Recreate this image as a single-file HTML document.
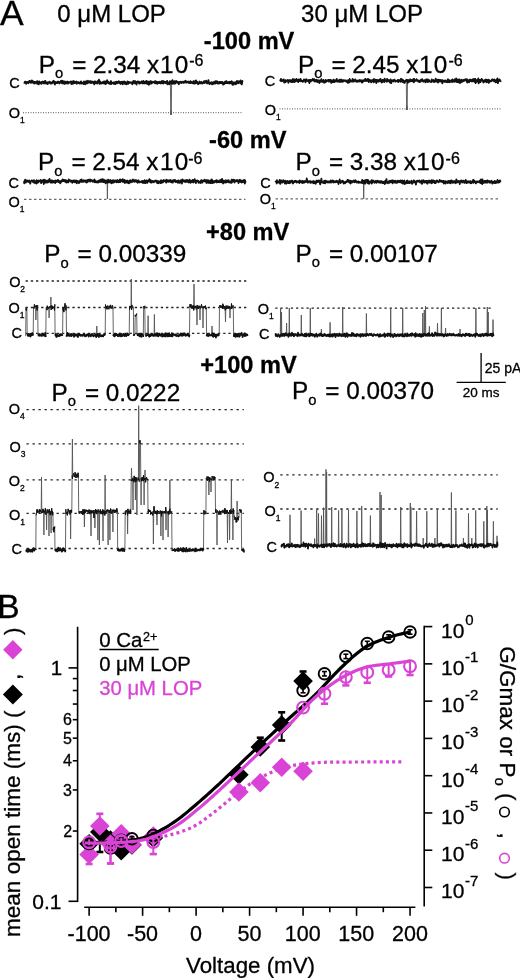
<!DOCTYPE html>
<html><head><meta charset="utf-8"><style>
html,body{margin:0;padding:0;background:#fff;}
svg{display:block;will-change:transform;}
text{font-family:"Liberation Sans",sans-serif;stroke-width:0.3px;}
</style></head><body>
<svg width="520" height="978" viewBox="0 0 520 978">
<rect width="520" height="978" fill="#fff"/>
<text x="0.00" y="24.80" font-size="35.5" fill="#000" stroke="#000">A</text>
<text x="57.29" y="22.00" font-size="24" fill="#000" stroke="#000">0 μM LOP</text>
<text x="301.04" y="22.00" font-size="24" fill="#000" stroke="#000">30 μM LOP</text>
<text x="203.86" y="48.60" font-size="23.6" font-weight="bold" fill="#000" stroke="#000">-100 mV</text>
<text x="38.81" y="72.60" font-size="24.3" fill="#000" stroke="#000">P</text>
<text x="55.11" y="78.00" font-size="14.8" stroke="#000">o</text>
<text x="72.15" y="72.60" font-size="24.3" stroke="#000">= 2.34 x</text>
<text x="174.66" y="72.60" font-size="24.3" fill="#000" stroke="#000">0</text>
<text x="159.91" y="72.60" font-size="24.3" fill="#000" stroke="#000">1</text>
<text x="189.18" y="65.90" font-size="16" fill="#000" stroke="#000">-6</text>
<text x="298.06" y="72.60" font-size="24.3" fill="#000" stroke="#000">P</text>
<text x="314.36" y="78.00" font-size="14.8" stroke="#000">o</text>
<text x="331.40" y="72.60" font-size="24.3" stroke="#000">= 2.45 x</text>
<text x="433.86" y="72.60" font-size="24.3" fill="#000" stroke="#000">0</text>
<text x="419.11" y="72.60" font-size="24.3" fill="#000" stroke="#000">1</text>
<text x="448.48" y="65.90" font-size="16" fill="#000" stroke="#000">-6</text>
<text x="9.28" y="88.00" font-size="14.5" fill="#000" stroke="#000">C</text>
<text x="8.85" y="118.00" font-size="14.5" fill="#000" stroke="#000">O</text>
<text x="20.03" y="123.20" font-size="8.5" stroke="#000">1</text>
<text x="264.77" y="86.00" font-size="14.5" fill="#000" stroke="#000">C</text>
<text x="264.85" y="115.00" font-size="14.5" fill="#000" stroke="#000">O</text>
<text x="276.03" y="120.20" font-size="8.5" stroke="#000">1</text>
<line x1="23.00" y1="112.70" x2="243.00" y2="112.70" stroke="#555" stroke-width="1" stroke-dasharray="1 1.5"/>
<line x1="279.50" y1="108.90" x2="501.00" y2="108.90" stroke="#555" stroke-width="1" stroke-dasharray="1 1.5"/>
<polyline points="24.00,82.6 24.30,82.9 24.60,82.4 24.90,81.8 25.20,82.2 25.50,81.7 25.80,82.7 26.10,83.8 26.40,82.2 26.70,82.0 27.00,83.0 27.30,82.9 27.60,82.7 27.90,81.8 28.20,82.6 28.50,83.2 28.80,81.4 29.10,82.2 29.40,80.9 29.70,81.4 30.00,80.9 30.30,82.4 30.60,81.5 30.90,82.8 31.20,82.7 31.50,82.4 31.80,80.3 32.10,82.1 32.40,82.6 32.70,82.7 33.00,81.2 33.30,82.2 33.60,81.7 33.90,81.9 34.20,83.6 34.50,81.9 34.80,82.6 35.10,83.4 35.40,82.1 35.70,82.5 36.00,82.7 36.30,82.7 36.60,81.5 36.90,82.7 37.20,83.8 37.50,81.2 37.80,83.4 38.10,82.7 38.40,82.0 38.70,84.4 39.00,83.3 39.30,81.5 39.60,82.7 39.90,83.1 40.20,82.4 40.50,83.2 40.80,82.5 41.10,83.2 41.40,83.9 41.70,82.0 42.00,82.8 42.30,82.2 42.60,82.7 42.90,81.5 43.20,82.1 43.50,82.4 43.80,83.4 44.10,83.6 44.40,81.4 44.70,81.9 45.00,83.2 45.30,80.8 45.60,82.2 45.90,82.5 46.20,83.7 46.50,83.2 46.80,82.3 47.10,82.3 47.40,82.4 47.70,84.0 48.00,82.2 48.30,82.3 48.60,82.9 48.90,82.5 49.20,82.4 49.50,81.6 49.80,82.6 50.10,82.2 50.40,83.6 50.70,83.2 51.00,82.6 51.30,83.2 51.60,82.3 51.90,83.5 52.20,82.6 52.50,83.1 52.80,81.4 53.10,82.9 53.40,81.1 53.70,80.8 54.00,82.3 54.30,81.8 54.60,82.7 54.90,84.6 55.20,81.9 55.50,82.0 55.80,82.8 56.10,83.0 56.40,82.4 56.70,82.4 57.00,83.2 57.30,83.1 57.60,81.7 57.90,82.5 58.20,82.6 58.50,81.7 58.80,82.8 59.10,81.8 59.40,83.5 59.70,82.8 60.00,82.7 60.30,82.1 60.60,82.5 60.90,80.8 61.20,81.6 61.50,82.9 61.80,80.7 62.10,83.4 62.40,81.0 62.70,83.3 63.00,81.8 63.30,83.3 63.60,82.7 63.90,81.2 64.20,83.7 64.50,83.9 64.80,82.5 65.10,82.4 65.40,82.5 65.70,81.7 66.00,83.6 66.30,82.1 66.60,82.6 66.90,81.9 67.20,82.0 67.50,81.5 67.80,83.7 68.10,82.5 68.40,83.5 68.70,82.6 69.00,82.0 69.30,82.3 69.60,82.1 69.90,82.6 70.20,82.3 70.50,82.3 70.80,81.4 71.10,81.9 71.40,84.1 71.70,82.0 72.00,81.7 72.30,82.9 72.60,83.9 72.90,81.3 73.20,82.4 73.50,82.0 73.80,81.0 74.10,83.3 74.40,82.6 74.70,82.7 75.00,81.9 75.30,83.0 75.60,82.1 75.90,82.5 76.20,81.6 76.50,81.5 76.80,83.8 77.10,82.1 77.40,82.9 77.70,82.6 78.00,82.2 78.30,82.1 78.60,83.2 78.90,82.3 79.20,82.5 79.50,82.6 79.80,83.7 80.10,83.2 80.40,82.9 80.70,82.1 81.00,81.4 81.30,83.5 81.60,83.5 81.90,82.5 82.20,83.1 82.50,83.3 82.80,83.3 83.10,83.4 83.40,82.2 83.70,84.0 84.00,81.5 84.30,83.4 84.60,83.0 84.90,83.4 85.20,84.3 85.50,83.9 85.80,81.6 86.10,81.1 86.40,83.3 86.70,81.7 87.00,82.6 87.30,83.4 87.60,81.1 87.90,80.7 88.20,82.8 88.50,82.6 88.80,82.4 89.10,82.6 89.40,81.8 89.70,81.2 90.00,82.5 90.30,81.7 90.60,81.1 90.90,83.1 91.20,82.5 91.50,83.0 91.80,81.7 92.10,82.0 92.40,81.7 92.70,81.8 93.00,82.8 93.30,81.9 93.60,82.9 93.90,82.9 94.20,84.4 94.50,81.3 94.80,83.4 95.10,82.5 95.40,82.6 95.70,81.3 96.00,82.2 96.30,83.3 96.60,82.5 96.90,82.7 97.20,82.3 97.50,83.6 97.80,82.6 98.10,80.6 98.40,82.0 98.70,80.8 99.00,79.7 99.30,82.1 99.60,83.8 99.90,82.6 100.20,81.5 100.50,81.8 100.80,83.6 101.10,82.7 101.40,82.6 101.70,82.6 102.00,82.6 102.30,83.3 102.60,83.1 102.90,82.8 103.20,81.7 103.50,83.1 103.80,82.0 104.10,83.6 104.40,81.5 104.70,82.5 105.00,82.6 105.30,81.4 105.60,84.1 105.90,83.9 106.20,82.2 106.50,83.3 106.80,82.9 107.10,80.2 107.40,82.8 107.70,82.5 108.00,82.7 108.30,81.6 108.60,82.4 108.90,82.4 109.20,83.7 109.50,82.9 109.80,82.6 110.10,84.0 110.40,82.1 110.70,82.2 111.00,81.0 111.30,84.0 111.60,83.5 111.90,83.4 112.20,83.2 112.50,82.7 112.80,82.8 113.10,82.4 113.40,82.4 113.70,82.6 114.00,84.0 114.30,83.1 114.60,82.5 114.90,82.1 115.20,82.0 115.50,84.0 115.80,83.1 116.10,82.7 116.40,82.3 116.70,81.6 117.00,82.5 117.30,83.4 117.60,82.2 117.90,82.4 118.20,82.4 118.50,82.7 118.80,81.2 119.10,82.4 119.40,81.8 119.70,83.4 120.00,81.9 120.30,83.1 120.60,84.0 120.90,82.3 121.20,82.1 121.50,82.8 121.80,82.6 122.10,81.7 122.40,83.0 122.70,84.4 123.00,82.4 123.30,82.4 123.60,81.7 123.90,82.9 124.20,81.5 124.50,81.6 124.80,83.8 125.10,81.8 125.40,83.6 125.70,84.0 126.00,82.8 126.30,83.1 126.60,84.4 126.90,82.4 127.20,82.1 127.50,81.4 127.80,82.6 128.10,83.9 128.40,83.5 128.70,81.8 129.00,81.8 129.30,82.1 129.60,82.9 129.90,82.4 130.20,82.8 130.50,82.9 130.80,82.3 131.10,82.6 131.40,82.8 131.70,82.5 132.00,83.1 132.30,84.3 132.60,83.1 132.90,82.7 133.20,81.1 133.50,82.9 133.80,80.8 134.10,81.3 134.40,83.4 134.70,83.2 135.00,82.5 135.30,81.1 135.60,82.3 135.90,82.0 136.20,83.2 136.50,84.6 136.80,82.8 137.10,81.9 137.40,81.5 137.70,82.5 138.00,82.4 138.30,81.6 138.60,82.7 138.90,81.6 139.20,83.6 139.50,83.6 139.80,83.6 140.10,82.2 140.40,83.1 140.70,82.5 141.00,82.3 141.30,82.3 141.60,81.4 141.90,81.3 142.20,83.3 142.50,82.4 142.80,82.8 143.10,83.5 143.40,81.0 143.70,81.9 144.00,82.8 144.30,83.0 144.60,82.3 144.90,83.5 145.20,82.8 145.50,81.5 145.80,81.8 146.10,83.3 146.40,83.0 146.70,80.9 147.00,83.8 147.30,83.1 147.60,83.8 147.90,82.3 148.20,82.3 148.50,81.6 148.80,84.9 149.10,82.4 149.40,84.0 149.70,82.0 150.00,82.7 150.30,81.1 150.60,82.3 150.90,83.5 151.20,81.5 151.50,83.6 151.80,82.9 152.10,81.7 152.40,82.1 152.70,82.2 153.00,82.6 153.30,82.1 153.60,81.9 153.90,82.3 154.20,81.7 154.50,81.4 154.80,82.6 155.10,83.4 155.40,81.2 155.70,82.6 156.00,82.0 156.30,81.7 156.60,83.4 156.90,82.1 157.20,83.9 157.50,81.9 157.80,82.9 158.10,82.4 158.40,81.9 158.70,83.1 159.00,82.5 159.30,83.1 159.60,82.6 159.90,81.6 160.20,82.5 160.50,82.6 160.80,83.5 161.10,81.8 161.40,82.6 161.70,81.1 162.00,83.2 162.30,81.6 162.60,81.0 162.90,82.5 163.20,83.6 163.50,81.2 163.80,81.6 164.10,81.9 164.40,81.6 164.70,82.9 165.00,81.9 165.30,82.0 165.60,83.1 165.90,81.9 166.20,83.0 166.50,81.7 166.80,81.5 167.10,80.9 167.40,84.3 167.70,82.3 168.00,82.8 168.30,82.6 168.60,82.7 168.90,82.6 169.20,84.3 169.50,81.7 169.80,81.2 170.10,81.7 170.40,81.4 170.70,115.0 171.00,110.3 171.30,115.0 171.60,81.3 171.90,82.3 172.20,83.9 172.50,80.1 172.80,83.1 173.10,81.6 173.40,83.5 173.70,81.6 174.00,82.3 174.30,81.2 174.60,81.7 174.90,83.8 175.20,83.3 175.50,82.2 175.80,81.8 176.10,80.9 176.40,82.2 176.70,82.6 177.00,82.5 177.30,82.5 177.60,81.6 177.90,82.5 178.20,82.6 178.50,83.8 178.80,84.3 179.10,82.5 179.40,81.9 179.70,82.5 180.00,82.1 180.30,81.9 180.60,82.5 180.90,81.7 181.20,83.1 181.50,82.5 181.80,82.8 182.10,82.4 182.40,81.9 182.70,81.7 183.00,82.4 183.30,82.1 183.60,82.8 183.90,82.6 184.20,81.4 184.50,82.7 184.80,81.4 185.10,82.0 185.40,82.3 185.70,80.7 186.00,82.7 186.30,82.7 186.60,82.5 186.90,82.2 187.20,82.3 187.50,81.7 187.80,82.4 188.10,82.1 188.40,82.7 188.70,81.5 189.00,82.8 189.30,82.7 189.60,82.5 189.90,82.2 190.20,83.1 190.50,81.1 190.80,83.0 191.10,82.8 191.40,82.9 191.70,82.9 192.00,82.0 192.30,82.4 192.60,83.2 192.90,83.0 193.20,82.8 193.50,81.2 193.80,83.1 194.10,83.7 194.40,83.5 194.70,82.8 195.00,81.2 195.30,83.4 195.60,82.5 195.90,80.3 196.20,82.9 196.50,81.3 196.80,81.4 197.10,82.0 197.40,83.7 197.70,82.3 198.00,82.8 198.30,84.2 198.60,84.0 198.90,82.5 199.20,82.4 199.50,81.5 199.80,82.0 200.10,83.0 200.40,83.0 200.70,82.7 201.00,83.5 201.30,81.9 201.60,82.5 201.90,83.3 202.20,83.1 202.50,83.6 202.80,83.0 203.10,82.3 203.40,82.9 203.70,81.7 204.00,81.1 204.30,83.1 204.60,82.6 204.90,82.9 205.20,81.1 205.50,82.3 205.80,82.1 206.10,81.8 206.40,80.6 206.70,82.3 207.00,83.4 207.30,82.9 207.60,82.1 207.90,82.6 208.20,83.3 208.50,80.1 208.80,82.5 209.10,83.1 209.40,83.2 209.70,84.1 210.00,83.6 210.30,82.9 210.60,82.9 210.90,83.3 211.20,82.1 211.50,82.6 211.80,83.4 212.10,84.4 212.40,82.5 212.70,82.6 213.00,82.8 213.30,83.8 213.60,82.6 213.90,83.9 214.20,81.7 214.50,82.4 214.80,82.4 215.10,83.3 215.40,83.5 215.70,81.2 216.00,81.8 216.30,82.9 216.60,82.0 216.90,81.2 217.20,83.5 217.50,83.0 217.80,83.0 218.10,82.2 218.40,83.5 218.70,82.4 219.00,83.6 219.30,81.8 219.60,81.8 219.90,82.8 220.20,82.0 220.50,83.2 220.80,82.8 221.10,81.8 221.40,82.7 221.70,82.3 222.00,83.4 222.30,82.0 222.60,82.2 222.90,83.7 223.20,84.6 223.50,84.4 223.80,82.7 224.10,82.8 224.40,84.0 224.70,82.5 225.00,81.7 225.30,82.7 225.60,83.0 225.90,81.9 226.20,81.1 226.50,81.3 226.80,83.2 227.10,81.9 227.40,82.5 227.70,82.8 228.00,83.2 228.30,82.3 228.60,83.0 228.90,81.8 229.20,82.3 229.50,81.7 229.80,83.6 230.10,82.6 230.40,81.9 230.70,82.3 231.00,82.4 231.30,83.2 231.60,81.2 231.90,81.7 232.20,82.3 232.50,84.9 232.80,83.5 233.10,82.5 233.40,83.2 233.70,84.5 234.00,82.4 234.30,82.3 234.60,83.7 234.90,83.0 235.20,83.2 235.50,82.1 235.80,84.3 236.10,84.1 236.40,83.1 236.70,83.2 237.00,80.8 237.30,83.2 237.60,82.4 237.90,83.0 238.20,83.2 238.50,82.3 238.80,81.1 239.10,82.9 239.40,81.9 239.70,82.3 240.00,82.1 240.30,82.3 240.60,80.5 240.90,83.7 241.20,82.8 241.50,83.6 241.80,84.4 242.10,82.6 242.40,81.0 242.70,81.8" fill="none" stroke="#555" stroke-width="0.9" stroke-linejoin="round"/>
<polyline points="24.00,82.6 24.30,82.9 24.60,82.4 24.90,81.8 25.20,82.2 25.50,81.7 25.80,82.7 26.10,83.8 26.40,82.2 26.70,82.0 27.00,83.0 27.30,82.9 27.60,82.7 27.90,81.8 28.20,82.6 28.50,83.2 28.80,81.4 29.10,82.2 29.40,80.9 29.70,81.4 30.00,80.9 30.30,82.4 30.60,81.5 30.90,82.8 31.20,82.7 31.50,82.4 31.80,80.3 32.10,82.1 32.40,82.6 32.70,82.7 33.00,81.2 33.30,82.2 33.60,81.7 33.90,81.9 34.20,83.6 34.50,81.9 34.80,82.6 35.10,83.4 35.40,82.1 35.70,82.5 36.00,82.7 36.30,82.7 36.60,81.5 36.90,82.7 37.20,83.8 37.50,81.2 37.80,83.4 38.10,82.7 38.40,82.0 38.70,84.4 39.00,83.3 39.30,81.5 39.60,82.7 39.90,83.1 40.20,82.4 40.50,83.2 40.80,82.5 41.10,83.2 41.40,83.9 41.70,82.0 42.00,82.8 42.30,82.2 42.60,82.7 42.90,81.5 43.20,82.1 43.50,82.4 43.80,83.4 44.10,83.6 44.40,81.4 44.70,81.9 45.00,83.2 45.30,80.8 45.60,82.2 45.90,82.5 46.20,83.7 46.50,83.2 46.80,82.3 47.10,82.3 47.40,82.4 47.70,84.0 48.00,82.2 48.30,82.3 48.60,82.9 48.90,82.5 49.20,82.4 49.50,81.6 49.80,82.6 50.10,82.2 50.40,83.6 50.70,83.2 51.00,82.6 51.30,83.2 51.60,82.3 51.90,83.5 52.20,82.6 52.50,83.1 52.80,81.4 53.10,82.9 53.40,81.1 53.70,80.8 54.00,82.3 54.30,81.8 54.60,82.7 54.90,84.6 55.20,81.9 55.50,82.0 55.80,82.8 56.10,83.0 56.40,82.4 56.70,82.4 57.00,83.2 57.30,83.1 57.60,81.7 57.90,82.5 58.20,82.6 58.50,81.7 58.80,82.8 59.10,81.8 59.40,83.5 59.70,82.8 60.00,82.7 60.30,82.1 60.60,82.5 60.90,80.8 61.20,81.6 61.50,82.9 61.80,80.7 62.10,83.4 62.40,81.0 62.70,83.3 63.00,81.8 63.30,83.3 63.60,82.7 63.90,81.2 64.20,83.7 64.50,83.9 64.80,82.5 65.10,82.4 65.40,82.5 65.70,81.7 66.00,83.6 66.30,82.1 66.60,82.6 66.90,81.9 67.20,82.0 67.50,81.5 67.80,83.7 68.10,82.5 68.40,83.5 68.70,82.6 69.00,82.0 69.30,82.3 69.60,82.1 69.90,82.6 70.20,82.3 70.50,82.3 70.80,81.4 71.10,81.9 71.40,84.1 71.70,82.0 72.00,81.7 72.30,82.9 72.60,83.9 72.90,81.3 73.20,82.4 73.50,82.0 73.80,81.0 74.10,83.3 74.40,82.6 74.70,82.7 75.00,81.9 75.30,83.0 75.60,82.1 75.90,82.5 76.20,81.6 76.50,81.5 76.80,83.8 77.10,82.1 77.40,82.9 77.70,82.6 78.00,82.2 78.30,82.1 78.60,83.2 78.90,82.3 79.20,82.5 79.50,82.6 79.80,83.7 80.10,83.2 80.40,82.9 80.70,82.1 81.00,81.4 81.30,83.5 81.60,83.5 81.90,82.5 82.20,83.1 82.50,83.3 82.80,83.3 83.10,83.4 83.40,82.2 83.70,84.0 84.00,81.5 84.30,83.4 84.60,83.0 84.90,83.4 85.20,84.3 85.50,83.9 85.80,81.6 86.10,81.1 86.40,83.3 86.70,81.7 87.00,82.6 87.30,83.4 87.60,81.1 87.90,80.7 88.20,82.8 88.50,82.6 88.80,82.4 89.10,82.6 89.40,81.8 89.70,81.2 90.00,82.5 90.30,81.7 90.60,81.1 90.90,83.1 91.20,82.5 91.50,83.0 91.80,81.7 92.10,82.0 92.40,81.7 92.70,81.8 93.00,82.8 93.30,81.9 93.60,82.9 93.90,82.9 94.20,84.4 94.50,81.3 94.80,83.4 95.10,82.5 95.40,82.6 95.70,81.3 96.00,82.2 96.30,83.3 96.60,82.5 96.90,82.7 97.20,82.3 97.50,83.6 97.80,82.6 98.10,80.6 98.40,82.0 98.70,80.8 99.00,79.7 99.30,82.1 99.60,83.8 99.90,82.6 100.20,81.5 100.50,81.8 100.80,83.6 101.10,82.7 101.40,82.6 101.70,82.6 102.00,82.6 102.30,83.3 102.60,83.1 102.90,82.8 103.20,81.7 103.50,83.1 103.80,82.0 104.10,83.6 104.40,81.5 104.70,82.5 105.00,82.6 105.30,81.4 105.60,84.1 105.90,83.9 106.20,82.2 106.50,83.3 106.80,82.9 107.10,80.2 107.40,82.8 107.70,82.5 108.00,82.7 108.30,81.6 108.60,82.4 108.90,82.4 109.20,83.7 109.50,82.9 109.80,82.6 110.10,84.0 110.40,82.1 110.70,82.2 111.00,81.0 111.30,84.0 111.60,83.5 111.90,83.4 112.20,83.2 112.50,82.7 112.80,82.8 113.10,82.4 113.40,82.4 113.70,82.6 114.00,84.0 114.30,83.1 114.60,82.5 114.90,82.1 115.20,82.0 115.50,84.0 115.80,83.1 116.10,82.7 116.40,82.3 116.70,81.6 117.00,82.5 117.30,83.4 117.60,82.2 117.90,82.4 118.20,82.4 118.50,82.7 118.80,81.2 119.10,82.4 119.40,81.8 119.70,83.4 120.00,81.9 120.30,83.1 120.60,84.0 120.90,82.3 121.20,82.1 121.50,82.8 121.80,82.6 122.10,81.7 122.40,83.0 122.70,84.4 123.00,82.4 123.30,82.4 123.60,81.7 123.90,82.9 124.20,81.5 124.50,81.6 124.80,83.8 125.10,81.8 125.40,83.6 125.70,84.0 126.00,82.8 126.30,83.1 126.60,84.4 126.90,82.4 127.20,82.1 127.50,81.4 127.80,82.6 128.10,83.9 128.40,83.5 128.70,81.8 129.00,81.8 129.30,82.1 129.60,82.9 129.90,82.4 130.20,82.8 130.50,82.9 130.80,82.3 131.10,82.6 131.40,82.8 131.70,82.5 132.00,83.1 132.30,84.3 132.60,83.1 132.90,82.7 133.20,81.1 133.50,82.9 133.80,80.8 134.10,81.3 134.40,83.4 134.70,83.2 135.00,82.5 135.30,81.1 135.60,82.3 135.90,82.0 136.20,83.2 136.50,84.6 136.80,82.8 137.10,81.9 137.40,81.5 137.70,82.5 138.00,82.4 138.30,81.6 138.60,82.7 138.90,81.6 139.20,83.6 139.50,83.6 139.80,83.6 140.10,82.2 140.40,83.1 140.70,82.5 141.00,82.3 141.30,82.3 141.60,81.4 141.90,81.3 142.20,83.3 142.50,82.4 142.80,82.8 143.10,83.5 143.40,81.0 143.70,81.9 144.00,82.8 144.30,83.0 144.60,82.3 144.90,83.5 145.20,82.8 145.50,81.5 145.80,81.8 146.10,83.3 146.40,83.0 146.70,80.9 147.00,83.8 147.30,83.1 147.60,83.8 147.90,82.3 148.20,82.3 148.50,81.6 148.80,84.9 149.10,82.4 149.40,84.0 149.70,82.0 150.00,82.7 150.30,81.1 150.60,82.3 150.90,83.5 151.20,81.5 151.50,83.6 151.80,82.9 152.10,81.7 152.40,82.1 152.70,82.2 153.00,82.6 153.30,82.1 153.60,81.9 153.90,82.3 154.20,81.7 154.50,81.4 154.80,82.6 155.10,83.4 155.40,81.2 155.70,82.6 156.00,82.0 156.30,81.7 156.60,83.4 156.90,82.1 157.20,83.9 157.50,81.9 157.80,82.9 158.10,82.4 158.40,81.9 158.70,83.1 159.00,82.5 159.30,83.1 159.60,82.6 159.90,81.6 160.20,82.5 160.50,82.6 160.80,83.5 161.10,81.8 161.40,82.6 161.70,81.1 162.00,83.2 162.30,81.6 162.60,81.0 162.90,82.5 163.20,83.6 163.50,81.2 163.80,81.6 164.10,81.9 164.40,81.6 164.70,82.9 165.00,81.9 165.30,82.0 165.60,83.1 165.90,81.9 166.20,83.0 166.50,81.7 166.80,81.5 167.10,80.9 167.40,84.3 167.70,82.3 168.00,82.8 168.30,82.6 168.60,82.7 168.90,82.6 169.20,84.3 169.50,81.7 169.80,81.2 170.10,81.7 170.40,81.4 170.70,83.3 171.00,83.3 171.30,81.7 171.60,81.3 171.90,82.3 172.20,83.9 172.50,80.1 172.80,83.1 173.10,81.6 173.40,83.5 173.70,81.6 174.00,82.3 174.30,81.2 174.60,81.7 174.90,83.8 175.20,83.3 175.50,82.2 175.80,81.8 176.10,80.9 176.40,82.2 176.70,82.6 177.00,82.5 177.30,82.5 177.60,81.6 177.90,82.5 178.20,82.6 178.50,83.8 178.80,84.3 179.10,82.5 179.40,81.9 179.70,82.5 180.00,82.1 180.30,81.9 180.60,82.5 180.90,81.7 181.20,83.1 181.50,82.5 181.80,82.8 182.10,82.4 182.40,81.9 182.70,81.7 183.00,82.4 183.30,82.1 183.60,82.8 183.90,82.6 184.20,81.4 184.50,82.7 184.80,81.4 185.10,82.0 185.40,82.3 185.70,80.7 186.00,82.7 186.30,82.7 186.60,82.5 186.90,82.2 187.20,82.3 187.50,81.7 187.80,82.4 188.10,82.1 188.40,82.7 188.70,81.5 189.00,82.8 189.30,82.7 189.60,82.5 189.90,82.2 190.20,83.1 190.50,81.1 190.80,83.0 191.10,82.8 191.40,82.9 191.70,82.9 192.00,82.0 192.30,82.4 192.60,83.2 192.90,83.0 193.20,82.8 193.50,81.2 193.80,83.1 194.10,83.7 194.40,83.5 194.70,82.8 195.00,81.2 195.30,83.4 195.60,82.5 195.90,80.3 196.20,82.9 196.50,81.3 196.80,81.4 197.10,82.0 197.40,83.7 197.70,82.3 198.00,82.8 198.30,84.2 198.60,84.0 198.90,82.5 199.20,82.4 199.50,81.5 199.80,82.0 200.10,83.0 200.40,83.0 200.70,82.7 201.00,83.5 201.30,81.9 201.60,82.5 201.90,83.3 202.20,83.1 202.50,83.6 202.80,83.0 203.10,82.3 203.40,82.9 203.70,81.7 204.00,81.1 204.30,83.1 204.60,82.6 204.90,82.9 205.20,81.1 205.50,82.3 205.80,82.1 206.10,81.8 206.40,80.6 206.70,82.3 207.00,83.4 207.30,82.9 207.60,82.1 207.90,82.6 208.20,83.3 208.50,80.1 208.80,82.5 209.10,83.1 209.40,83.2 209.70,84.1 210.00,83.6 210.30,82.9 210.60,82.9 210.90,83.3 211.20,82.1 211.50,82.6 211.80,83.4 212.10,84.4 212.40,82.5 212.70,82.6 213.00,82.8 213.30,83.8 213.60,82.6 213.90,83.9 214.20,81.7 214.50,82.4 214.80,82.4 215.10,83.3 215.40,83.5 215.70,81.2 216.00,81.8 216.30,82.9 216.60,82.0 216.90,81.2 217.20,83.5 217.50,83.0 217.80,83.0 218.10,82.2 218.40,83.5 218.70,82.4 219.00,83.6 219.30,81.8 219.60,81.8 219.90,82.8 220.20,82.0 220.50,83.2 220.80,82.8 221.10,81.8 221.40,82.7 221.70,82.3 222.00,83.4 222.30,82.0 222.60,82.2 222.90,83.7 223.20,84.6 223.50,84.4 223.80,82.7 224.10,82.8 224.40,84.0 224.70,82.5 225.00,81.7 225.30,82.7 225.60,83.0 225.90,81.9 226.20,81.1 226.50,81.3 226.80,83.2 227.10,81.9 227.40,82.5 227.70,82.8 228.00,83.2 228.30,82.3 228.60,83.0 228.90,81.8 229.20,82.3 229.50,81.7 229.80,83.6 230.10,82.6 230.40,81.9 230.70,82.3 231.00,82.4 231.30,83.2 231.60,81.2 231.90,81.7 232.20,82.3 232.50,84.9 232.80,83.5 233.10,82.5 233.40,83.2 233.70,84.5 234.00,82.4 234.30,82.3 234.60,83.7 234.90,83.0 235.20,83.2 235.50,82.1 235.80,84.3 236.10,84.1 236.40,83.1 236.70,83.2 237.00,80.8 237.30,83.2 237.60,82.4 237.90,83.0 238.20,83.2 238.50,82.3 238.80,81.1 239.10,82.9 239.40,81.9 239.70,82.3 240.00,82.1 240.30,82.3 240.60,80.5 240.90,83.7 241.20,82.8 241.50,83.6 241.80,84.4 242.10,82.6 242.40,81.0 242.70,81.8" fill="none" stroke="#111" stroke-width="1.8" stroke-linejoin="round"/>
<polyline points="280.00,79.7 280.30,80.3 280.60,80.9 280.90,79.0 281.20,81.1 281.50,79.4 281.80,81.1 282.10,80.7 282.40,80.5 282.70,80.7 283.00,80.3 283.30,80.2 283.60,79.3 283.90,80.8 284.20,82.5 284.50,82.6 284.80,82.0 285.10,81.4 285.40,80.2 285.70,82.1 286.00,80.7 286.30,80.7 286.60,80.5 286.90,80.9 287.20,80.4 287.50,80.7 287.80,79.8 288.10,80.5 288.40,82.9 288.70,80.7 289.00,80.6 289.30,81.3 289.60,81.4 289.90,79.8 290.20,80.6 290.50,81.6 290.80,81.0 291.10,80.9 291.40,82.2 291.70,80.2 292.00,80.9 292.30,80.3 292.60,82.1 292.90,79.0 293.20,80.2 293.50,80.3 293.80,81.4 294.10,81.3 294.40,82.1 294.70,79.4 295.00,81.5 295.30,80.5 295.60,80.2 295.90,81.3 296.20,80.0 296.50,78.9 296.80,80.5 297.10,79.5 297.40,80.2 297.70,81.1 298.00,81.1 298.30,82.2 298.60,80.6 298.90,79.4 299.20,80.1 299.50,80.0 299.80,79.7 300.10,81.2 300.40,80.2 300.70,79.0 301.00,81.4 301.30,80.7 301.60,81.1 301.90,80.9 302.20,81.4 302.50,80.8 302.80,81.9 303.10,81.2 303.40,81.2 303.70,81.2 304.00,79.5 304.30,80.7 304.60,80.6 304.90,81.0 305.20,79.6 305.50,82.3 305.80,80.9 306.10,79.7 306.40,79.3 306.70,80.5 307.00,80.7 307.30,80.2 307.60,80.9 307.90,80.2 308.20,81.3 308.50,80.1 308.80,80.8 309.10,81.7 309.40,83.1 309.70,79.9 310.00,80.4 310.30,80.0 310.60,81.5 310.90,79.8 311.20,80.4 311.50,80.8 311.80,79.9 312.10,79.9 312.40,80.4 312.70,78.9 313.00,79.5 313.30,80.4 313.60,80.9 313.90,80.6 314.20,79.2 314.50,80.4 314.80,81.5 315.10,81.3 315.40,80.7 315.70,80.0 316.00,81.4 316.30,80.3 316.60,79.7 316.90,80.1 317.20,82.1 317.50,81.0 317.80,81.8 318.10,80.4 318.40,81.6 318.70,80.3 319.00,80.7 319.30,83.0 319.60,81.5 319.90,80.3 320.20,80.7 320.50,81.1 320.80,81.9 321.10,80.4 321.40,79.2 321.70,80.5 322.00,80.8 322.30,80.9 322.60,82.0 322.90,81.1 323.20,81.5 323.50,79.8 323.80,81.6 324.10,82.7 324.40,81.5 324.70,81.0 325.00,80.9 325.30,82.4 325.60,80.0 325.90,80.7 326.20,81.2 326.50,81.5 326.80,80.4 327.10,81.1 327.40,80.5 327.70,80.9 328.00,80.7 328.30,79.8 328.60,80.8 328.90,81.6 329.20,79.9 329.50,80.6 329.80,81.4 330.10,79.8 330.40,81.0 330.70,79.8 331.00,81.8 331.30,82.9 331.60,82.6 331.90,80.6 332.20,81.5 332.50,80.9 332.80,80.9 333.10,82.2 333.40,79.6 333.70,81.7 334.00,80.8 334.30,82.1 334.60,81.0 334.90,80.2 335.20,81.0 335.50,81.5 335.80,80.8 336.10,81.2 336.40,80.3 336.70,78.9 337.00,81.6 337.30,81.4 337.60,80.9 337.90,80.9 338.20,81.7 338.50,80.4 338.80,80.2 339.10,80.6 339.40,81.9 339.70,79.6 340.00,81.9 340.30,80.2 340.60,79.8 340.90,81.9 341.20,80.7 341.50,79.6 341.80,80.5 342.10,81.6 342.40,81.9 342.70,80.4 343.00,81.2 343.30,81.4 343.60,80.2 343.90,81.1 344.20,80.8 344.50,80.3 344.80,80.4 345.10,80.9 345.40,80.8 345.70,80.3 346.00,80.4 346.30,81.8 346.60,81.0 346.90,81.6 347.20,81.9 347.50,81.3 347.80,82.8 348.10,80.1 348.40,81.5 348.70,80.5 349.00,82.5 349.30,82.3 349.60,79.0 349.90,79.9 350.20,81.4 350.50,81.5 350.80,81.5 351.10,80.7 351.40,81.2 351.70,81.4 352.00,80.7 352.30,81.7 352.60,78.8 352.90,81.4 353.20,79.9 353.50,81.7 353.80,80.6 354.10,80.0 354.40,81.1 354.70,80.0 355.00,80.0 355.30,79.4 355.60,80.8 355.90,81.2 356.20,81.7 356.50,80.7 356.80,81.7 357.10,80.8 357.40,80.7 357.70,81.3 358.00,81.8 358.30,80.5 358.60,80.6 358.90,80.7 359.20,80.9 359.50,80.0 359.80,81.7 360.10,80.4 360.40,81.2 360.70,80.1 361.00,81.1 361.30,81.2 361.60,80.4 361.90,82.6 362.20,81.1 362.50,82.4 362.80,81.7 363.10,80.2 363.40,80.5 363.70,81.2 364.00,80.9 364.30,80.8 364.60,80.5 364.90,79.2 365.20,80.6 365.50,78.8 365.80,81.1 366.10,80.1 366.40,80.2 366.70,80.6 367.00,81.0 367.30,79.5 367.60,79.2 367.90,79.8 368.20,79.0 368.50,79.9 368.80,82.2 369.10,79.8 369.40,81.4 369.70,79.6 370.00,81.1 370.30,80.5 370.60,80.7 370.90,81.3 371.20,82.4 371.50,81.0 371.80,80.9 372.10,79.9 372.40,81.3 372.70,80.6 373.00,81.5 373.30,80.8 373.60,82.4 373.90,79.0 374.20,80.5 374.50,81.6 374.80,80.5 375.10,80.1 375.40,80.6 375.70,79.6 376.00,80.9 376.30,83.0 376.60,81.8 376.90,79.8 377.20,80.0 377.50,80.4 377.80,81.7 378.10,80.1 378.40,80.2 378.70,81.6 379.00,81.6 379.30,80.5 379.60,79.8 379.90,79.4 380.20,80.2 380.50,78.8 380.80,81.5 381.10,80.2 381.40,81.2 381.70,82.5 382.00,81.9 382.30,79.8 382.60,81.6 382.90,81.8 383.20,80.1 383.50,79.9 383.80,80.7 384.10,79.4 384.40,82.1 384.70,78.6 385.00,79.8 385.30,80.6 385.60,80.6 385.90,80.9 386.20,81.0 386.50,80.6 386.80,81.8 387.10,78.9 387.40,80.8 387.70,80.2 388.00,80.9 388.30,81.0 388.60,80.0 388.90,80.2 389.20,81.5 389.50,81.1 389.80,80.2 390.10,82.6 390.40,82.9 390.70,79.5 391.00,81.1 391.30,83.1 391.60,81.5 391.90,81.0 392.20,80.6 392.50,80.3 392.80,80.6 393.10,80.3 393.40,81.5 393.70,80.4 394.00,80.4 394.30,79.7 394.60,80.8 394.90,80.0 395.20,80.6 395.50,81.7 395.80,81.1 396.10,81.3 396.40,81.1 396.70,80.9 397.00,80.7 397.30,80.5 397.60,81.5 397.90,79.8 398.20,82.0 398.50,80.8 398.80,80.1 399.10,80.4 399.40,80.2 399.70,80.9 400.00,80.2 400.30,81.8 400.60,80.1 400.90,78.8 401.20,80.1 401.50,79.0 401.80,80.8 402.10,81.8 402.40,81.4 402.70,79.6 403.00,80.1 403.30,82.4 403.60,81.1 403.90,80.8 404.20,81.8 404.50,83.0 404.80,82.0 405.10,80.9 405.40,81.1 405.70,81.4 406.00,80.2 406.30,79.8 406.60,110.0 406.90,105.5 407.20,110.0 407.50,80.9 407.80,82.9 408.10,80.0 408.40,80.7 408.70,80.7 409.00,81.2 409.30,81.7 409.60,80.4 409.90,80.1 410.20,79.3 410.50,80.0 410.80,81.3 411.10,80.8 411.40,79.9 411.70,80.5 412.00,80.8 412.30,81.3 412.60,80.3 412.90,80.6 413.20,79.2 413.50,79.8 413.80,82.3 414.10,78.8 414.40,80.5 414.70,81.0 415.00,80.5 415.30,80.1 415.60,80.7 415.90,80.8 416.20,80.7 416.50,79.1 416.80,80.7 417.10,80.0 417.40,80.3 417.70,81.0 418.00,81.4 418.30,81.6 418.60,80.4 418.90,81.6 419.20,81.9 419.50,81.8 419.80,82.1 420.10,80.7 420.40,80.6 420.70,81.5 421.00,79.6 421.30,81.0 421.60,80.3 421.90,80.5 422.20,79.2 422.50,80.0 422.80,80.8 423.10,81.6 423.40,81.7 423.70,80.7 424.00,80.6 424.30,80.1 424.60,81.2 424.90,80.6 425.20,81.3 425.50,82.4 425.80,80.8 426.10,79.5 426.40,80.0 426.70,79.5 427.00,79.7 427.30,82.0 427.60,81.0 427.90,79.4 428.20,81.4 428.50,81.9 428.80,80.5 429.10,80.2 429.40,80.5 429.70,81.1 430.00,81.4 430.30,81.9 430.60,81.9 430.90,81.9 431.20,82.0 431.50,81.4 431.80,79.4 432.10,80.7 432.40,81.1 432.70,80.5 433.00,81.6 433.30,80.5 433.60,80.0 433.90,82.1 434.20,81.4 434.50,81.0 434.80,81.6 435.10,81.8 435.40,81.1 435.70,78.6 436.00,80.2 436.30,80.4 436.60,79.9 436.90,81.0 437.20,81.9 437.50,80.4 437.80,79.8 438.10,82.6 438.40,80.4 438.70,79.7 439.00,81.0 439.30,81.2 439.60,80.2 439.90,81.5 440.20,80.4 440.50,80.0 440.80,81.0 441.10,81.5 441.40,80.2 441.70,81.1 442.00,80.7 442.30,83.3 442.60,80.2 442.90,82.0 443.20,80.8 443.50,80.7 443.80,81.4 444.10,81.6 444.40,81.9 444.70,81.1 445.00,80.3 445.30,80.3 445.60,81.3 445.90,81.3 446.20,82.1 446.50,81.2 446.80,81.8 447.10,82.2 447.40,80.9 447.70,79.5 448.00,79.7 448.30,79.5 448.60,82.2 448.90,80.0 449.20,81.9 449.50,81.3 449.80,82.3 450.10,81.7 450.40,80.7 450.70,80.6 451.00,80.9 451.30,81.0 451.60,80.3 451.90,80.8 452.20,82.2 452.50,79.3 452.80,81.0 453.10,80.0 453.40,81.0 453.70,81.6 454.00,80.7 454.30,81.5 454.60,79.4 454.90,81.8 455.20,80.3 455.50,81.4 455.80,81.0 456.10,78.5 456.40,80.1 456.70,81.0 457.00,82.2 457.30,81.1 457.60,81.0 457.90,79.5 458.20,82.1 458.50,82.4 458.80,80.8 459.10,80.6 459.40,79.3 459.70,81.6 460.00,83.2 460.30,81.4 460.60,81.9 460.90,81.3 461.20,79.9 461.50,82.0 461.80,79.7 462.10,80.6 462.40,81.1 462.70,81.6 463.00,81.2 463.30,81.1 463.60,80.1 463.90,79.6 464.20,80.9 464.50,80.2 464.80,79.6 465.10,79.7 465.40,80.4 465.70,79.1 466.00,79.6 466.30,79.3 466.60,81.0 466.90,81.2 467.20,82.6 467.50,79.5 467.80,80.2 468.10,81.6 468.40,80.6 468.70,80.5 469.00,82.3 469.30,80.5 469.60,79.8 469.90,79.6 470.20,81.1 470.50,81.1 470.80,79.6 471.10,79.9 471.40,81.3 471.70,81.3 472.00,80.2 472.30,81.4 472.60,81.3 472.90,79.2 473.20,80.5 473.50,81.2 473.80,80.3 474.10,78.9 474.40,80.5 474.70,81.5 475.00,82.2 475.30,78.8 475.60,83.2 475.90,79.8 476.20,81.7 476.50,81.9 476.80,81.7 477.10,80.9 477.40,79.8 477.70,81.4 478.00,80.2 478.30,78.5 478.60,83.3 478.90,81.4 479.20,82.4 479.50,80.0 479.80,82.1 480.10,82.2 480.40,82.2 480.70,80.8 481.00,79.7 481.30,80.6 481.60,78.8 481.90,79.3 482.20,80.9 482.50,79.9 482.80,80.7 483.10,80.7 483.40,82.5 483.70,82.0 484.00,80.8 484.30,81.9 484.60,80.1 484.90,80.5 485.20,81.6 485.50,79.7 485.80,80.5 486.10,79.6 486.40,80.9 486.70,82.3 487.00,80.1 487.30,81.0 487.60,80.0 487.90,79.8 488.20,79.7 488.50,82.1 488.80,82.9 489.10,81.2 489.40,80.2 489.70,81.4 490.00,80.5 490.30,81.5 490.60,81.1 490.90,81.1 491.20,81.3 491.50,80.3 491.80,80.4 492.10,79.3 492.40,80.4 492.70,79.5 493.00,80.7 493.30,79.9 493.60,80.9 493.90,81.2 494.20,79.5 494.50,80.1 494.80,80.0 495.10,81.5 495.40,82.3 495.70,81.6 496.00,80.5 496.30,82.1 496.60,79.4 496.90,82.1 497.20,80.2 497.50,78.3 497.80,83.2 498.10,82.2 498.40,79.9 498.70,81.0 499.00,80.6 499.30,80.9 499.60,79.5 499.90,80.2 500.20,81.2 500.50,81.0 500.80,81.9" fill="none" stroke="#555" stroke-width="0.9" stroke-linejoin="round"/>
<polyline points="280.00,79.7 280.30,80.3 280.60,80.9 280.90,79.0 281.20,81.1 281.50,79.4 281.80,81.1 282.10,80.7 282.40,80.5 282.70,80.7 283.00,80.3 283.30,80.2 283.60,79.3 283.90,80.8 284.20,82.5 284.50,82.6 284.80,82.0 285.10,81.4 285.40,80.2 285.70,82.1 286.00,80.7 286.30,80.7 286.60,80.5 286.90,80.9 287.20,80.4 287.50,80.7 287.80,79.8 288.10,80.5 288.40,82.9 288.70,80.7 289.00,80.6 289.30,81.3 289.60,81.4 289.90,79.8 290.20,80.6 290.50,81.6 290.80,81.0 291.10,80.9 291.40,82.2 291.70,80.2 292.00,80.9 292.30,80.3 292.60,82.1 292.90,79.0 293.20,80.2 293.50,80.3 293.80,81.4 294.10,81.3 294.40,82.1 294.70,79.4 295.00,81.5 295.30,80.5 295.60,80.2 295.90,81.3 296.20,80.0 296.50,78.9 296.80,80.5 297.10,79.5 297.40,80.2 297.70,81.1 298.00,81.1 298.30,82.2 298.60,80.6 298.90,79.4 299.20,80.1 299.50,80.0 299.80,79.7 300.10,81.2 300.40,80.2 300.70,79.0 301.00,81.4 301.30,80.7 301.60,81.1 301.90,80.9 302.20,81.4 302.50,80.8 302.80,81.9 303.10,81.2 303.40,81.2 303.70,81.2 304.00,79.5 304.30,80.7 304.60,80.6 304.90,81.0 305.20,79.6 305.50,82.3 305.80,80.9 306.10,79.7 306.40,79.3 306.70,80.5 307.00,80.7 307.30,80.2 307.60,80.9 307.90,80.2 308.20,81.3 308.50,80.1 308.80,80.8 309.10,81.7 309.40,83.1 309.70,79.9 310.00,80.4 310.30,80.0 310.60,81.5 310.90,79.8 311.20,80.4 311.50,80.8 311.80,79.9 312.10,79.9 312.40,80.4 312.70,78.9 313.00,79.5 313.30,80.4 313.60,80.9 313.90,80.6 314.20,79.2 314.50,80.4 314.80,81.5 315.10,81.3 315.40,80.7 315.70,80.0 316.00,81.4 316.30,80.3 316.60,79.7 316.90,80.1 317.20,82.1 317.50,81.0 317.80,81.8 318.10,80.4 318.40,81.6 318.70,80.3 319.00,80.7 319.30,83.0 319.60,81.5 319.90,80.3 320.20,80.7 320.50,81.1 320.80,81.9 321.10,80.4 321.40,79.2 321.70,80.5 322.00,80.8 322.30,80.9 322.60,82.0 322.90,81.1 323.20,81.5 323.50,79.8 323.80,81.6 324.10,82.7 324.40,81.5 324.70,81.0 325.00,80.9 325.30,82.4 325.60,80.0 325.90,80.7 326.20,81.2 326.50,81.5 326.80,80.4 327.10,81.1 327.40,80.5 327.70,80.9 328.00,80.7 328.30,79.8 328.60,80.8 328.90,81.6 329.20,79.9 329.50,80.6 329.80,81.4 330.10,79.8 330.40,81.0 330.70,79.8 331.00,81.8 331.30,82.9 331.60,82.6 331.90,80.6 332.20,81.5 332.50,80.9 332.80,80.9 333.10,82.2 333.40,79.6 333.70,81.7 334.00,80.8 334.30,82.1 334.60,81.0 334.90,80.2 335.20,81.0 335.50,81.5 335.80,80.8 336.10,81.2 336.40,80.3 336.70,78.9 337.00,81.6 337.30,81.4 337.60,80.9 337.90,80.9 338.20,81.7 338.50,80.4 338.80,80.2 339.10,80.6 339.40,81.9 339.70,79.6 340.00,81.9 340.30,80.2 340.60,79.8 340.90,81.9 341.20,80.7 341.50,79.6 341.80,80.5 342.10,81.6 342.40,81.9 342.70,80.4 343.00,81.2 343.30,81.4 343.60,80.2 343.90,81.1 344.20,80.8 344.50,80.3 344.80,80.4 345.10,80.9 345.40,80.8 345.70,80.3 346.00,80.4 346.30,81.8 346.60,81.0 346.90,81.6 347.20,81.9 347.50,81.3 347.80,82.8 348.10,80.1 348.40,81.5 348.70,80.5 349.00,82.5 349.30,82.3 349.60,79.0 349.90,79.9 350.20,81.4 350.50,81.5 350.80,81.5 351.10,80.7 351.40,81.2 351.70,81.4 352.00,80.7 352.30,81.7 352.60,78.8 352.90,81.4 353.20,79.9 353.50,81.7 353.80,80.6 354.10,80.0 354.40,81.1 354.70,80.0 355.00,80.0 355.30,79.4 355.60,80.8 355.90,81.2 356.20,81.7 356.50,80.7 356.80,81.7 357.10,80.8 357.40,80.7 357.70,81.3 358.00,81.8 358.30,80.5 358.60,80.6 358.90,80.7 359.20,80.9 359.50,80.0 359.80,81.7 360.10,80.4 360.40,81.2 360.70,80.1 361.00,81.1 361.30,81.2 361.60,80.4 361.90,82.6 362.20,81.1 362.50,82.4 362.80,81.7 363.10,80.2 363.40,80.5 363.70,81.2 364.00,80.9 364.30,80.8 364.60,80.5 364.90,79.2 365.20,80.6 365.50,78.8 365.80,81.1 366.10,80.1 366.40,80.2 366.70,80.6 367.00,81.0 367.30,79.5 367.60,79.2 367.90,79.8 368.20,79.0 368.50,79.9 368.80,82.2 369.10,79.8 369.40,81.4 369.70,79.6 370.00,81.1 370.30,80.5 370.60,80.7 370.90,81.3 371.20,82.4 371.50,81.0 371.80,80.9 372.10,79.9 372.40,81.3 372.70,80.6 373.00,81.5 373.30,80.8 373.60,82.4 373.90,79.0 374.20,80.5 374.50,81.6 374.80,80.5 375.10,80.1 375.40,80.6 375.70,79.6 376.00,80.9 376.30,83.0 376.60,81.8 376.90,79.8 377.20,80.0 377.50,80.4 377.80,81.7 378.10,80.1 378.40,80.2 378.70,81.6 379.00,81.6 379.30,80.5 379.60,79.8 379.90,79.4 380.20,80.2 380.50,78.8 380.80,81.5 381.10,80.2 381.40,81.2 381.70,82.5 382.00,81.9 382.30,79.8 382.60,81.6 382.90,81.8 383.20,80.1 383.50,79.9 383.80,80.7 384.10,79.4 384.40,82.1 384.70,78.6 385.00,79.8 385.30,80.6 385.60,80.6 385.90,80.9 386.20,81.0 386.50,80.6 386.80,81.8 387.10,78.9 387.40,80.8 387.70,80.2 388.00,80.9 388.30,81.0 388.60,80.0 388.90,80.2 389.20,81.5 389.50,81.1 389.80,80.2 390.10,82.6 390.40,82.9 390.70,79.5 391.00,81.1 391.30,83.1 391.60,81.5 391.90,81.0 392.20,80.6 392.50,80.3 392.80,80.6 393.10,80.3 393.40,81.5 393.70,80.4 394.00,80.4 394.30,79.7 394.60,80.8 394.90,80.0 395.20,80.6 395.50,81.7 395.80,81.1 396.10,81.3 396.40,81.1 396.70,80.9 397.00,80.7 397.30,80.5 397.60,81.5 397.90,79.8 398.20,82.0 398.50,80.8 398.80,80.1 399.10,80.4 399.40,80.2 399.70,80.9 400.00,80.2 400.30,81.8 400.60,80.1 400.90,78.8 401.20,80.1 401.50,79.0 401.80,80.8 402.10,81.8 402.40,81.4 402.70,79.6 403.00,80.1 403.30,82.4 403.60,81.1 403.90,80.8 404.20,81.8 404.50,83.0 404.80,82.0 405.10,80.9 405.40,81.1 405.70,81.4 406.00,80.2 406.30,79.8 406.60,80.8 406.90,79.9 407.20,80.7 407.50,80.9 407.80,82.9 408.10,80.0 408.40,80.7 408.70,80.7 409.00,81.2 409.30,81.7 409.60,80.4 409.90,80.1 410.20,79.3 410.50,80.0 410.80,81.3 411.10,80.8 411.40,79.9 411.70,80.5 412.00,80.8 412.30,81.3 412.60,80.3 412.90,80.6 413.20,79.2 413.50,79.8 413.80,82.3 414.10,78.8 414.40,80.5 414.70,81.0 415.00,80.5 415.30,80.1 415.60,80.7 415.90,80.8 416.20,80.7 416.50,79.1 416.80,80.7 417.10,80.0 417.40,80.3 417.70,81.0 418.00,81.4 418.30,81.6 418.60,80.4 418.90,81.6 419.20,81.9 419.50,81.8 419.80,82.1 420.10,80.7 420.40,80.6 420.70,81.5 421.00,79.6 421.30,81.0 421.60,80.3 421.90,80.5 422.20,79.2 422.50,80.0 422.80,80.8 423.10,81.6 423.40,81.7 423.70,80.7 424.00,80.6 424.30,80.1 424.60,81.2 424.90,80.6 425.20,81.3 425.50,82.4 425.80,80.8 426.10,79.5 426.40,80.0 426.70,79.5 427.00,79.7 427.30,82.0 427.60,81.0 427.90,79.4 428.20,81.4 428.50,81.9 428.80,80.5 429.10,80.2 429.40,80.5 429.70,81.1 430.00,81.4 430.30,81.9 430.60,81.9 430.90,81.9 431.20,82.0 431.50,81.4 431.80,79.4 432.10,80.7 432.40,81.1 432.70,80.5 433.00,81.6 433.30,80.5 433.60,80.0 433.90,82.1 434.20,81.4 434.50,81.0 434.80,81.6 435.10,81.8 435.40,81.1 435.70,78.6 436.00,80.2 436.30,80.4 436.60,79.9 436.90,81.0 437.20,81.9 437.50,80.4 437.80,79.8 438.10,82.6 438.40,80.4 438.70,79.7 439.00,81.0 439.30,81.2 439.60,80.2 439.90,81.5 440.20,80.4 440.50,80.0 440.80,81.0 441.10,81.5 441.40,80.2 441.70,81.1 442.00,80.7 442.30,83.3 442.60,80.2 442.90,82.0 443.20,80.8 443.50,80.7 443.80,81.4 444.10,81.6 444.40,81.9 444.70,81.1 445.00,80.3 445.30,80.3 445.60,81.3 445.90,81.3 446.20,82.1 446.50,81.2 446.80,81.8 447.10,82.2 447.40,80.9 447.70,79.5 448.00,79.7 448.30,79.5 448.60,82.2 448.90,80.0 449.20,81.9 449.50,81.3 449.80,82.3 450.10,81.7 450.40,80.7 450.70,80.6 451.00,80.9 451.30,81.0 451.60,80.3 451.90,80.8 452.20,82.2 452.50,79.3 452.80,81.0 453.10,80.0 453.40,81.0 453.70,81.6 454.00,80.7 454.30,81.5 454.60,79.4 454.90,81.8 455.20,80.3 455.50,81.4 455.80,81.0 456.10,78.5 456.40,80.1 456.70,81.0 457.00,82.2 457.30,81.1 457.60,81.0 457.90,79.5 458.20,82.1 458.50,82.4 458.80,80.8 459.10,80.6 459.40,79.3 459.70,81.6 460.00,83.2 460.30,81.4 460.60,81.9 460.90,81.3 461.20,79.9 461.50,82.0 461.80,79.7 462.10,80.6 462.40,81.1 462.70,81.6 463.00,81.2 463.30,81.1 463.60,80.1 463.90,79.6 464.20,80.9 464.50,80.2 464.80,79.6 465.10,79.7 465.40,80.4 465.70,79.1 466.00,79.6 466.30,79.3 466.60,81.0 466.90,81.2 467.20,82.6 467.50,79.5 467.80,80.2 468.10,81.6 468.40,80.6 468.70,80.5 469.00,82.3 469.30,80.5 469.60,79.8 469.90,79.6 470.20,81.1 470.50,81.1 470.80,79.6 471.10,79.9 471.40,81.3 471.70,81.3 472.00,80.2 472.30,81.4 472.60,81.3 472.90,79.2 473.20,80.5 473.50,81.2 473.80,80.3 474.10,78.9 474.40,80.5 474.70,81.5 475.00,82.2 475.30,78.8 475.60,83.2 475.90,79.8 476.20,81.7 476.50,81.9 476.80,81.7 477.10,80.9 477.40,79.8 477.70,81.4 478.00,80.2 478.30,78.5 478.60,83.3 478.90,81.4 479.20,82.4 479.50,80.0 479.80,82.1 480.10,82.2 480.40,82.2 480.70,80.8 481.00,79.7 481.30,80.6 481.60,78.8 481.90,79.3 482.20,80.9 482.50,79.9 482.80,80.7 483.10,80.7 483.40,82.5 483.70,82.0 484.00,80.8 484.30,81.9 484.60,80.1 484.90,80.5 485.20,81.6 485.50,79.7 485.80,80.5 486.10,79.6 486.40,80.9 486.70,82.3 487.00,80.1 487.30,81.0 487.60,80.0 487.90,79.8 488.20,79.7 488.50,82.1 488.80,82.9 489.10,81.2 489.40,80.2 489.70,81.4 490.00,80.5 490.30,81.5 490.60,81.1 490.90,81.1 491.20,81.3 491.50,80.3 491.80,80.4 492.10,79.3 492.40,80.4 492.70,79.5 493.00,80.7 493.30,79.9 493.60,80.9 493.90,81.2 494.20,79.5 494.50,80.1 494.80,80.0 495.10,81.5 495.40,82.3 495.70,81.6 496.00,80.5 496.30,82.1 496.60,79.4 496.90,82.1 497.20,80.2 497.50,78.3 497.80,83.2 498.10,82.2 498.40,79.9 498.70,81.0 499.00,80.6 499.30,80.9 499.60,79.5 499.90,80.2 500.20,81.2 500.50,81.0 500.80,81.9" fill="none" stroke="#111" stroke-width="1.8" stroke-linejoin="round"/>
<text x="209.06" y="147.70" font-size="23.6" font-weight="bold" fill="#000" stroke="#000">-60 mV</text>
<text x="38.06" y="170.30" font-size="24.3" fill="#000" stroke="#000">P</text>
<text x="54.36" y="175.70" font-size="14.8" stroke="#000">o</text>
<text x="71.40" y="170.30" font-size="24.3" stroke="#000">= 2.54 x</text>
<text x="174.66" y="170.30" font-size="24.3" fill="#000" stroke="#000">0</text>
<text x="159.91" y="170.30" font-size="24.3" fill="#000" stroke="#000">1</text>
<text x="188.18" y="163.50" font-size="16" fill="#000" stroke="#000">-6</text>
<text x="295.56" y="170.30" font-size="24.3" fill="#000" stroke="#000">P</text>
<text x="311.86" y="175.70" font-size="14.8" stroke="#000">o</text>
<text x="328.90" y="170.30" font-size="24.3" stroke="#000">= 3.38 x</text>
<text x="430.96" y="170.30" font-size="24.3" fill="#000" stroke="#000">0</text>
<text x="416.21" y="170.30" font-size="24.3" fill="#000" stroke="#000">1</text>
<text x="445.58" y="163.50" font-size="16" fill="#000" stroke="#000">-6</text>
<text x="8.47" y="188.00" font-size="14.5" fill="#000" stroke="#000">C</text>
<text x="8.55" y="206.50" font-size="14.5" fill="#000" stroke="#000">O</text>
<text x="19.73" y="211.70" font-size="8.5" stroke="#000">1</text>
<text x="260.27" y="187.80" font-size="14.5" fill="#000" stroke="#000">C</text>
<text x="259.85" y="204.00" font-size="14.5" fill="#000" stroke="#000">O</text>
<text x="271.03" y="209.20" font-size="8.5" stroke="#000">1</text>
<line x1="24.00" y1="199.30" x2="245.50" y2="199.30" stroke="#444" stroke-width="1.0" stroke-dasharray="2.5 2.5"/>
<line x1="275.50" y1="198.90" x2="500.50" y2="198.90" stroke="#444" stroke-width="1.0" stroke-dasharray="2.5 2.5"/>
<polyline points="24.00,181.4 24.30,183.4 24.60,180.7 24.90,181.5 25.20,179.6 25.50,180.2 25.80,182.5 26.10,180.5 26.40,181.8 26.70,181.2 27.00,180.4 27.30,181.0 27.60,180.8 27.90,180.9 28.20,182.0 28.50,181.9 28.80,180.8 29.10,180.5 29.40,181.6 29.70,181.2 30.00,182.2 30.30,183.7 30.60,182.1 30.90,181.3 31.20,181.1 31.50,180.5 31.80,180.5 32.10,180.4 32.40,180.9 32.70,180.9 33.00,182.0 33.30,180.9 33.60,181.1 33.90,180.2 34.20,182.8 34.50,181.8 34.80,182.9 35.10,182.0 35.40,182.6 35.70,181.1 36.00,181.9 36.30,183.7 36.60,180.2 36.90,182.4 37.20,182.8 37.50,181.7 37.80,182.0 38.10,182.5 38.40,180.7 38.70,181.7 39.00,180.5 39.30,180.7 39.60,180.7 39.90,181.2 40.20,181.4 40.50,181.7 40.80,180.0 41.10,183.1 41.40,182.4 41.70,182.0 42.00,181.0 42.30,181.2 42.60,181.8 42.90,181.7 43.20,179.8 43.50,182.0 43.80,184.0 44.10,179.6 44.40,182.2 44.70,181.6 45.00,181.2 45.30,182.6 45.60,180.2 45.90,181.5 46.20,182.7 46.50,181.1 46.80,180.9 47.10,181.4 47.40,180.9 47.70,182.7 48.00,180.5 48.30,182.1 48.60,180.1 48.90,181.9 49.20,181.2 49.50,178.9 49.80,181.3 50.10,180.3 50.40,180.9 50.70,182.7 51.00,180.3 51.30,180.3 51.60,182.6 51.90,181.4 52.20,182.7 52.50,181.6 52.80,180.5 53.10,181.2 53.40,182.4 53.70,182.2 54.00,181.3 54.30,181.3 54.60,181.2 54.90,180.8 55.20,183.1 55.50,181.3 55.80,180.3 56.10,180.9 56.40,182.0 56.70,181.9 57.00,181.2 57.30,180.7 57.60,181.3 57.90,179.8 58.20,180.1 58.50,182.0 58.80,180.9 59.10,181.6 59.40,182.4 59.70,181.9 60.00,181.3 60.30,183.3 60.60,181.9 60.90,181.0 61.20,182.0 61.50,181.7 61.80,180.5 62.10,181.4 62.40,181.1 62.70,179.5 63.00,181.1 63.30,181.0 63.60,180.9 63.90,179.8 64.20,181.0 64.50,181.3 64.80,181.4 65.10,180.2 65.40,181.9 65.70,180.2 66.00,181.1 66.30,182.5 66.60,180.7 66.90,180.8 67.20,182.3 67.50,180.9 67.80,181.0 68.10,181.5 68.40,182.3 68.70,179.3 69.00,180.5 69.30,180.4 69.60,180.3 69.90,180.5 70.20,180.5 70.50,181.6 70.80,180.5 71.10,181.4 71.40,181.7 71.70,180.6 72.00,181.4 72.30,182.8 72.60,181.6 72.90,180.7 73.20,181.2 73.50,180.5 73.80,181.5 74.10,182.1 74.40,180.5 74.70,181.1 75.00,182.3 75.30,180.8 75.60,181.5 75.90,180.4 76.20,180.5 76.50,180.8 76.80,183.3 77.10,180.9 77.40,180.8 77.70,180.8 78.00,181.2 78.30,181.9 78.60,181.5 78.90,183.2 79.20,181.5 79.50,182.6 79.80,181.5 80.10,181.8 80.40,180.0 80.70,181.2 81.00,181.2 81.30,181.1 81.60,179.4 81.90,182.1 82.20,181.0 82.50,180.9 82.80,181.1 83.10,181.1 83.40,181.7 83.70,180.2 84.00,180.5 84.30,181.6 84.60,181.4 84.90,181.0 85.20,180.8 85.50,180.5 85.80,181.2 86.10,182.4 86.40,180.3 86.70,182.7 87.00,182.1 87.30,180.9 87.60,182.0 87.90,180.0 88.20,179.7 88.50,180.1 88.80,180.9 89.10,181.0 89.40,180.8 89.70,181.4 90.00,179.4 90.30,181.7 90.60,180.0 90.90,180.7 91.20,180.9 91.50,180.3 91.80,180.1 92.10,180.4 92.40,181.3 92.70,181.8 93.00,181.8 93.30,180.4 93.60,180.6 93.90,180.5 94.20,181.7 94.50,179.5 94.80,182.4 95.10,180.9 95.40,180.6 95.70,181.6 96.00,182.2 96.30,181.6 96.60,182.2 96.90,181.4 97.20,182.4 97.50,182.4 97.80,181.2 98.10,182.6 98.40,181.4 98.70,181.4 99.00,180.5 99.30,181.0 99.60,182.0 99.90,180.1 100.20,181.9 100.50,181.6 100.80,181.5 101.10,179.3 101.40,181.2 101.70,181.9 102.00,180.6 102.30,181.4 102.60,179.2 102.90,181.9 103.20,180.7 103.50,182.1 103.80,179.6 104.10,181.9 104.40,181.1 104.70,182.0 105.00,180.5 105.30,180.7 105.60,183.3 105.90,180.6 106.20,180.7 106.50,181.1 106.80,180.4 107.10,182.4 107.40,199.0 107.70,180.7 108.00,179.7 108.30,182.4 108.60,182.3 108.90,182.0 109.20,182.3 109.50,180.5 109.80,181.1 110.10,180.1 110.40,180.0 110.70,182.2 111.00,180.7 111.30,183.4 111.60,181.4 111.90,180.7 112.20,182.0 112.50,182.9 112.80,181.7 113.10,180.2 113.40,181.6 113.70,182.5 114.00,180.9 114.30,180.6 114.60,182.2 114.90,181.4 115.20,180.3 115.50,181.0 115.80,180.6 116.10,181.6 116.40,181.4 116.70,182.3 117.00,181.9 117.30,179.9 117.60,181.7 117.90,182.1 118.20,181.7 118.50,182.2 118.80,180.8 119.10,180.4 119.40,182.1 119.70,180.3 120.00,179.4 120.30,182.2 120.60,180.6 120.90,181.0 121.20,180.0 121.50,180.1 121.80,180.3 122.10,181.0 122.40,181.6 122.70,179.2 123.00,182.0 123.30,180.2 123.60,180.3 123.90,181.9 124.20,181.2 124.50,179.9 124.80,183.0 125.10,180.5 125.40,181.5 125.70,181.5 126.00,182.6 126.30,180.9 126.60,182.2 126.90,180.6 127.20,182.3 127.50,180.6 127.80,181.0 128.10,183.0 128.40,181.6 128.70,181.4 129.00,183.3 129.30,181.6 129.60,180.6 129.90,182.0 130.20,180.2 130.50,182.3 130.80,182.4 131.10,180.8 131.40,180.7 131.70,181.5 132.00,181.3 132.30,180.4 132.60,181.8 132.90,179.5 133.20,180.9 133.50,180.9 133.80,181.1 134.10,181.6 134.40,180.2 134.70,181.8 135.00,181.1 135.30,180.7 135.60,180.1 135.90,180.2 136.20,181.6 136.50,180.4 136.80,181.4 137.10,182.3 137.40,182.2 137.70,182.7 138.00,181.0 138.30,180.3 138.60,182.2 138.90,181.6 139.20,182.3 139.50,181.3 139.80,182.4 140.10,182.1 140.40,181.9 140.70,181.8 141.00,181.7 141.30,181.5 141.60,181.5 141.90,182.2 142.20,180.8 142.50,182.9 142.80,181.2 143.10,182.2 143.40,181.2 143.70,181.1 144.00,183.1 144.30,181.0 144.60,180.2 144.90,180.7 145.20,181.0 145.50,183.2 145.80,181.5 146.10,182.1 146.40,180.4 146.70,181.6 147.00,181.9 147.30,182.9 147.60,180.7 147.90,181.8 148.20,181.6 148.50,180.4 148.80,181.3 149.10,181.1 149.40,179.2 149.70,181.8 150.00,181.8 150.30,180.9 150.60,180.1 150.90,182.6 151.20,181.5 151.50,182.2 151.80,182.6 152.10,180.8 152.40,182.0 152.70,181.1 153.00,181.2 153.30,181.2 153.60,181.3 153.90,182.3 154.20,181.4 154.50,181.2 154.80,181.1 155.10,181.6 155.40,180.5 155.70,180.8 156.00,181.3 156.30,180.8 156.60,181.2 156.90,180.8 157.20,183.1 157.50,182.5 157.80,181.7 158.10,181.3 158.40,183.3 158.70,181.6 159.00,181.2 159.30,181.6 159.60,181.6 159.90,182.6 160.20,181.3 160.50,183.2 160.80,180.5 161.10,181.9 161.40,180.4 161.70,182.9 162.00,181.0 162.30,181.2 162.60,182.1 162.90,182.4 163.20,180.3 163.50,181.0 163.80,180.0 164.10,181.4 164.40,181.2 164.70,181.0 165.00,180.7 165.30,181.0 165.60,180.6 165.90,181.8 166.20,182.7 166.50,179.6 166.80,181.2 167.10,180.9 167.40,181.7 167.70,180.4 168.00,181.2 168.30,180.4 168.60,181.9 168.90,181.4 169.20,181.2 169.50,181.6 169.80,181.1 170.10,179.9 170.40,181.8 170.70,181.6 171.00,181.2 171.30,182.2 171.60,182.4 171.90,180.3 172.20,180.6 172.50,182.7 172.80,182.6 173.10,180.6 173.40,180.2 173.70,180.7 174.00,180.9 174.30,179.9 174.60,181.3 174.90,180.1 175.20,180.2 175.50,182.1 175.80,180.7 176.10,181.2 176.40,181.9 176.70,182.0 177.00,181.0 177.30,181.3 177.60,180.6 177.90,182.9 178.20,181.9 178.50,180.3 178.80,181.3 179.10,181.9 179.40,181.7 179.70,182.9 180.00,182.5 180.30,180.8 180.60,181.2 180.90,180.1 181.20,181.5 181.50,181.4 181.80,183.7 182.10,181.4 182.40,179.4 182.70,180.7 183.00,181.4 183.30,180.2 183.60,180.5 183.90,181.0 184.20,181.6 184.50,181.2 184.80,180.5 185.10,182.0 185.40,180.8 185.70,180.9 186.00,180.1 186.30,180.6 186.60,181.9 186.90,179.8 187.20,181.2 187.50,181.9 187.80,181.0 188.10,181.5 188.40,180.3 188.70,182.5 189.00,182.3 189.30,181.5 189.60,179.7 189.90,180.4 190.20,182.2 190.50,182.8 190.80,181.6 191.10,182.4 191.40,180.8 191.70,181.1 192.00,181.3 192.30,181.7 192.60,179.9 192.90,182.1 193.20,182.5 193.50,180.3 193.80,180.1 194.10,181.6 194.40,180.7 194.70,179.2 195.00,182.0 195.30,181.4 195.60,180.9 195.90,183.2 196.20,181.4 196.50,180.6 196.80,181.4 197.10,180.4 197.40,180.6 197.70,181.6 198.00,180.8 198.30,180.9 198.60,182.8 198.90,182.1 199.20,182.0 199.50,181.8 199.80,181.7 200.10,182.6 200.40,181.3 200.70,183.0 201.00,180.4 201.30,181.1 201.60,180.1 201.90,181.0 202.20,181.8 202.50,182.6 202.80,180.7 203.10,181.3 203.40,181.0 203.70,180.6 204.00,180.2 204.30,181.4 204.60,179.7 204.90,181.4 205.20,181.3 205.50,180.7 205.80,180.4 206.10,180.1 206.40,183.0 206.70,180.1 207.00,182.7 207.30,181.8 207.60,181.0 207.90,180.3 208.20,182.2 208.50,182.9 208.80,180.5 209.10,181.0 209.40,182.2 209.70,181.6 210.00,183.1 210.30,180.8 210.60,181.8 210.90,180.2 211.20,183.2 211.50,180.6 211.80,179.3 212.10,181.2 212.40,181.2 212.70,183.0 213.00,181.0 213.30,181.3 213.60,181.8 213.90,182.7 214.20,181.2 214.50,182.2 214.80,181.8 215.10,181.0 215.40,181.4 215.70,181.3 216.00,180.5 216.30,182.4 216.60,180.1 216.90,182.4 217.20,182.2 217.50,181.2 217.80,180.6 218.10,181.1 218.40,181.7 218.70,182.0 219.00,181.6 219.30,182.2 219.60,180.8 219.90,181.5 220.20,179.9 220.50,182.0 220.80,181.4 221.10,180.9 221.40,182.3 221.70,181.9 222.00,178.8 222.30,181.3 222.60,180.0 222.90,182.3 223.20,183.5 223.50,180.8 223.80,181.4 224.10,181.1 224.40,181.6 224.70,181.9 225.00,182.5 225.30,180.4 225.60,182.7 225.90,180.5 226.20,181.5 226.50,182.3 226.80,181.9 227.10,180.5 227.40,180.7 227.70,180.9 228.00,181.3 228.30,182.3 228.60,180.1 228.90,181.7 229.20,181.8 229.50,181.8 229.80,181.7 230.10,182.7 230.40,181.7 230.70,182.1 231.00,181.8 231.30,182.9 231.60,179.6 231.90,182.5 232.20,181.1 232.50,181.0 232.80,180.4 233.10,179.6 233.40,181.0 233.70,180.7 234.00,181.7 234.30,180.0 234.60,182.6 234.90,181.5 235.20,181.1 235.50,180.7 235.80,180.6 236.10,180.3 236.40,180.8 236.70,181.3 237.00,181.1 237.30,180.0 237.60,181.1 237.90,180.5 238.20,181.4 238.50,183.0 238.80,181.9 239.10,181.0 239.40,179.8 239.70,180.0 240.00,179.8 240.30,182.0 240.60,180.6 240.90,181.4 241.20,180.7 241.50,181.4 241.80,182.6 242.10,180.7 242.40,181.0 242.70,180.6 243.00,182.1 243.30,180.4 243.60,180.3 243.90,180.1 244.20,180.0 244.50,181.7 244.80,183.6 245.10,180.4 245.40,182.2 245.70,181.5" fill="none" stroke="#555" stroke-width="0.9" stroke-linejoin="round"/>
<polyline points="24.00,181.4 24.30,183.4 24.60,180.7 24.90,181.5 25.20,179.6 25.50,180.2 25.80,182.5 26.10,180.5 26.40,181.8 26.70,181.2 27.00,180.4 27.30,181.0 27.60,180.8 27.90,180.9 28.20,182.0 28.50,181.9 28.80,180.8 29.10,180.5 29.40,181.6 29.70,181.2 30.00,182.2 30.30,183.7 30.60,182.1 30.90,181.3 31.20,181.1 31.50,180.5 31.80,180.5 32.10,180.4 32.40,180.9 32.70,180.9 33.00,182.0 33.30,180.9 33.60,181.1 33.90,180.2 34.20,182.8 34.50,181.8 34.80,182.9 35.10,182.0 35.40,182.6 35.70,181.1 36.00,181.9 36.30,183.7 36.60,180.2 36.90,182.4 37.20,182.8 37.50,181.7 37.80,182.0 38.10,182.5 38.40,180.7 38.70,181.7 39.00,180.5 39.30,180.7 39.60,180.7 39.90,181.2 40.20,181.4 40.50,181.7 40.80,180.0 41.10,183.1 41.40,182.4 41.70,182.0 42.00,181.0 42.30,181.2 42.60,181.8 42.90,181.7 43.20,179.8 43.50,182.0 43.80,184.0 44.10,179.6 44.40,182.2 44.70,181.6 45.00,181.2 45.30,182.6 45.60,180.2 45.90,181.5 46.20,182.7 46.50,181.1 46.80,180.9 47.10,181.4 47.40,180.9 47.70,182.7 48.00,180.5 48.30,182.1 48.60,180.1 48.90,181.9 49.20,181.2 49.50,178.9 49.80,181.3 50.10,180.3 50.40,180.9 50.70,182.7 51.00,180.3 51.30,180.3 51.60,182.6 51.90,181.4 52.20,182.7 52.50,181.6 52.80,180.5 53.10,181.2 53.40,182.4 53.70,182.2 54.00,181.3 54.30,181.3 54.60,181.2 54.90,180.8 55.20,183.1 55.50,181.3 55.80,180.3 56.10,180.9 56.40,182.0 56.70,181.9 57.00,181.2 57.30,180.7 57.60,181.3 57.90,179.8 58.20,180.1 58.50,182.0 58.80,180.9 59.10,181.6 59.40,182.4 59.70,181.9 60.00,181.3 60.30,183.3 60.60,181.9 60.90,181.0 61.20,182.0 61.50,181.7 61.80,180.5 62.10,181.4 62.40,181.1 62.70,179.5 63.00,181.1 63.30,181.0 63.60,180.9 63.90,179.8 64.20,181.0 64.50,181.3 64.80,181.4 65.10,180.2 65.40,181.9 65.70,180.2 66.00,181.1 66.30,182.5 66.60,180.7 66.90,180.8 67.20,182.3 67.50,180.9 67.80,181.0 68.10,181.5 68.40,182.3 68.70,179.3 69.00,180.5 69.30,180.4 69.60,180.3 69.90,180.5 70.20,180.5 70.50,181.6 70.80,180.5 71.10,181.4 71.40,181.7 71.70,180.6 72.00,181.4 72.30,182.8 72.60,181.6 72.90,180.7 73.20,181.2 73.50,180.5 73.80,181.5 74.10,182.1 74.40,180.5 74.70,181.1 75.00,182.3 75.30,180.8 75.60,181.5 75.90,180.4 76.20,180.5 76.50,180.8 76.80,183.3 77.10,180.9 77.40,180.8 77.70,180.8 78.00,181.2 78.30,181.9 78.60,181.5 78.90,183.2 79.20,181.5 79.50,182.6 79.80,181.5 80.10,181.8 80.40,180.0 80.70,181.2 81.00,181.2 81.30,181.1 81.60,179.4 81.90,182.1 82.20,181.0 82.50,180.9 82.80,181.1 83.10,181.1 83.40,181.7 83.70,180.2 84.00,180.5 84.30,181.6 84.60,181.4 84.90,181.0 85.20,180.8 85.50,180.5 85.80,181.2 86.10,182.4 86.40,180.3 86.70,182.7 87.00,182.1 87.30,180.9 87.60,182.0 87.90,180.0 88.20,179.7 88.50,180.1 88.80,180.9 89.10,181.0 89.40,180.8 89.70,181.4 90.00,179.4 90.30,181.7 90.60,180.0 90.90,180.7 91.20,180.9 91.50,180.3 91.80,180.1 92.10,180.4 92.40,181.3 92.70,181.8 93.00,181.8 93.30,180.4 93.60,180.6 93.90,180.5 94.20,181.7 94.50,179.5 94.80,182.4 95.10,180.9 95.40,180.6 95.70,181.6 96.00,182.2 96.30,181.6 96.60,182.2 96.90,181.4 97.20,182.4 97.50,182.4 97.80,181.2 98.10,182.6 98.40,181.4 98.70,181.4 99.00,180.5 99.30,181.0 99.60,182.0 99.90,180.1 100.20,181.9 100.50,181.6 100.80,181.5 101.10,179.3 101.40,181.2 101.70,181.9 102.00,180.6 102.30,181.4 102.60,179.2 102.90,181.9 103.20,180.7 103.50,182.1 103.80,179.6 104.10,181.9 104.40,181.1 104.70,182.0 105.00,180.5 105.30,180.7 105.60,183.3 105.90,180.6 106.20,180.7 106.50,181.1 106.80,180.4 107.10,182.4 107.40,182.9 107.70,180.7 108.00,179.7 108.30,182.4 108.60,182.3 108.90,182.0 109.20,182.3 109.50,180.5 109.80,181.1 110.10,180.1 110.40,180.0 110.70,182.2 111.00,180.7 111.30,183.4 111.60,181.4 111.90,180.7 112.20,182.0 112.50,182.9 112.80,181.7 113.10,180.2 113.40,181.6 113.70,182.5 114.00,180.9 114.30,180.6 114.60,182.2 114.90,181.4 115.20,180.3 115.50,181.0 115.80,180.6 116.10,181.6 116.40,181.4 116.70,182.3 117.00,181.9 117.30,179.9 117.60,181.7 117.90,182.1 118.20,181.7 118.50,182.2 118.80,180.8 119.10,180.4 119.40,182.1 119.70,180.3 120.00,179.4 120.30,182.2 120.60,180.6 120.90,181.0 121.20,180.0 121.50,180.1 121.80,180.3 122.10,181.0 122.40,181.6 122.70,179.2 123.00,182.0 123.30,180.2 123.60,180.3 123.90,181.9 124.20,181.2 124.50,179.9 124.80,183.0 125.10,180.5 125.40,181.5 125.70,181.5 126.00,182.6 126.30,180.9 126.60,182.2 126.90,180.6 127.20,182.3 127.50,180.6 127.80,181.0 128.10,183.0 128.40,181.6 128.70,181.4 129.00,183.3 129.30,181.6 129.60,180.6 129.90,182.0 130.20,180.2 130.50,182.3 130.80,182.4 131.10,180.8 131.40,180.7 131.70,181.5 132.00,181.3 132.30,180.4 132.60,181.8 132.90,179.5 133.20,180.9 133.50,180.9 133.80,181.1 134.10,181.6 134.40,180.2 134.70,181.8 135.00,181.1 135.30,180.7 135.60,180.1 135.90,180.2 136.20,181.6 136.50,180.4 136.80,181.4 137.10,182.3 137.40,182.2 137.70,182.7 138.00,181.0 138.30,180.3 138.60,182.2 138.90,181.6 139.20,182.3 139.50,181.3 139.80,182.4 140.10,182.1 140.40,181.9 140.70,181.8 141.00,181.7 141.30,181.5 141.60,181.5 141.90,182.2 142.20,180.8 142.50,182.9 142.80,181.2 143.10,182.2 143.40,181.2 143.70,181.1 144.00,183.1 144.30,181.0 144.60,180.2 144.90,180.7 145.20,181.0 145.50,183.2 145.80,181.5 146.10,182.1 146.40,180.4 146.70,181.6 147.00,181.9 147.30,182.9 147.60,180.7 147.90,181.8 148.20,181.6 148.50,180.4 148.80,181.3 149.10,181.1 149.40,179.2 149.70,181.8 150.00,181.8 150.30,180.9 150.60,180.1 150.90,182.6 151.20,181.5 151.50,182.2 151.80,182.6 152.10,180.8 152.40,182.0 152.70,181.1 153.00,181.2 153.30,181.2 153.60,181.3 153.90,182.3 154.20,181.4 154.50,181.2 154.80,181.1 155.10,181.6 155.40,180.5 155.70,180.8 156.00,181.3 156.30,180.8 156.60,181.2 156.90,180.8 157.20,183.1 157.50,182.5 157.80,181.7 158.10,181.3 158.40,183.3 158.70,181.6 159.00,181.2 159.30,181.6 159.60,181.6 159.90,182.6 160.20,181.3 160.50,183.2 160.80,180.5 161.10,181.9 161.40,180.4 161.70,182.9 162.00,181.0 162.30,181.2 162.60,182.1 162.90,182.4 163.20,180.3 163.50,181.0 163.80,180.0 164.10,181.4 164.40,181.2 164.70,181.0 165.00,180.7 165.30,181.0 165.60,180.6 165.90,181.8 166.20,182.7 166.50,179.6 166.80,181.2 167.10,180.9 167.40,181.7 167.70,180.4 168.00,181.2 168.30,180.4 168.60,181.9 168.90,181.4 169.20,181.2 169.50,181.6 169.80,181.1 170.10,179.9 170.40,181.8 170.70,181.6 171.00,181.2 171.30,182.2 171.60,182.4 171.90,180.3 172.20,180.6 172.50,182.7 172.80,182.6 173.10,180.6 173.40,180.2 173.70,180.7 174.00,180.9 174.30,179.9 174.60,181.3 174.90,180.1 175.20,180.2 175.50,182.1 175.80,180.7 176.10,181.2 176.40,181.9 176.70,182.0 177.00,181.0 177.30,181.3 177.60,180.6 177.90,182.9 178.20,181.9 178.50,180.3 178.80,181.3 179.10,181.9 179.40,181.7 179.70,182.9 180.00,182.5 180.30,180.8 180.60,181.2 180.90,180.1 181.20,181.5 181.50,181.4 181.80,183.7 182.10,181.4 182.40,179.4 182.70,180.7 183.00,181.4 183.30,180.2 183.60,180.5 183.90,181.0 184.20,181.6 184.50,181.2 184.80,180.5 185.10,182.0 185.40,180.8 185.70,180.9 186.00,180.1 186.30,180.6 186.60,181.9 186.90,179.8 187.20,181.2 187.50,181.9 187.80,181.0 188.10,181.5 188.40,180.3 188.70,182.5 189.00,182.3 189.30,181.5 189.60,179.7 189.90,180.4 190.20,182.2 190.50,182.8 190.80,181.6 191.10,182.4 191.40,180.8 191.70,181.1 192.00,181.3 192.30,181.7 192.60,179.9 192.90,182.1 193.20,182.5 193.50,180.3 193.80,180.1 194.10,181.6 194.40,180.7 194.70,179.2 195.00,182.0 195.30,181.4 195.60,180.9 195.90,183.2 196.20,181.4 196.50,180.6 196.80,181.4 197.10,180.4 197.40,180.6 197.70,181.6 198.00,180.8 198.30,180.9 198.60,182.8 198.90,182.1 199.20,182.0 199.50,181.8 199.80,181.7 200.10,182.6 200.40,181.3 200.70,183.0 201.00,180.4 201.30,181.1 201.60,180.1 201.90,181.0 202.20,181.8 202.50,182.6 202.80,180.7 203.10,181.3 203.40,181.0 203.70,180.6 204.00,180.2 204.30,181.4 204.60,179.7 204.90,181.4 205.20,181.3 205.50,180.7 205.80,180.4 206.10,180.1 206.40,183.0 206.70,180.1 207.00,182.7 207.30,181.8 207.60,181.0 207.90,180.3 208.20,182.2 208.50,182.9 208.80,180.5 209.10,181.0 209.40,182.2 209.70,181.6 210.00,183.1 210.30,180.8 210.60,181.8 210.90,180.2 211.20,183.2 211.50,180.6 211.80,179.3 212.10,181.2 212.40,181.2 212.70,183.0 213.00,181.0 213.30,181.3 213.60,181.8 213.90,182.7 214.20,181.2 214.50,182.2 214.80,181.8 215.10,181.0 215.40,181.4 215.70,181.3 216.00,180.5 216.30,182.4 216.60,180.1 216.90,182.4 217.20,182.2 217.50,181.2 217.80,180.6 218.10,181.1 218.40,181.7 218.70,182.0 219.00,181.6 219.30,182.2 219.60,180.8 219.90,181.5 220.20,179.9 220.50,182.0 220.80,181.4 221.10,180.9 221.40,182.3 221.70,181.9 222.00,178.8 222.30,181.3 222.60,180.0 222.90,182.3 223.20,183.5 223.50,180.8 223.80,181.4 224.10,181.1 224.40,181.6 224.70,181.9 225.00,182.5 225.30,180.4 225.60,182.7 225.90,180.5 226.20,181.5 226.50,182.3 226.80,181.9 227.10,180.5 227.40,180.7 227.70,180.9 228.00,181.3 228.30,182.3 228.60,180.1 228.90,181.7 229.20,181.8 229.50,181.8 229.80,181.7 230.10,182.7 230.40,181.7 230.70,182.1 231.00,181.8 231.30,182.9 231.60,179.6 231.90,182.5 232.20,181.1 232.50,181.0 232.80,180.4 233.10,179.6 233.40,181.0 233.70,180.7 234.00,181.7 234.30,180.0 234.60,182.6 234.90,181.5 235.20,181.1 235.50,180.7 235.80,180.6 236.10,180.3 236.40,180.8 236.70,181.3 237.00,181.1 237.30,180.0 237.60,181.1 237.90,180.5 238.20,181.4 238.50,183.0 238.80,181.9 239.10,181.0 239.40,179.8 239.70,180.0 240.00,179.8 240.30,182.0 240.60,180.6 240.90,181.4 241.20,180.7 241.50,181.4 241.80,182.6 242.10,180.7 242.40,181.0 242.70,180.6 243.00,182.1 243.30,180.4 243.60,180.3 243.90,180.1 244.20,180.0 244.50,181.7 244.80,183.6 245.10,180.4 245.40,182.2 245.70,181.5" fill="none" stroke="#111" stroke-width="1.8" stroke-linejoin="round"/>
<polyline points="275.50,180.8 275.80,181.6 276.10,181.6 276.40,181.2 276.70,183.5 277.00,180.1 277.30,182.1 277.60,182.1 277.90,181.3 278.20,181.9 278.50,182.6 278.80,181.9 279.10,182.2 279.40,182.4 279.70,180.0 280.00,183.1 280.30,183.9 280.60,182.7 280.90,182.7 281.20,180.5 281.50,181.7 281.80,181.1 282.10,181.3 282.40,182.7 282.70,181.1 283.00,181.7 283.30,180.1 283.60,181.7 283.90,181.9 284.20,181.2 284.50,181.2 284.80,183.5 285.10,180.7 285.40,180.9 285.70,181.1 286.00,182.9 286.30,183.7 286.60,182.1 286.90,181.2 287.20,181.4 287.50,182.8 287.80,181.0 288.10,183.1 288.40,183.1 288.70,181.9 289.00,182.4 289.30,182.5 289.60,183.2 289.90,180.9 290.20,182.9 290.50,181.5 290.80,181.1 291.10,181.9 291.40,181.6 291.70,180.9 292.00,180.4 292.30,181.0 292.60,183.1 292.90,183.6 293.20,182.4 293.50,182.9 293.80,181.3 294.10,181.7 294.40,182.1 294.70,180.8 295.00,180.9 295.30,181.9 295.60,181.5 295.90,180.8 296.20,182.1 296.50,181.6 296.80,182.7 297.10,181.8 297.40,181.5 297.70,181.9 298.00,181.6 298.30,181.2 298.60,181.4 298.90,182.5 299.20,182.4 299.50,183.0 299.80,180.3 300.10,181.4 300.40,181.4 300.70,182.0 301.00,181.4 301.30,181.3 301.60,182.5 301.90,182.0 302.20,180.8 302.50,183.0 302.80,182.7 303.10,181.3 303.40,182.5 303.70,181.1 304.00,182.8 304.30,181.6 304.60,181.1 304.90,181.5 305.20,181.1 305.50,182.0 305.80,182.0 306.10,181.8 306.40,181.3 306.70,178.5 307.00,181.9 307.30,180.1 307.60,182.0 307.90,182.8 308.20,182.0 308.50,181.4 308.80,181.6 309.10,181.7 309.40,181.3 309.70,181.3 310.00,181.0 310.30,182.9 310.60,181.8 310.90,182.7 311.20,181.6 311.50,181.9 311.80,181.6 312.10,182.2 312.40,182.5 312.70,182.0 313.00,181.2 313.30,181.1 313.60,183.3 313.90,181.5 314.20,181.5 314.50,183.1 314.80,182.8 315.10,182.3 315.40,181.4 315.70,183.9 316.00,182.2 316.30,182.3 316.60,181.6 316.90,180.5 317.20,180.6 317.50,182.2 317.80,182.2 318.10,181.6 318.40,180.7 318.70,180.5 319.00,181.5 319.30,180.5 319.60,182.6 319.90,182.8 320.20,184.3 320.50,182.6 320.80,181.3 321.10,181.0 321.40,178.7 321.70,181.3 322.00,181.6 322.30,182.7 322.60,182.4 322.90,182.3 323.20,182.0 323.50,182.4 323.80,183.1 324.10,180.8 324.40,181.4 324.70,180.6 325.00,183.3 325.30,183.0 325.60,182.5 325.90,180.7 326.20,182.0 326.50,181.6 326.80,181.9 327.10,181.6 327.40,182.3 327.70,181.4 328.00,182.6 328.30,182.0 328.60,181.5 328.90,181.7 329.20,181.4 329.50,182.5 329.80,181.6 330.10,182.1 330.40,181.4 330.70,180.5 331.00,182.6 331.30,180.8 331.60,182.4 331.90,182.2 332.20,180.3 332.50,180.9 332.80,181.3 333.10,181.1 333.40,180.7 333.70,182.5 334.00,181.6 334.30,182.1 334.60,181.4 334.90,182.1 335.20,181.1 335.50,181.8 335.80,182.3 336.10,181.8 336.40,181.4 336.70,180.8 337.00,182.0 337.30,182.1 337.60,181.6 337.90,181.1 338.20,182.3 338.50,184.0 338.80,181.5 339.10,182.1 339.40,182.1 339.70,179.5 340.00,181.9 340.30,181.2 340.60,183.0 340.90,181.6 341.20,181.1 341.50,181.6 341.80,181.9 342.10,181.3 342.40,181.8 342.70,180.6 343.00,181.6 343.30,182.5 343.60,183.6 343.90,182.4 344.20,182.0 344.50,182.9 344.80,182.7 345.10,183.3 345.40,182.8 345.70,181.7 346.00,182.0 346.30,182.0 346.60,182.1 346.90,182.0 347.20,181.1 347.50,179.9 347.80,181.2 348.10,180.0 348.40,181.9 348.70,181.8 349.00,180.3 349.30,182.4 349.60,182.6 349.90,181.9 350.20,183.3 350.50,183.5 350.80,180.7 351.10,182.7 351.40,182.2 351.70,182.2 352.00,182.6 352.30,181.2 352.60,181.3 352.90,181.1 353.20,181.1 353.50,181.7 353.80,180.5 354.10,180.9 354.40,182.3 354.70,181.7 355.00,182.1 355.30,180.1 355.60,181.1 355.90,181.3 356.20,181.8 356.50,181.3 356.80,182.6 357.10,181.7 357.40,181.8 357.70,181.8 358.00,182.4 358.30,181.4 358.60,182.8 358.90,182.2 359.20,181.9 359.50,181.8 359.80,182.3 360.10,182.7 360.40,182.7 360.70,182.1 361.00,182.6 361.30,181.9 361.60,182.9 361.90,181.8 362.20,179.9 362.50,183.0 362.80,181.9 363.10,180.7 363.40,181.6 363.70,198.8 364.00,183.7 364.30,182.2 364.60,180.4 364.90,182.3 365.20,181.4 365.50,183.5 365.80,180.9 366.10,179.8 366.40,181.9 366.70,181.5 367.00,181.4 367.30,179.9 367.60,182.2 367.90,183.3 368.20,180.1 368.50,182.9 368.80,181.3 369.10,183.9 369.40,182.2 369.70,181.6 370.00,182.8 370.30,182.3 370.60,181.3 370.90,182.4 371.20,181.3 371.50,180.2 371.80,183.6 372.10,181.5 372.40,181.3 372.70,182.1 373.00,180.4 373.30,180.6 373.60,181.4 373.90,181.3 374.20,181.9 374.50,182.8 374.80,181.4 375.10,182.2 375.40,182.3 375.70,180.8 376.00,182.0 376.30,181.0 376.60,182.8 376.90,182.2 377.20,181.8 377.50,180.6 377.80,181.9 378.10,181.1 378.40,182.4 378.70,181.7 379.00,181.1 379.30,182.6 379.60,182.4 379.90,181.3 380.20,182.8 380.50,181.5 380.80,181.5 381.10,181.9 381.40,181.1 381.70,181.4 382.00,181.7 382.30,183.2 382.60,183.1 382.90,181.6 383.20,183.2 383.50,181.8 383.80,182.1 384.10,182.6 384.40,182.1 384.70,184.0 385.00,182.0 385.30,180.7 385.60,183.0 385.90,181.4 386.20,181.5 386.50,179.1 386.80,182.7 387.10,182.5 387.40,182.5 387.70,182.7 388.00,183.3 388.30,181.8 388.60,182.6 388.90,181.1 389.20,181.5 389.50,182.8 389.80,182.2 390.10,180.6 390.40,182.1 390.70,181.6 391.00,181.1 391.30,182.2 391.60,181.4 391.90,180.4 392.20,180.8 392.50,183.4 392.80,180.4 393.10,182.0 393.40,182.3 393.70,182.4 394.00,180.7 394.30,181.5 394.60,181.9 394.90,182.5 395.20,181.2 395.50,180.8 395.80,182.7 396.10,182.8 396.40,182.1 396.70,181.3 397.00,182.2 397.30,181.9 397.60,182.6 397.90,180.7 398.20,181.9 398.50,181.7 398.80,180.8 399.10,182.0 399.40,181.8 399.70,181.4 400.00,182.2 400.30,180.5 400.60,181.8 400.90,182.2 401.20,182.1 401.50,182.8 401.80,180.7 402.10,180.4 402.40,182.0 402.70,182.2 403.00,183.7 403.30,182.4 403.60,181.0 403.90,182.5 404.20,181.0 404.50,180.5 404.80,184.1 405.10,182.1 405.40,182.4 405.70,182.3 406.00,183.4 406.30,182.1 406.60,182.9 406.90,180.9 407.20,180.5 407.50,183.1 407.80,183.1 408.10,182.3 408.40,182.0 408.70,181.9 409.00,181.2 409.30,183.2 409.60,182.4 409.90,182.3 410.20,182.1 410.50,182.7 410.80,182.3 411.10,182.5 411.40,180.7 411.70,182.3 412.00,183.8 412.30,181.3 412.60,181.7 412.90,182.6 413.20,182.7 413.50,182.4 413.80,180.3 414.10,182.3 414.40,180.7 414.70,181.1 415.00,182.3 415.30,181.5 415.60,182.5 415.90,184.6 416.20,182.5 416.50,182.5 416.80,181.0 417.10,181.2 417.40,180.8 417.70,181.3 418.00,180.8 418.30,181.2 418.60,181.6 418.90,180.9 419.20,180.5 419.50,180.6 419.80,182.2 420.10,181.9 420.40,182.7 420.70,182.7 421.00,181.5 421.30,182.4 421.60,180.5 421.90,183.9 422.20,182.9 422.50,181.6 422.80,180.8 423.10,182.1 423.40,180.1 423.70,181.1 424.00,182.5 424.30,181.9 424.60,181.4 424.90,182.7 425.20,180.9 425.50,182.1 425.80,181.4 426.10,181.0 426.40,182.2 426.70,180.9 427.00,183.5 427.30,181.3 427.60,183.6 427.90,180.8 428.20,182.3 428.50,180.7 428.80,180.6 429.10,181.9 429.40,182.4 429.70,180.7 430.00,182.9 430.30,181.1 430.60,181.9 430.90,182.1 431.20,182.3 431.50,180.2 431.80,183.3 432.10,182.3 432.40,181.4 432.70,180.9 433.00,180.3 433.30,180.6 433.60,182.3 433.90,181.5 434.20,180.8 434.50,181.3 434.80,183.2 435.10,181.5 435.40,181.3 435.70,183.0 436.00,182.2 436.30,181.8 436.60,181.3 436.90,180.4 437.20,180.7 437.50,181.4 437.80,181.6 438.10,182.1 438.40,182.3 438.70,182.0 439.00,182.0 439.30,180.9 439.60,179.9 439.90,181.3 440.20,180.9 440.50,181.2 440.80,181.6 441.10,180.7 441.40,180.8 441.70,181.7 442.00,181.9 442.30,181.2 442.60,182.2 442.90,181.6 443.20,180.9 443.50,181.8 443.80,183.5 444.10,181.2 444.40,182.8 444.70,183.0 445.00,183.1 445.30,181.1 445.60,183.6 445.90,181.9 446.20,181.6 446.50,181.6 446.80,182.3 447.10,181.8 447.40,181.6 447.70,183.0 448.00,181.1 448.30,180.9 448.60,182.5 448.90,182.4 449.20,182.8 449.50,180.8 449.80,182.8 450.10,182.2 450.40,183.4 450.70,180.7 451.00,182.0 451.30,181.6 451.60,180.4 451.90,181.2 452.20,182.8 452.50,181.4 452.80,181.1 453.10,182.6 453.40,182.7 453.70,182.7 454.00,181.1 454.30,181.7 454.60,182.7 454.90,181.2 455.20,181.1 455.50,182.5 455.80,183.2 456.10,180.8 456.40,179.5 456.70,180.5 457.00,180.9 457.30,181.7 457.60,182.4 457.90,181.7 458.20,181.2 458.50,181.9 458.80,180.9 459.10,181.8 459.40,181.2 459.70,184.2 460.00,182.5 460.30,181.0 460.60,180.9 460.90,181.4 461.20,180.3 461.50,181.1 461.80,181.1 462.10,182.6 462.40,181.4 462.70,181.1 463.00,180.6 463.30,180.7 463.60,181.7 463.90,181.6 464.20,182.8 464.50,181.2 464.80,182.8 465.10,182.0 465.40,181.8 465.70,180.0 466.00,180.6 466.30,182.5 466.60,183.1 466.90,182.0 467.20,182.5 467.50,181.4 467.80,181.5 468.10,181.2 468.40,182.7 468.70,182.1 469.00,181.6 469.30,181.5 469.60,182.3 469.90,182.1 470.20,181.1 470.50,183.3 470.80,182.0 471.10,181.8 471.40,183.1 471.70,182.7 472.00,181.7 472.30,182.3 472.60,180.8 472.90,181.2 473.20,179.8 473.50,182.9 473.80,180.1 474.10,182.4 474.40,181.1 474.70,180.9 475.00,181.6 475.30,182.0 475.60,182.4 475.90,183.4 476.20,182.1 476.50,182.6 476.80,181.3 477.10,182.4 477.40,181.9 477.70,181.4 478.00,181.7 478.30,181.7 478.60,182.0 478.90,182.2 479.20,181.3 479.50,181.1 479.80,182.5 480.10,180.3 480.40,181.2 480.70,183.2 481.00,179.4 481.30,181.2 481.60,182.4 481.90,180.3 482.20,184.1 482.50,179.5 482.80,183.1 483.10,183.2 483.40,182.6 483.70,181.6 484.00,182.1 484.30,181.0 484.60,182.5 484.90,180.8 485.20,181.6 485.50,182.7 485.80,180.8 486.10,181.5 486.40,181.9 486.70,180.6 487.00,182.8 487.30,182.1 487.60,180.4 487.90,181.8 488.20,181.1 488.50,181.2 488.80,181.9 489.10,181.2 489.40,182.7 489.70,181.2 490.00,182.7 490.30,181.8 490.60,182.6 490.90,181.3 491.20,181.3 491.50,180.8 491.80,182.3 492.10,182.6 492.40,183.7 492.70,183.0 493.00,182.0 493.30,181.6 493.60,182.1 493.90,181.8 494.20,183.1 494.50,182.6 494.80,181.0 495.10,181.2 495.40,183.0 495.70,182.1 496.00,181.6 496.30,182.9 496.60,181.5 496.90,181.5 497.20,181.4 497.50,180.0 497.80,182.6 498.10,180.7 498.40,181.3 498.70,181.1 499.00,182.5 499.30,181.7 499.60,181.8 499.90,180.3 500.20,181.7 500.50,180.5" fill="none" stroke="#555" stroke-width="0.9" stroke-linejoin="round"/>
<polyline points="275.50,180.8 275.80,181.6 276.10,181.6 276.40,181.2 276.70,183.5 277.00,180.1 277.30,182.1 277.60,182.1 277.90,181.3 278.20,181.9 278.50,182.6 278.80,181.9 279.10,182.2 279.40,182.4 279.70,180.0 280.00,183.1 280.30,183.9 280.60,182.7 280.90,182.7 281.20,180.5 281.50,181.7 281.80,181.1 282.10,181.3 282.40,182.7 282.70,181.1 283.00,181.7 283.30,180.1 283.60,181.7 283.90,181.9 284.20,181.2 284.50,181.2 284.80,183.5 285.10,180.7 285.40,180.9 285.70,181.1 286.00,182.9 286.30,183.7 286.60,182.1 286.90,181.2 287.20,181.4 287.50,182.8 287.80,181.0 288.10,183.1 288.40,183.1 288.70,181.9 289.00,182.4 289.30,182.5 289.60,183.2 289.90,180.9 290.20,182.9 290.50,181.5 290.80,181.1 291.10,181.9 291.40,181.6 291.70,180.9 292.00,180.4 292.30,181.0 292.60,183.1 292.90,183.6 293.20,182.4 293.50,182.9 293.80,181.3 294.10,181.7 294.40,182.1 294.70,180.8 295.00,180.9 295.30,181.9 295.60,181.5 295.90,180.8 296.20,182.1 296.50,181.6 296.80,182.7 297.10,181.8 297.40,181.5 297.70,181.9 298.00,181.6 298.30,181.2 298.60,181.4 298.90,182.5 299.20,182.4 299.50,183.0 299.80,180.3 300.10,181.4 300.40,181.4 300.70,182.0 301.00,181.4 301.30,181.3 301.60,182.5 301.90,182.0 302.20,180.8 302.50,183.0 302.80,182.7 303.10,181.3 303.40,182.5 303.70,181.1 304.00,182.8 304.30,181.6 304.60,181.1 304.90,181.5 305.20,181.1 305.50,182.0 305.80,182.0 306.10,181.8 306.40,181.3 306.70,178.5 307.00,181.9 307.30,180.1 307.60,182.0 307.90,182.8 308.20,182.0 308.50,181.4 308.80,181.6 309.10,181.7 309.40,181.3 309.70,181.3 310.00,181.0 310.30,182.9 310.60,181.8 310.90,182.7 311.20,181.6 311.50,181.9 311.80,181.6 312.10,182.2 312.40,182.5 312.70,182.0 313.00,181.2 313.30,181.1 313.60,183.3 313.90,181.5 314.20,181.5 314.50,183.1 314.80,182.8 315.10,182.3 315.40,181.4 315.70,183.9 316.00,182.2 316.30,182.3 316.60,181.6 316.90,180.5 317.20,180.6 317.50,182.2 317.80,182.2 318.10,181.6 318.40,180.7 318.70,180.5 319.00,181.5 319.30,180.5 319.60,182.6 319.90,182.8 320.20,184.3 320.50,182.6 320.80,181.3 321.10,181.0 321.40,178.7 321.70,181.3 322.00,181.6 322.30,182.7 322.60,182.4 322.90,182.3 323.20,182.0 323.50,182.4 323.80,183.1 324.10,180.8 324.40,181.4 324.70,180.6 325.00,183.3 325.30,183.0 325.60,182.5 325.90,180.7 326.20,182.0 326.50,181.6 326.80,181.9 327.10,181.6 327.40,182.3 327.70,181.4 328.00,182.6 328.30,182.0 328.60,181.5 328.90,181.7 329.20,181.4 329.50,182.5 329.80,181.6 330.10,182.1 330.40,181.4 330.70,180.5 331.00,182.6 331.30,180.8 331.60,182.4 331.90,182.2 332.20,180.3 332.50,180.9 332.80,181.3 333.10,181.1 333.40,180.7 333.70,182.5 334.00,181.6 334.30,182.1 334.60,181.4 334.90,182.1 335.20,181.1 335.50,181.8 335.80,182.3 336.10,181.8 336.40,181.4 336.70,180.8 337.00,182.0 337.30,182.1 337.60,181.6 337.90,181.1 338.20,182.3 338.50,184.0 338.80,181.5 339.10,182.1 339.40,182.1 339.70,179.5 340.00,181.9 340.30,181.2 340.60,183.0 340.90,181.6 341.20,181.1 341.50,181.6 341.80,181.9 342.10,181.3 342.40,181.8 342.70,180.6 343.00,181.6 343.30,182.5 343.60,183.6 343.90,182.4 344.20,182.0 344.50,182.9 344.80,182.7 345.10,183.3 345.40,182.8 345.70,181.7 346.00,182.0 346.30,182.0 346.60,182.1 346.90,182.0 347.20,181.1 347.50,179.9 347.80,181.2 348.10,180.0 348.40,181.9 348.70,181.8 349.00,180.3 349.30,182.4 349.60,182.6 349.90,181.9 350.20,183.3 350.50,183.5 350.80,180.7 351.10,182.7 351.40,182.2 351.70,182.2 352.00,182.6 352.30,181.2 352.60,181.3 352.90,181.1 353.20,181.1 353.50,181.7 353.80,180.5 354.10,180.9 354.40,182.3 354.70,181.7 355.00,182.1 355.30,180.1 355.60,181.1 355.90,181.3 356.20,181.8 356.50,181.3 356.80,182.6 357.10,181.7 357.40,181.8 357.70,181.8 358.00,182.4 358.30,181.4 358.60,182.8 358.90,182.2 359.20,181.9 359.50,181.8 359.80,182.3 360.10,182.7 360.40,182.7 360.70,182.1 361.00,182.6 361.30,181.9 361.60,182.9 361.90,181.8 362.20,179.9 362.50,183.0 362.80,181.9 363.10,180.7 363.40,181.6 363.70,181.0 364.00,183.7 364.30,182.2 364.60,180.4 364.90,182.3 365.20,181.4 365.50,183.5 365.80,180.9 366.10,179.8 366.40,181.9 366.70,181.5 367.00,181.4 367.30,179.9 367.60,182.2 367.90,183.3 368.20,180.1 368.50,182.9 368.80,181.3 369.10,183.9 369.40,182.2 369.70,181.6 370.00,182.8 370.30,182.3 370.60,181.3 370.90,182.4 371.20,181.3 371.50,180.2 371.80,183.6 372.10,181.5 372.40,181.3 372.70,182.1 373.00,180.4 373.30,180.6 373.60,181.4 373.90,181.3 374.20,181.9 374.50,182.8 374.80,181.4 375.10,182.2 375.40,182.3 375.70,180.8 376.00,182.0 376.30,181.0 376.60,182.8 376.90,182.2 377.20,181.8 377.50,180.6 377.80,181.9 378.10,181.1 378.40,182.4 378.70,181.7 379.00,181.1 379.30,182.6 379.60,182.4 379.90,181.3 380.20,182.8 380.50,181.5 380.80,181.5 381.10,181.9 381.40,181.1 381.70,181.4 382.00,181.7 382.30,183.2 382.60,183.1 382.90,181.6 383.20,183.2 383.50,181.8 383.80,182.1 384.10,182.6 384.40,182.1 384.70,184.0 385.00,182.0 385.30,180.7 385.60,183.0 385.90,181.4 386.20,181.5 386.50,179.1 386.80,182.7 387.10,182.5 387.40,182.5 387.70,182.7 388.00,183.3 388.30,181.8 388.60,182.6 388.90,181.1 389.20,181.5 389.50,182.8 389.80,182.2 390.10,180.6 390.40,182.1 390.70,181.6 391.00,181.1 391.30,182.2 391.60,181.4 391.90,180.4 392.20,180.8 392.50,183.4 392.80,180.4 393.10,182.0 393.40,182.3 393.70,182.4 394.00,180.7 394.30,181.5 394.60,181.9 394.90,182.5 395.20,181.2 395.50,180.8 395.80,182.7 396.10,182.8 396.40,182.1 396.70,181.3 397.00,182.2 397.30,181.9 397.60,182.6 397.90,180.7 398.20,181.9 398.50,181.7 398.80,180.8 399.10,182.0 399.40,181.8 399.70,181.4 400.00,182.2 400.30,180.5 400.60,181.8 400.90,182.2 401.20,182.1 401.50,182.8 401.80,180.7 402.10,180.4 402.40,182.0 402.70,182.2 403.00,183.7 403.30,182.4 403.60,181.0 403.90,182.5 404.20,181.0 404.50,180.5 404.80,184.1 405.10,182.1 405.40,182.4 405.70,182.3 406.00,183.4 406.30,182.1 406.60,182.9 406.90,180.9 407.20,180.5 407.50,183.1 407.80,183.1 408.10,182.3 408.40,182.0 408.70,181.9 409.00,181.2 409.30,183.2 409.60,182.4 409.90,182.3 410.20,182.1 410.50,182.7 410.80,182.3 411.10,182.5 411.40,180.7 411.70,182.3 412.00,183.8 412.30,181.3 412.60,181.7 412.90,182.6 413.20,182.7 413.50,182.4 413.80,180.3 414.10,182.3 414.40,180.7 414.70,181.1 415.00,182.3 415.30,181.5 415.60,182.5 415.90,184.6 416.20,182.5 416.50,182.5 416.80,181.0 417.10,181.2 417.40,180.8 417.70,181.3 418.00,180.8 418.30,181.2 418.60,181.6 418.90,180.9 419.20,180.5 419.50,180.6 419.80,182.2 420.10,181.9 420.40,182.7 420.70,182.7 421.00,181.5 421.30,182.4 421.60,180.5 421.90,183.9 422.20,182.9 422.50,181.6 422.80,180.8 423.10,182.1 423.40,180.1 423.70,181.1 424.00,182.5 424.30,181.9 424.60,181.4 424.90,182.7 425.20,180.9 425.50,182.1 425.80,181.4 426.10,181.0 426.40,182.2 426.70,180.9 427.00,183.5 427.30,181.3 427.60,183.6 427.90,180.8 428.20,182.3 428.50,180.7 428.80,180.6 429.10,181.9 429.40,182.4 429.70,180.7 430.00,182.9 430.30,181.1 430.60,181.9 430.90,182.1 431.20,182.3 431.50,180.2 431.80,183.3 432.10,182.3 432.40,181.4 432.70,180.9 433.00,180.3 433.30,180.6 433.60,182.3 433.90,181.5 434.20,180.8 434.50,181.3 434.80,183.2 435.10,181.5 435.40,181.3 435.70,183.0 436.00,182.2 436.30,181.8 436.60,181.3 436.90,180.4 437.20,180.7 437.50,181.4 437.80,181.6 438.10,182.1 438.40,182.3 438.70,182.0 439.00,182.0 439.30,180.9 439.60,179.9 439.90,181.3 440.20,180.9 440.50,181.2 440.80,181.6 441.10,180.7 441.40,180.8 441.70,181.7 442.00,181.9 442.30,181.2 442.60,182.2 442.90,181.6 443.20,180.9 443.50,181.8 443.80,183.5 444.10,181.2 444.40,182.8 444.70,183.0 445.00,183.1 445.30,181.1 445.60,183.6 445.90,181.9 446.20,181.6 446.50,181.6 446.80,182.3 447.10,181.8 447.40,181.6 447.70,183.0 448.00,181.1 448.30,180.9 448.60,182.5 448.90,182.4 449.20,182.8 449.50,180.8 449.80,182.8 450.10,182.2 450.40,183.4 450.70,180.7 451.00,182.0 451.30,181.6 451.60,180.4 451.90,181.2 452.20,182.8 452.50,181.4 452.80,181.1 453.10,182.6 453.40,182.7 453.70,182.7 454.00,181.1 454.30,181.7 454.60,182.7 454.90,181.2 455.20,181.1 455.50,182.5 455.80,183.2 456.10,180.8 456.40,179.5 456.70,180.5 457.00,180.9 457.30,181.7 457.60,182.4 457.90,181.7 458.20,181.2 458.50,181.9 458.80,180.9 459.10,181.8 459.40,181.2 459.70,184.2 460.00,182.5 460.30,181.0 460.60,180.9 460.90,181.4 461.20,180.3 461.50,181.1 461.80,181.1 462.10,182.6 462.40,181.4 462.70,181.1 463.00,180.6 463.30,180.7 463.60,181.7 463.90,181.6 464.20,182.8 464.50,181.2 464.80,182.8 465.10,182.0 465.40,181.8 465.70,180.0 466.00,180.6 466.30,182.5 466.60,183.1 466.90,182.0 467.20,182.5 467.50,181.4 467.80,181.5 468.10,181.2 468.40,182.7 468.70,182.1 469.00,181.6 469.30,181.5 469.60,182.3 469.90,182.1 470.20,181.1 470.50,183.3 470.80,182.0 471.10,181.8 471.40,183.1 471.70,182.7 472.00,181.7 472.30,182.3 472.60,180.8 472.90,181.2 473.20,179.8 473.50,182.9 473.80,180.1 474.10,182.4 474.40,181.1 474.70,180.9 475.00,181.6 475.30,182.0 475.60,182.4 475.90,183.4 476.20,182.1 476.50,182.6 476.80,181.3 477.10,182.4 477.40,181.9 477.70,181.4 478.00,181.7 478.30,181.7 478.60,182.0 478.90,182.2 479.20,181.3 479.50,181.1 479.80,182.5 480.10,180.3 480.40,181.2 480.70,183.2 481.00,179.4 481.30,181.2 481.60,182.4 481.90,180.3 482.20,184.1 482.50,179.5 482.80,183.1 483.10,183.2 483.40,182.6 483.70,181.6 484.00,182.1 484.30,181.0 484.60,182.5 484.90,180.8 485.20,181.6 485.50,182.7 485.80,180.8 486.10,181.5 486.40,181.9 486.70,180.6 487.00,182.8 487.30,182.1 487.60,180.4 487.90,181.8 488.20,181.1 488.50,181.2 488.80,181.9 489.10,181.2 489.40,182.7 489.70,181.2 490.00,182.7 490.30,181.8 490.60,182.6 490.90,181.3 491.20,181.3 491.50,180.8 491.80,182.3 492.10,182.6 492.40,183.7 492.70,183.0 493.00,182.0 493.30,181.6 493.60,182.1 493.90,181.8 494.20,183.1 494.50,182.6 494.80,181.0 495.10,181.2 495.40,183.0 495.70,182.1 496.00,181.6 496.30,182.9 496.60,181.5 496.90,181.5 497.20,181.4 497.50,180.0 497.80,182.6 498.10,180.7 498.40,181.3 498.70,181.1 499.00,182.5 499.30,181.7 499.60,181.8 499.90,180.3 500.20,181.7 500.50,180.5" fill="none" stroke="#111" stroke-width="1.8" stroke-linejoin="round"/>
<text x="206.06" y="240.00" font-size="23.6" font-weight="bold" fill="#000" stroke="#000">+80 mV</text>
<text x="44.16" y="262.20" font-size="24.3" fill="#000" stroke="#000">P</text>
<text x="60.46" y="267.60" font-size="14.8" stroke="#000">o</text>
<text x="77.50" y="262.20" font-size="24.3" stroke="#000">= 0.00339</text>
<text x="295.56" y="262.00" font-size="24.3" fill="#000" stroke="#000">P</text>
<text x="311.86" y="267.40" font-size="14.8" stroke="#000">o</text>
<text x="328.90" y="262.00" font-size="24.3" stroke="#000">= 0.00107</text>
<text x="9.15" y="286.70" font-size="14.5" fill="#000" stroke="#000">O</text>
<text x="20.33" y="291.90" font-size="8.5" stroke="#000">2</text>
<text x="8.55" y="312.70" font-size="14.5" fill="#000" stroke="#000">O</text>
<text x="19.73" y="317.90" font-size="8.5" stroke="#000">1</text>
<text x="11.38" y="338.00" font-size="14.5" fill="#000" stroke="#000">C</text>
<text x="257.75" y="314.20" font-size="14.5" fill="#000" stroke="#000">O</text>
<text x="268.93" y="319.40" font-size="8.5" stroke="#000">1</text>
<text x="258.97" y="339.10" font-size="14.5" fill="#000" stroke="#000">C</text>
<line x1="25.60" y1="281.00" x2="248.50" y2="281.00" stroke="#222" stroke-width="1.3" stroke-dasharray="2.3 2.9"/>
<line x1="25.60" y1="307.50" x2="248.50" y2="307.50" stroke="#222" stroke-width="1.3" stroke-dasharray="2.3 2.9"/>
<line x1="25.60" y1="333.40" x2="248.50" y2="333.40" stroke="#222" stroke-width="1.3" stroke-dasharray="2.3 2.9"/>
<line x1="275.20" y1="308.20" x2="492.40" y2="308.20" stroke="#222" stroke-width="1.3" stroke-dasharray="2.3 2.9"/>
<polyline points="25.40,335.3 25.70,335.3 26.00,307.5 26.30,310.5 26.60,308.3 26.90,308.4 27.20,335.1 27.50,334.8 27.80,335.8 28.10,335.9 28.40,333.9 28.70,335.9 29.00,335.4 29.30,335.8 29.60,335.4 29.90,333.9 30.20,334.0 30.50,336.6 30.80,335.2 31.10,333.8 31.40,335.3 31.70,334.7 32.00,333.4 32.30,333.1 32.60,333.6 32.90,335.2 33.20,335.0 33.50,307.1 33.80,307.9 34.10,308.4 34.40,304.5 34.70,307.1 35.00,306.3 35.30,305.7 35.60,306.7 35.90,320.0 36.20,307.1 36.50,305.4 36.80,306.8 37.10,310.4 37.40,306.0 37.70,305.1 38.00,335.2 38.30,335.5 38.60,335.4 38.90,334.0 39.20,335.8 39.50,334.3 39.80,334.0 40.10,334.5 40.40,334.9 40.70,335.6 41.00,335.5 41.30,335.0 41.60,335.8 41.90,335.1 42.20,335.8 42.50,333.8 42.80,333.7 43.10,335.7 43.40,333.8 43.70,334.7 44.00,334.9 44.30,334.6 44.60,334.6 44.90,336.2 45.20,332.8 45.50,335.8 45.80,337.0 46.10,307.5 46.40,307.5 46.70,308.5 47.00,310.1 47.30,305.8 47.60,307.6 47.90,307.2 48.20,308.3 48.50,307.7 48.80,308.5 49.10,318.0 49.40,307.6 49.70,306.5 50.00,306.5 50.30,307.3 50.60,307.3 50.90,297.0 51.20,309.8 51.50,307.3 51.80,305.5 52.10,309.1 52.40,306.4 52.70,308.2 53.00,307.5 53.30,307.9 53.60,307.7 53.90,306.7 54.20,307.6 54.50,310.4 54.80,304.3 55.10,335.1 55.40,335.4 55.70,334.1 56.00,333.8 56.30,336.8 56.60,334.7 56.90,336.8 57.20,335.5 57.50,335.1 57.80,335.4 58.10,335.5 58.40,336.0 58.70,335.4 59.00,335.1 59.30,335.1 59.60,336.1 59.90,335.7 60.20,334.1 60.50,334.5 60.80,335.3 61.10,334.5 61.40,334.7 61.70,334.2 62.00,334.8 62.30,335.4 62.60,335.8 62.90,307.5 63.20,310.5 63.50,307.4 63.80,312.1 64.10,308.9 64.40,308.2 64.70,306.8 65.00,303.4 65.30,307.3 65.60,307.8 65.90,310.3 66.20,305.5 66.50,336.6 66.80,334.8 67.10,335.6 67.40,332.8 67.70,335.1 68.00,334.7 68.30,335.6 68.60,335.1 68.90,334.0 69.20,335.8 69.50,335.6 69.80,335.5 70.10,335.9 70.40,335.9 70.70,335.0 71.00,333.8 71.30,333.8 71.60,336.1 71.90,335.6 72.20,335.1 72.50,334.6 72.80,335.0 73.10,335.0 73.40,334.7 73.70,334.4 74.00,336.8 74.30,335.2 74.60,334.5 74.90,333.9 75.20,334.4 75.50,335.6 75.80,335.6 76.10,334.8 76.40,335.0 76.70,334.7 77.00,334.1 77.30,336.1 77.60,335.3 77.90,337.1 78.20,334.4 78.50,334.9 78.80,335.8 79.10,334.8 79.40,333.8 79.70,334.2 80.00,335.1 80.30,335.3 80.60,334.9 80.90,335.9 81.20,335.8 81.50,335.3 81.80,335.0 82.10,334.8 82.40,335.5 82.70,335.8 83.00,335.1 83.30,335.4 83.60,334.7 83.90,333.8 84.20,334.1 84.50,335.7 84.80,335.4 85.10,336.4 85.40,335.0 85.70,335.7 86.00,336.1 86.30,335.8 86.60,334.5 86.90,334.8 87.20,335.1 87.50,334.2 87.80,335.4 88.10,335.9 88.40,334.6 88.70,336.7 89.00,334.8 89.30,334.8 89.60,334.8 89.90,334.4 90.20,335.4 90.50,335.0 90.80,336.4 91.10,335.5 91.40,335.5 91.70,334.8 92.00,333.8 92.30,334.9 92.60,334.3 92.90,335.8 93.20,335.0 93.50,336.4 93.80,335.6 94.10,335.7 94.40,335.2 94.70,335.2 95.00,335.6 95.30,335.8 95.60,334.4 95.90,335.4 96.20,337.2 96.50,334.9 96.80,326.0 97.10,334.4 97.40,333.8 97.70,336.0 98.00,335.1 98.30,335.3 98.60,336.6 98.90,337.1 99.20,334.2 99.50,335.9 99.80,335.5 100.10,335.3 100.40,335.4 100.70,335.0 101.00,336.4 101.30,335.5 101.60,335.3 101.90,336.1 102.20,335.8 102.50,335.4 102.80,335.3 103.10,336.5 103.40,335.4 103.70,334.9 104.00,334.3 104.30,334.7 104.60,334.1 104.90,335.1 105.20,335.2 105.50,304.5 105.80,307.5 106.10,308.4 106.40,307.7 106.70,306.1 107.00,309.3 107.30,306.5 107.60,305.7 107.90,305.9 108.20,307.5 108.50,308.9 108.80,309.2 109.10,307.8 109.40,305.8 109.70,306.6 110.00,306.2 110.30,307.2 110.60,304.9 110.90,307.7 111.20,308.4 111.50,307.3 111.80,308.2 112.10,306.1 112.40,305.4 112.70,306.6 113.00,309.2 113.30,335.9 113.60,334.6 113.90,336.0 114.20,334.7 114.50,336.3 114.80,335.4 115.10,334.6 115.40,335.7 115.70,334.3 116.00,334.2 116.30,333.8 116.60,335.2 116.90,335.0 117.20,334.9 117.50,334.7 117.80,336.2 118.10,334.6 118.40,334.4 118.70,336.1 119.00,336.2 119.30,335.3 119.60,333.5 119.90,334.5 120.20,335.5 120.50,335.0 120.80,336.3 121.10,333.8 121.40,335.6 121.70,334.5 122.00,336.1 122.30,334.9 122.60,335.9 122.90,334.4 123.20,333.8 123.50,334.1 123.80,334.5 124.10,334.1 124.40,336.0 124.70,336.1 125.00,335.2 125.30,334.1 125.60,334.9 125.90,334.4 126.20,336.2 126.50,335.3 126.80,335.4 127.10,334.7 127.40,333.3 127.70,334.3 128.00,334.1 128.30,335.3 128.60,335.1 128.90,334.3 129.20,334.7 129.50,309.8 129.80,306.1 130.10,306.2 130.40,307.2 130.70,306.5 131.00,306.9 131.30,279.0 131.60,310.0 131.90,304.9 132.20,307.5 132.50,307.6 132.80,307.4 133.10,307.2 133.40,307.0 133.70,335.9 134.00,334.6 134.30,334.9 134.60,335.0 134.90,335.1 135.20,314.8 135.50,316.4 135.80,315.0 136.10,315.3 136.40,314.9 136.70,313.6 137.00,334.3 137.30,334.1 137.60,335.2 137.90,334.4 138.20,334.1 138.50,335.2 138.80,335.4 139.10,333.5 139.40,336.4 139.70,335.0 140.00,334.9 140.30,335.9 140.60,335.1 140.90,334.5 141.20,336.9 141.50,334.1 141.80,334.9 142.10,335.7 142.40,334.1 142.70,334.9 143.00,335.3 143.30,337.0 143.60,306.2 143.90,307.4 144.20,308.5 144.50,307.6 144.80,305.8 145.10,335.3 145.40,335.1 145.70,335.4 146.00,336.0 146.30,335.9 146.60,335.3 146.90,335.3 147.20,334.1 147.50,334.9 147.80,335.2 148.10,315.7 148.40,335.1 148.70,334.3 149.00,336.3 149.30,336.8 149.60,334.7 149.90,335.3 150.20,334.8 150.50,336.1 150.80,335.4 151.10,335.1 151.40,334.8 151.70,335.1 152.00,334.1 152.30,335.6 152.60,334.4 152.90,335.5 153.20,335.1 153.50,335.9 153.80,335.0 154.10,335.9 154.40,314.4 154.70,335.5 155.00,334.8 155.30,335.2 155.60,335.1 155.90,335.8 156.20,333.3 156.50,335.3 156.80,333.7 157.10,336.0 157.40,333.3 157.70,334.1 158.00,333.6 158.30,336.4 158.60,333.9 158.90,335.1 159.20,334.5 159.50,333.5 159.80,334.7 160.10,335.6 160.40,334.8 160.70,335.8 161.00,334.7 161.30,335.0 161.60,334.7 161.90,335.3 162.20,336.6 162.50,335.3 162.80,335.2 163.10,334.5 163.40,334.4 163.70,336.2 164.00,334.1 164.30,334.2 164.60,334.9 164.90,334.6 165.20,336.7 165.50,333.0 165.80,335.3 166.10,335.6 166.40,334.0 166.70,334.5 167.00,335.4 167.30,336.4 167.60,334.2 167.90,333.7 168.20,335.8 168.50,336.3 168.80,334.7 169.10,333.1 169.40,336.2 169.70,334.8 170.00,336.0 170.30,335.0 170.60,334.7 170.90,334.6 171.20,336.3 171.50,336.2 171.80,333.2 172.10,334.2 172.40,336.5 172.70,334.7 173.00,333.8 173.30,335.0 173.60,334.9 173.90,334.9 174.20,334.6 174.50,334.7 174.80,334.6 175.10,335.3 175.40,334.3 175.70,334.8 176.00,334.9 176.30,336.1 176.60,335.3 176.90,334.9 177.20,335.5 177.50,335.3 177.80,335.9 178.10,335.4 178.40,336.5 178.70,336.1 179.00,335.0 179.30,334.6 179.60,335.8 179.90,335.4 180.20,334.9 180.50,333.7 180.80,333.4 181.10,335.3 181.40,335.7 181.70,335.7 182.00,333.9 182.30,335.9 182.60,334.5 182.90,335.3 183.20,335.4 183.50,334.3 183.80,334.5 184.10,333.2 184.40,334.2 184.70,333.5 185.00,335.4 185.30,335.1 185.60,335.8 185.90,335.3 186.20,334.5 186.50,335.3 186.80,334.7 187.10,335.5 187.40,335.3 187.70,334.2 188.00,335.0 188.30,335.0 188.60,334.7 188.90,335.8 189.20,336.5 189.50,334.7 189.80,307.0 190.10,304.3 190.40,307.3 190.70,306.9 191.00,304.4 191.30,307.9 191.60,308.4 191.90,306.4 192.20,307.0 192.50,306.1 192.80,308.6 193.10,305.3 193.40,307.0 193.70,310.3 194.00,284.0 194.30,308.2 194.60,307.3 194.90,305.8 195.20,307.5 195.50,308.1 195.80,306.0 196.10,308.0 196.40,309.3 196.70,309.0 197.00,325.0 197.30,306.1 197.60,305.2 197.90,309.0 198.20,308.4 198.50,308.5 198.80,306.2 199.10,305.8 199.40,307.6 199.70,307.6 200.00,320.0 200.30,307.7 200.60,308.4 200.90,307.8 201.20,306.0 201.50,304.4 201.80,307.1 202.10,307.7 202.40,307.1 202.70,306.9 203.00,328.0 203.30,308.5 203.60,307.4 203.90,307.7 204.20,306.1 204.50,306.6 204.80,307.7 205.10,306.0 205.40,305.7 205.70,307.0 206.00,309.2 206.30,307.8 206.60,336.2 206.90,334.9 207.20,334.7 207.50,333.8 207.80,334.5 208.10,336.2 208.40,335.3 208.70,335.6 209.00,335.6 209.30,335.0 209.60,334.8 209.90,335.1 210.20,335.6 210.50,335.4 210.80,335.4 211.10,335.1 211.40,334.3 211.70,334.8 212.00,326.0 212.30,335.9 212.60,333.2 212.90,334.8 213.20,337.0 213.50,334.7 213.80,334.0 214.10,335.0 214.40,336.1 214.70,334.9 215.00,335.5 215.30,335.1 215.60,334.7 215.90,337.7 216.20,335.1 216.50,334.5 216.80,334.6 217.10,335.3 217.40,335.3 217.70,335.7 218.00,335.1 218.30,333.8 218.60,335.5 218.90,334.7 219.20,334.8 219.50,305.4 219.80,306.7 220.10,306.4 220.40,307.4 220.70,305.4 221.00,307.6 221.30,307.7 221.60,305.9 221.90,306.6 222.20,306.3 222.50,308.8 222.80,303.8 223.10,307.0 223.40,305.1 223.70,306.9 224.00,308.7 224.30,306.6 224.60,307.7 224.90,306.3 225.20,310.3 225.50,322.0 225.80,309.1 226.10,305.6 226.40,305.9 226.70,309.1 227.00,307.2 227.30,307.1 227.60,308.0 227.90,305.7 228.20,308.6 228.50,307.5 228.80,308.2 229.10,306.5 229.40,308.2 229.70,306.5 230.00,318.0 230.30,309.1 230.60,308.8 230.90,308.2 231.20,308.4 231.50,303.6 231.80,308.7 232.10,307.1 232.40,307.6 232.70,307.1 233.00,305.5 233.30,306.7 233.60,335.6 233.90,336.2 234.20,334.5 234.50,334.2 234.80,336.2 235.10,334.2 235.40,336.8 235.70,335.0 236.00,334.2 236.30,335.8 236.60,336.4 236.90,333.8 237.20,336.3 237.50,334.8 237.80,336.3 238.10,334.7 238.40,333.7 238.70,335.4 239.00,335.8 239.30,336.8 239.60,336.5 239.90,335.6 240.20,334.8 240.50,334.6 240.80,334.7 241.10,334.3 241.40,334.8 241.70,332.8 242.00,335.2 242.30,335.0 242.60,337.2 242.90,335.6 243.20,334.6 243.50,335.5 243.80,334.0 244.10,334.5 244.40,333.4 244.70,336.2 245.00,335.5 245.30,334.0 245.60,334.9 245.90,335.8 246.20,335.4 246.50,335.3 246.80,334.3 247.10,334.5 247.40,335.1 247.70,335.8" fill="none" stroke="#555" stroke-width="0.9" stroke-linejoin="round"/>
<polyline points="25.40,335.3 25.70,335.3" fill="none" stroke="#111" stroke-width="1.7" stroke-linejoin="round"/>
<polyline points="26.00,307.5 26.30,310.5 26.60,308.3 26.90,308.4" fill="none" stroke="#111" stroke-width="1.0" stroke-linejoin="round"/>
<polyline points="27.20,335.1 27.50,334.8 27.80,335.8 28.10,335.9 28.40,333.9 28.70,335.9 29.00,335.4 29.30,335.8 29.60,335.4 29.90,333.9 30.20,334.0 30.50,336.6 30.80,335.2 31.10,333.8 31.40,335.3 31.70,334.7 32.00,333.4 32.30,333.1 32.60,333.6 32.90,335.2 33.20,335.0" fill="none" stroke="#111" stroke-width="1.7" stroke-linejoin="round"/>
<polyline points="33.50,307.1 33.80,307.9 34.10,308.4 34.40,304.5 34.70,307.1 35.00,306.3 35.30,305.7 35.60,306.7 35.90,307.3 36.20,307.1 36.50,305.4 36.80,306.8 37.10,310.4 37.40,306.0 37.70,305.1" fill="none" stroke="#111" stroke-width="1.0" stroke-linejoin="round"/>
<polyline points="38.00,335.2 38.30,335.5 38.60,335.4 38.90,334.0 39.20,335.8 39.50,334.3 39.80,334.0 40.10,334.5 40.40,334.9 40.70,335.6 41.00,335.5 41.30,335.0 41.60,335.8 41.90,335.1 42.20,335.8 42.50,333.8 42.80,333.7 43.10,335.7 43.40,333.8 43.70,334.7 44.00,334.9 44.30,334.6 44.60,334.6 44.90,336.2 45.20,332.8 45.50,335.8 45.80,337.0" fill="none" stroke="#111" stroke-width="1.7" stroke-linejoin="round"/>
<polyline points="46.10,307.5 46.40,307.5 46.70,308.5 47.00,310.1 47.30,305.8 47.60,307.6 47.90,307.2 48.20,308.3 48.50,307.7 48.80,308.5 49.10,306.9 49.40,307.6 49.70,306.5 50.00,306.5 50.30,307.3 50.60,307.3 50.90,305.8 51.20,309.8 51.50,307.3 51.80,305.5 52.10,309.1 52.40,306.4 52.70,308.2 53.00,307.5 53.30,307.9 53.60,307.7 53.90,306.7 54.20,307.6 54.50,310.4 54.80,304.3" fill="none" stroke="#111" stroke-width="1.0" stroke-linejoin="round"/>
<polyline points="55.10,335.1 55.40,335.4 55.70,334.1 56.00,333.8 56.30,336.8 56.60,334.7 56.90,336.8 57.20,335.5 57.50,335.1 57.80,335.4 58.10,335.5 58.40,336.0 58.70,335.4 59.00,335.1 59.30,335.1 59.60,336.1 59.90,335.7 60.20,334.1 60.50,334.5 60.80,335.3 61.10,334.5 61.40,334.7 61.70,334.2 62.00,334.8 62.30,335.4 62.60,335.8" fill="none" stroke="#111" stroke-width="1.7" stroke-linejoin="round"/>
<polyline points="62.90,307.5 63.20,310.5 63.50,307.4 63.80,312.1 64.10,308.9 64.40,308.2 64.70,306.8 65.00,303.4 65.30,307.3 65.60,307.8 65.90,310.3 66.20,305.5" fill="none" stroke="#111" stroke-width="1.0" stroke-linejoin="round"/>
<polyline points="66.50,336.6 66.80,334.8 67.10,335.6 67.40,332.8 67.70,335.1 68.00,334.7 68.30,335.6 68.60,335.1 68.90,334.0 69.20,335.8 69.50,335.6 69.80,335.5 70.10,335.9 70.40,335.9 70.70,335.0 71.00,333.8 71.30,333.8 71.60,336.1 71.90,335.6 72.20,335.1 72.50,334.6 72.80,335.0 73.10,335.0 73.40,334.7 73.70,334.4 74.00,336.8 74.30,335.2 74.60,334.5 74.90,333.9 75.20,334.4 75.50,335.6 75.80,335.6 76.10,334.8 76.40,335.0 76.70,334.7 77.00,334.1 77.30,336.1 77.60,335.3 77.90,337.1 78.20,334.4 78.50,334.9 78.80,335.8 79.10,334.8 79.40,333.8 79.70,334.2 80.00,335.1 80.30,335.3 80.60,334.9 80.90,335.9 81.20,335.8 81.50,335.3 81.80,335.0 82.10,334.8 82.40,335.5 82.70,335.8 83.00,335.1 83.30,335.4 83.60,334.7 83.90,333.8 84.20,334.1 84.50,335.7 84.80,335.4 85.10,336.4 85.40,335.0 85.70,335.7 86.00,336.1 86.30,335.8 86.60,334.5 86.90,334.8 87.20,335.1 87.50,334.2 87.80,335.4 88.10,335.9 88.40,334.6 88.70,336.7 89.00,334.8 89.30,334.8 89.60,334.8 89.90,334.4 90.20,335.4 90.50,335.0 90.80,336.4 91.10,335.5 91.40,335.5 91.70,334.8 92.00,333.8 92.30,334.9 92.60,334.3 92.90,335.8 93.20,335.0 93.50,336.4 93.80,335.6 94.10,335.7 94.40,335.2 94.70,335.2 95.00,335.6 95.30,335.8 95.60,334.4 95.90,335.4 96.20,337.2 96.50,334.9 96.80,334.8 97.10,334.4 97.40,333.8 97.70,336.0 98.00,335.1 98.30,335.3 98.60,336.6 98.90,337.1 99.20,334.2 99.50,335.9 99.80,335.5 100.10,335.3 100.40,335.4 100.70,335.0 101.00,336.4 101.30,335.5 101.60,335.3 101.90,336.1 102.20,335.8 102.50,335.4 102.80,335.3 103.10,336.5 103.40,335.4 103.70,334.9 104.00,334.3 104.30,334.7 104.60,334.1 104.90,335.1 105.20,335.2" fill="none" stroke="#111" stroke-width="1.7" stroke-linejoin="round"/>
<polyline points="105.50,304.5 105.80,307.5 106.10,308.4 106.40,307.7 106.70,306.1 107.00,309.3 107.30,306.5 107.60,305.7 107.90,305.9 108.20,307.5 108.50,308.9 108.80,309.2 109.10,307.8 109.40,305.8 109.70,306.6 110.00,306.2 110.30,307.2 110.60,304.9 110.90,307.7 111.20,308.4 111.50,307.3 111.80,308.2 112.10,306.1 112.40,305.4 112.70,306.6 113.00,309.2" fill="none" stroke="#111" stroke-width="1.0" stroke-linejoin="round"/>
<polyline points="113.30,335.9 113.60,334.6 113.90,336.0 114.20,334.7 114.50,336.3 114.80,335.4 115.10,334.6 115.40,335.7 115.70,334.3 116.00,334.2 116.30,333.8 116.60,335.2 116.90,335.0 117.20,334.9 117.50,334.7 117.80,336.2 118.10,334.6 118.40,334.4 118.70,336.1 119.00,336.2 119.30,335.3 119.60,333.5 119.90,334.5 120.20,335.5 120.50,335.0 120.80,336.3 121.10,333.8 121.40,335.6 121.70,334.5 122.00,336.1 122.30,334.9 122.60,335.9 122.90,334.4 123.20,333.8 123.50,334.1 123.80,334.5 124.10,334.1 124.40,336.0 124.70,336.1 125.00,335.2 125.30,334.1 125.60,334.9 125.90,334.4 126.20,336.2 126.50,335.3 126.80,335.4 127.10,334.7 127.40,333.3 127.70,334.3 128.00,334.1 128.30,335.3 128.60,335.1 128.90,334.3 129.20,334.7" fill="none" stroke="#111" stroke-width="1.7" stroke-linejoin="round"/>
<polyline points="129.50,309.8 129.80,306.1 130.10,306.2 130.40,307.2 130.70,306.5 131.00,306.9 131.30,308.3 131.60,310.0 131.90,304.9 132.20,307.5 132.50,307.6 132.80,307.4 133.10,307.2 133.40,307.0" fill="none" stroke="#111" stroke-width="1.0" stroke-linejoin="round"/>
<polyline points="133.70,335.9 134.00,334.6 134.30,334.9 134.60,335.0 134.90,335.1" fill="none" stroke="#111" stroke-width="1.7" stroke-linejoin="round"/>
<polyline points="135.20,314.8 135.50,316.4 135.80,315.0 136.10,315.3 136.40,314.9 136.70,313.6" fill="none" stroke="#111" stroke-width="1.0" stroke-linejoin="round"/>
<polyline points="137.00,334.3 137.30,334.1 137.60,335.2 137.90,334.4 138.20,334.1 138.50,335.2 138.80,335.4 139.10,333.5 139.40,336.4 139.70,335.0 140.00,334.9 140.30,335.9 140.60,335.1 140.90,334.5 141.20,336.9 141.50,334.1 141.80,334.9 142.10,335.7 142.40,334.1 142.70,334.9 143.00,335.3 143.30,337.0" fill="none" stroke="#111" stroke-width="1.7" stroke-linejoin="round"/>
<polyline points="143.60,306.2 143.90,307.4 144.20,308.5 144.50,307.6 144.80,305.8" fill="none" stroke="#111" stroke-width="1.0" stroke-linejoin="round"/>
<polyline points="145.10,335.3 145.40,335.1 145.70,335.4 146.00,336.0 146.30,335.9 146.60,335.3 146.90,335.3 147.20,334.1 147.50,334.9 147.80,335.2 148.10,334.7 148.40,335.1 148.70,334.3 149.00,336.3 149.30,336.8 149.60,334.7 149.90,335.3 150.20,334.8 150.50,336.1 150.80,335.4 151.10,335.1 151.40,334.8 151.70,335.1 152.00,334.1 152.30,335.6 152.60,334.4 152.90,335.5 153.20,335.1 153.50,335.9 153.80,335.0 154.10,335.9 154.40,334.2 154.70,335.5 155.00,334.8 155.30,335.2 155.60,335.1 155.90,335.8 156.20,333.3 156.50,335.3 156.80,333.7 157.10,336.0 157.40,333.3 157.70,334.1 158.00,333.6 158.30,336.4 158.60,333.9 158.90,335.1 159.20,334.5 159.50,333.5 159.80,334.7 160.10,335.6 160.40,334.8 160.70,335.8 161.00,334.7 161.30,335.0 161.60,334.7 161.90,335.3 162.20,336.6 162.50,335.3 162.80,335.2 163.10,334.5 163.40,334.4 163.70,336.2 164.00,334.1 164.30,334.2 164.60,334.9 164.90,334.6 165.20,336.7 165.50,333.0 165.80,335.3 166.10,335.6 166.40,334.0 166.70,334.5 167.00,335.4 167.30,336.4 167.60,334.2 167.90,333.7 168.20,335.8 168.50,336.3 168.80,334.7 169.10,333.1 169.40,336.2 169.70,334.8 170.00,336.0 170.30,335.0 170.60,334.7 170.90,334.6 171.20,336.3 171.50,336.2 171.80,333.2 172.10,334.2 172.40,336.5 172.70,334.7 173.00,333.8 173.30,335.0 173.60,334.9 173.90,334.9 174.20,334.6 174.50,334.7 174.80,334.6 175.10,335.3 175.40,334.3 175.70,334.8 176.00,334.9 176.30,336.1 176.60,335.3 176.90,334.9 177.20,335.5 177.50,335.3 177.80,335.9 178.10,335.4 178.40,336.5 178.70,336.1 179.00,335.0 179.30,334.6 179.60,335.8 179.90,335.4 180.20,334.9 180.50,333.7 180.80,333.4 181.10,335.3 181.40,335.7 181.70,335.7 182.00,333.9 182.30,335.9 182.60,334.5 182.90,335.3 183.20,335.4 183.50,334.3 183.80,334.5 184.10,333.2 184.40,334.2 184.70,333.5 185.00,335.4 185.30,335.1 185.60,335.8 185.90,335.3 186.20,334.5 186.50,335.3 186.80,334.7 187.10,335.5 187.40,335.3 187.70,334.2 188.00,335.0 188.30,335.0 188.60,334.7 188.90,335.8 189.20,336.5 189.50,334.7" fill="none" stroke="#111" stroke-width="1.7" stroke-linejoin="round"/>
<polyline points="189.80,307.0 190.10,304.3 190.40,307.3 190.70,306.9 191.00,304.4 191.30,307.9 191.60,308.4 191.90,306.4 192.20,307.0 192.50,306.1 192.80,308.6 193.10,305.3 193.40,307.0 193.70,310.3 194.00,307.6 194.30,308.2 194.60,307.3 194.90,305.8 195.20,307.5 195.50,308.1 195.80,306.0 196.10,308.0 196.40,309.3 196.70,309.0 197.00,305.2 197.30,306.1 197.60,305.2 197.90,309.0 198.20,308.4 198.50,308.5 198.80,306.2 199.10,305.8 199.40,307.6 199.70,307.6 200.00,306.3 200.30,307.7 200.60,308.4 200.90,307.8 201.20,306.0 201.50,304.4 201.80,307.1 202.10,307.7 202.40,307.1 202.70,306.9 203.00,306.5 203.30,308.5 203.60,307.4 203.90,307.7 204.20,306.1 204.50,306.6 204.80,307.7 205.10,306.0 205.40,305.7 205.70,307.0 206.00,309.2 206.30,307.8" fill="none" stroke="#111" stroke-width="1.0" stroke-linejoin="round"/>
<polyline points="206.60,336.2 206.90,334.9 207.20,334.7 207.50,333.8 207.80,334.5 208.10,336.2 208.40,335.3 208.70,335.6 209.00,335.6 209.30,335.0 209.60,334.8 209.90,335.1 210.20,335.6 210.50,335.4 210.80,335.4 211.10,335.1 211.40,334.3 211.70,334.8 212.00,334.2 212.30,335.9 212.60,333.2 212.90,334.8 213.20,337.0 213.50,334.7 213.80,334.0 214.10,335.0 214.40,336.1 214.70,334.9 215.00,335.5 215.30,335.1 215.60,334.7 215.90,337.7 216.20,335.1 216.50,334.5 216.80,334.6 217.10,335.3 217.40,335.3 217.70,335.7 218.00,335.1 218.30,333.8 218.60,335.5 218.90,334.7 219.20,334.8" fill="none" stroke="#111" stroke-width="1.7" stroke-linejoin="round"/>
<polyline points="219.50,305.4 219.80,306.7 220.10,306.4 220.40,307.4 220.70,305.4 221.00,307.6 221.30,307.7 221.60,305.9 221.90,306.6 222.20,306.3 222.50,308.8 222.80,303.8 223.10,307.0 223.40,305.1 223.70,306.9 224.00,308.7 224.30,306.6 224.60,307.7 224.90,306.3 225.20,310.3 225.50,308.8 225.80,309.1 226.10,305.6 226.40,305.9 226.70,309.1 227.00,307.2 227.30,307.1 227.60,308.0 227.90,305.7 228.20,308.6 228.50,307.5 228.80,308.2 229.10,306.5 229.40,308.2 229.70,306.5 230.00,308.9 230.30,309.1 230.60,308.8 230.90,308.2 231.20,308.4 231.50,303.6 231.80,308.7 232.10,307.1 232.40,307.6 232.70,307.1 233.00,305.5 233.30,306.7" fill="none" stroke="#111" stroke-width="1.0" stroke-linejoin="round"/>
<polyline points="233.60,335.6 233.90,336.2 234.20,334.5 234.50,334.2 234.80,336.2 235.10,334.2 235.40,336.8 235.70,335.0 236.00,334.2 236.30,335.8 236.60,336.4 236.90,333.8 237.20,336.3 237.50,334.8 237.80,336.3 238.10,334.7 238.40,333.7 238.70,335.4 239.00,335.8 239.30,336.8 239.60,336.5 239.90,335.6 240.20,334.8 240.50,334.6 240.80,334.7 241.10,334.3 241.40,334.8 241.70,332.8 242.00,335.2 242.30,335.0 242.60,337.2 242.90,335.6 243.20,334.6 243.50,335.5 243.80,334.0 244.10,334.5 244.40,333.4 244.70,336.2 245.00,335.5 245.30,334.0 245.60,334.9 245.90,335.8 246.20,335.4 246.50,335.3 246.80,334.3 247.10,334.5 247.40,335.1 247.70,335.8" fill="none" stroke="#111" stroke-width="1.7" stroke-linejoin="round"/>
<polyline points="275.20,334.3 275.50,334.0 275.80,336.0 276.10,334.2 276.40,335.9 276.70,335.2 277.00,335.7 277.30,336.5 277.60,335.6 277.90,335.7 278.20,334.2 278.50,334.4 278.80,335.5 279.10,336.3 279.40,336.2 279.70,337.0 280.00,335.3 280.30,335.2 280.60,308.0 280.90,335.0 281.20,334.9 281.50,312.0 281.80,335.8 282.10,334.1 282.40,335.4 282.70,333.8 283.00,335.9 283.30,334.1 283.60,335.7 283.90,333.6 284.20,334.6 284.50,336.0 284.80,334.3 285.10,335.1 285.40,334.6 285.70,333.0 286.00,335.3 286.30,335.4 286.60,323.0 286.90,335.5 287.20,334.3 287.50,334.1 287.80,335.0 288.10,334.4 288.40,336.9 288.70,333.7 289.00,335.6 289.30,308.0 289.60,333.3 289.90,333.5 290.20,335.5 290.50,334.6 290.80,335.3 291.10,336.0 291.40,334.7 291.70,334.1 292.00,332.7 292.30,335.2 292.60,334.2 292.90,335.3 293.20,335.2 293.50,333.8 293.80,336.5 294.10,335.9 294.40,335.7 294.70,334.0 295.00,334.7 295.30,334.5 295.60,334.6 295.90,334.0 296.20,335.4 296.50,335.2 296.80,335.3 297.10,334.6 297.40,336.1 297.70,335.2 298.00,332.7 298.30,334.5 298.60,335.0 298.90,335.8 299.20,334.7 299.50,334.8 299.80,334.4 300.10,335.6 300.40,334.6 300.70,334.5 301.00,334.4 301.30,315.0 301.60,334.5 301.90,333.6 302.20,335.5 302.50,334.4 302.80,335.3 303.10,335.3 303.40,336.0 303.70,335.9 304.00,334.5 304.30,334.9 304.60,333.9 304.90,336.4 305.20,335.4 305.50,336.2 305.80,334.7 306.10,333.3 306.40,336.3 306.70,335.1 307.00,335.1 307.30,335.0 307.60,335.5 307.90,335.5 308.20,333.6 308.50,335.9 308.80,334.6 309.10,334.6 309.40,336.5 309.70,335.8 310.00,334.7 310.30,308.0 310.60,335.1 310.90,335.5 311.20,334.9 311.50,333.9 311.80,334.3 312.10,333.9 312.40,335.2 312.70,335.7 313.00,335.9 313.30,334.4 313.60,335.2 313.90,335.5 314.20,334.6 314.50,334.9 314.80,336.8 315.10,335.2 315.40,335.8 315.70,334.6 316.00,335.0 316.30,333.5 316.60,335.0 316.90,336.0 317.20,336.8 317.50,336.0 317.80,335.6 318.10,335.0 318.40,334.5 318.70,334.9 319.00,335.5 319.30,334.3 319.60,335.8 319.90,334.2 320.20,333.5 320.50,334.1 320.80,333.6 321.10,333.8 321.40,329.0 321.70,334.8 322.00,335.2 322.30,336.0 322.60,336.1 322.90,334.6 323.20,336.1 323.50,335.3 323.80,335.0 324.10,335.4 324.40,333.8 324.70,334.3 325.00,334.9 325.30,335.5 325.60,334.7 325.90,334.9 326.20,335.8 326.50,336.2 326.80,335.7 327.10,336.1 327.40,334.7 327.70,334.7 328.00,335.3 328.30,334.7 328.60,334.6 328.90,336.4 329.20,334.8 329.50,334.2 329.80,335.4 330.10,322.3 330.40,335.1 330.70,336.0 331.00,334.6 331.30,334.6 331.60,334.4 331.90,334.9 332.20,336.6 332.50,334.0 332.80,336.4 333.10,334.1 333.40,334.8 333.70,335.7 334.00,335.5 334.30,335.2 334.60,333.6 334.90,335.3 335.20,334.1 335.50,337.2 335.80,334.8 336.10,335.2 336.40,334.0 336.70,334.6 337.00,333.9 337.30,335.8 337.60,334.8 337.90,335.5 338.20,334.4 338.50,334.6 338.80,336.1 339.10,334.2 339.40,333.5 339.70,335.3 340.00,334.0 340.30,334.6 340.60,335.8 340.90,334.3 341.20,335.7 341.50,334.4 341.80,336.3 342.10,336.1 342.40,334.6 342.70,307.0 343.00,334.3 343.30,335.2 343.60,336.0 343.90,333.8 344.20,335.8 344.50,333.9 344.80,334.3 345.10,333.5 345.40,336.8 345.70,335.0 346.00,335.2 346.30,334.4 346.60,335.9 346.90,333.2 347.20,335.0 347.50,336.9 347.80,334.7 348.10,335.0 348.40,335.6 348.70,334.3 349.00,335.0 349.30,335.8 349.60,335.2 349.90,335.3 350.20,334.7 350.50,335.3 350.80,335.0 351.10,336.2 351.40,335.6 351.70,334.8 352.00,332.9 352.30,335.6 352.60,335.6 352.90,334.2 353.20,333.3 353.50,334.0 353.80,335.8 354.10,334.1 354.40,334.6 354.70,335.2 355.00,336.0 355.30,335.0 355.60,334.9 355.90,334.5 356.20,336.4 356.50,335.9 356.80,334.9 357.10,333.8 357.40,334.3 357.70,335.5 358.00,334.4 358.30,335.8 358.60,335.3 358.90,335.2 359.20,335.6 359.50,335.4 359.80,334.3 360.10,334.7 360.40,337.0 360.70,334.0 361.00,334.6 361.30,335.9 361.60,334.9 361.90,334.3 362.20,333.9 362.50,335.5 362.80,335.9 363.10,336.2 363.40,335.0 363.70,335.9 364.00,334.1 364.30,335.1 364.60,334.4 364.90,335.1 365.20,335.6 365.50,335.9 365.80,334.2 366.10,336.1 366.40,313.5 366.70,334.1 367.00,334.9 367.30,333.8 367.60,335.0 367.90,335.2 368.20,334.8 368.50,335.5 368.80,334.7 369.10,335.0 369.40,333.8 369.70,335.0 370.00,334.3 370.30,334.6 370.60,334.9 370.90,335.2 371.20,333.6 371.50,333.7 371.80,334.7 372.10,335.4 372.40,335.3 372.70,335.8 373.00,336.1 373.30,335.4 373.60,335.0 373.90,334.1 374.20,334.2 374.50,334.6 374.80,335.2 375.10,335.2 375.40,335.0 375.70,334.9 376.00,335.5 376.30,335.2 376.60,335.3 376.90,335.3 377.20,334.5 377.50,334.1 377.80,335.4 378.10,335.4 378.40,334.8 378.70,334.6 379.00,336.9 379.30,334.4 379.60,334.8 379.90,335.2 380.20,334.0 380.50,335.1 380.80,336.5 381.10,335.8 381.40,335.5 381.70,335.5 382.00,335.1 382.30,335.8 382.60,334.9 382.90,334.6 383.20,335.1 383.50,335.8 383.80,335.3 384.10,335.6 384.40,333.3 384.70,336.0 385.00,337.0 385.30,336.1 385.60,334.7 385.90,334.3 386.20,335.2 386.50,334.2 386.80,335.6 387.10,334.6 387.40,335.8 387.70,336.2 388.00,333.3 388.30,335.2 388.60,334.4 388.90,333.8 389.20,334.5 389.50,334.8 389.80,335.9 390.10,333.7 390.40,335.9 390.70,308.0 391.00,335.5 391.30,335.5 391.60,335.0 391.90,334.0 392.20,335.5 392.50,335.3 392.80,335.6 393.10,337.2 393.40,335.6 393.70,335.4 394.00,336.3 394.30,333.9 394.60,334.0 394.90,334.7 395.20,334.4 395.50,335.6 395.80,334.7 396.10,336.5 396.40,336.3 396.70,335.7 397.00,334.7 397.30,335.5 397.60,335.7 397.90,334.1 398.20,335.3 398.50,335.6 398.80,335.2 399.10,336.3 399.40,336.0 399.70,334.3 400.00,335.1 400.30,334.3 400.60,335.5 400.90,334.3 401.20,335.8 401.50,335.3 401.80,335.8 402.10,334.9 402.40,333.8 402.70,308.0 403.00,334.9 403.30,336.2 403.60,335.4 403.90,335.6 404.20,336.6 404.50,335.3 404.80,336.2 405.10,333.7 405.40,335.7 405.70,334.8 406.00,334.9 406.30,335.0 406.60,335.3 406.90,336.4 407.20,333.4 407.50,335.0 407.80,334.4 408.10,336.0 408.40,334.6 408.70,335.4 409.00,334.7 409.30,335.6 409.60,335.9 409.90,334.7 410.20,335.0 410.50,333.8 410.80,335.3 411.10,335.7 411.40,334.5 411.70,336.0 412.00,333.2 412.30,333.4 412.60,333.8 412.90,334.6 413.20,335.0 413.50,334.9 413.80,334.9 414.10,335.6 414.40,334.6 414.70,333.9 415.00,333.9 415.30,336.8 415.60,333.0 415.90,334.9 416.20,336.2 416.50,335.4 416.80,334.3 417.10,335.0 417.40,335.7 417.70,336.0 418.00,334.2 418.30,335.6 418.60,335.2 418.90,335.9 419.20,336.2 419.50,334.7 419.80,333.8 420.10,335.3 420.40,336.5 420.70,335.6 421.00,335.2 421.30,337.0 421.60,334.1 421.90,335.8 422.20,334.5 422.50,335.0 422.80,313.0 423.10,336.3 423.40,334.2 423.70,334.5 424.00,333.6 424.30,310.0 424.60,334.6 424.90,335.4 425.20,334.1 425.50,306.0 425.80,335.9 426.10,334.9 426.40,335.5 426.70,335.4 427.00,334.7 427.30,333.7 427.60,335.8 427.90,335.1 428.20,335.8 428.50,333.3 428.80,333.6 429.10,333.2 429.40,326.3 429.70,335.9 430.00,335.5 430.30,335.0 430.60,335.1 430.90,335.6 431.20,334.7 431.50,335.3 431.80,335.1 432.10,333.1 432.40,334.7 432.70,336.2 433.00,334.7 433.30,334.9 433.60,334.5 433.90,334.6 434.20,336.0 434.50,334.8 434.80,334.1 435.10,332.4 435.40,334.5 435.70,333.3 436.00,333.4 436.30,335.7 436.60,335.6 436.90,333.4 437.20,335.7 437.50,323.0 437.80,334.3 438.10,335.6 438.40,333.6 438.70,334.0 439.00,333.8 439.30,334.1 439.60,335.7 439.90,333.9 440.20,334.0 440.50,334.2 440.80,335.2 441.10,334.7 441.40,308.0 441.70,334.4 442.00,333.9 442.30,334.6 442.60,335.0 442.90,334.2 443.20,335.2 443.50,336.5 443.80,334.5 444.10,335.0 444.40,336.1 444.70,334.4 445.00,334.3 445.30,334.1 445.60,328.0 445.90,335.4 446.20,334.9 446.50,335.0 446.80,336.1 447.10,335.7 447.40,333.8 447.70,335.0 448.00,335.1 448.30,335.6 448.60,334.8 448.90,334.4 449.20,334.6 449.50,333.5 449.80,335.0 450.10,334.5 450.40,335.4 450.70,334.1 451.00,334.6 451.30,334.1 451.60,334.1 451.90,335.6 452.20,334.6 452.50,335.3 452.80,334.0 453.10,335.1 453.40,333.5 453.70,334.6 454.00,334.5 454.30,335.5 454.60,335.1 454.90,334.8 455.20,335.7 455.50,335.1 455.80,335.4 456.10,335.6 456.40,334.9 456.70,334.7 457.00,335.2 457.30,334.6 457.60,335.3 457.90,335.9 458.20,335.7 458.50,334.6 458.80,333.9 459.10,334.9 459.40,334.9 459.70,335.9 460.00,329.0 460.30,334.8 460.60,335.6 460.90,334.6 461.20,334.8 461.50,336.4 461.80,336.2 462.10,335.5 462.40,335.2 462.70,334.1 463.00,335.4 463.30,335.0 463.60,335.1 463.90,334.5 464.20,334.9 464.50,334.8 464.80,335.2 465.10,336.2 465.40,335.3 465.70,333.6 466.00,334.1 466.30,333.6 466.60,334.3 466.90,335.4 467.20,335.3 467.50,334.5 467.80,335.2 468.10,334.3 468.40,333.8 468.70,333.8 469.00,334.2 469.30,336.2 469.60,333.8 469.90,336.0 470.20,336.1 470.50,334.8 470.80,334.9 471.10,334.4 471.40,334.9 471.70,335.5 472.00,335.0 472.30,335.8 472.60,336.0 472.90,335.2 473.20,335.2 473.50,334.9 473.80,335.3 474.10,334.0 474.40,335.3 474.70,335.1 475.00,334.2 475.30,336.8 475.60,334.1 475.90,308.0 476.20,335.2 476.50,333.3 476.80,334.3 477.10,333.7 477.40,334.1 477.70,334.8 478.00,335.2 478.30,335.9 478.60,335.6 478.90,336.0 479.20,335.5 479.50,334.6 479.80,335.9 480.10,334.5 480.40,334.4 480.70,336.3 481.00,335.6 481.30,335.1 481.60,335.6 481.90,335.7 482.20,333.8 482.50,334.9 482.80,334.0 483.10,335.1 483.40,334.4 483.70,336.1 484.00,335.4 484.30,334.3 484.60,334.9 484.90,333.9 485.20,335.0 485.50,335.4 485.80,335.2 486.10,333.3 486.40,334.7 486.70,335.4 487.00,335.2 487.30,307.0 487.60,333.9 487.90,335.4 488.20,312.0 488.50,335.1 488.80,335.3 489.10,335.5 489.40,334.5 489.70,335.1 490.00,334.0 490.30,333.8 490.60,335.4 490.90,334.9 491.20,333.6 491.50,334.2 491.80,335.0 492.10,336.3 492.40,335.8 492.70,335.6 493.00,319.6 493.30,334.9 493.60,335.4 493.90,335.3 494.20,335.3" fill="none" stroke="#555" stroke-width="0.9" stroke-linejoin="round"/>
<polyline points="275.20,334.3 275.50,334.0 275.80,336.0 276.10,334.2 276.40,335.9 276.70,335.2 277.00,335.7 277.30,336.5 277.60,335.6 277.90,335.7 278.20,334.2 278.50,334.4 278.80,335.5 279.10,336.3 279.40,336.2 279.70,337.0 280.00,335.3 280.30,335.2 280.60,335.9 280.90,335.0 281.20,334.9 281.50,334.1 281.80,335.8 282.10,334.1 282.40,335.4 282.70,333.8 283.00,335.9 283.30,334.1 283.60,335.7 283.90,333.6 284.20,334.6 284.50,336.0 284.80,334.3 285.10,335.1 285.40,334.6 285.70,333.0 286.00,335.3 286.30,335.4 286.60,334.1 286.90,335.5 287.20,334.3 287.50,334.1 287.80,335.0 288.10,334.4 288.40,336.9 288.70,333.7 289.00,335.6 289.30,335.8 289.60,333.3 289.90,333.5 290.20,335.5 290.50,334.6 290.80,335.3 291.10,336.0 291.40,334.7 291.70,334.1 292.00,332.7 292.30,335.2 292.60,334.2 292.90,335.3 293.20,335.2 293.50,333.8 293.80,336.5 294.10,335.9 294.40,335.7 294.70,334.0 295.00,334.7 295.30,334.5 295.60,334.6 295.90,334.0 296.20,335.4 296.50,335.2 296.80,335.3 297.10,334.6 297.40,336.1 297.70,335.2 298.00,332.7 298.30,334.5 298.60,335.0 298.90,335.8 299.20,334.7 299.50,334.8 299.80,334.4 300.10,335.6 300.40,334.6 300.70,334.5 301.00,334.4 301.30,335.5 301.60,334.5 301.90,333.6 302.20,335.5 302.50,334.4 302.80,335.3 303.10,335.3 303.40,336.0 303.70,335.9 304.00,334.5 304.30,334.9 304.60,333.9 304.90,336.4 305.20,335.4 305.50,336.2 305.80,334.7 306.10,333.3 306.40,336.3 306.70,335.1 307.00,335.1 307.30,335.0 307.60,335.5 307.90,335.5 308.20,333.6 308.50,335.9 308.80,334.6 309.10,334.6 309.40,336.5 309.70,335.8 310.00,334.7 310.30,333.4 310.60,335.1 310.90,335.5 311.20,334.9 311.50,333.9 311.80,334.3 312.10,333.9 312.40,335.2 312.70,335.7 313.00,335.9 313.30,334.4 313.60,335.2 313.90,335.5 314.20,334.6 314.50,334.9 314.80,336.8 315.10,335.2 315.40,335.8 315.70,334.6 316.00,335.0 316.30,333.5 316.60,335.0 316.90,336.0 317.20,336.8 317.50,336.0 317.80,335.6 318.10,335.0 318.40,334.5 318.70,334.9 319.00,335.5 319.30,334.3 319.60,335.8 319.90,334.2 320.20,333.5 320.50,334.1 320.80,333.6 321.10,333.8 321.40,336.0 321.70,334.8 322.00,335.2 322.30,336.0 322.60,336.1 322.90,334.6 323.20,336.1 323.50,335.3 323.80,335.0 324.10,335.4 324.40,333.8 324.70,334.3 325.00,334.9 325.30,335.5 325.60,334.7 325.90,334.9 326.20,335.8 326.50,336.2 326.80,335.7 327.10,336.1 327.40,334.7 327.70,334.7 328.00,335.3 328.30,334.7 328.60,334.6 328.90,336.4 329.20,334.8 329.50,334.2 329.80,335.4 330.10,336.6 330.40,335.1 330.70,336.0 331.00,334.6 331.30,334.6 331.60,334.4 331.90,334.9 332.20,336.6 332.50,334.0 332.80,336.4 333.10,334.1 333.40,334.8 333.70,335.7 334.00,335.5 334.30,335.2 334.60,333.6 334.90,335.3 335.20,334.1 335.50,337.2 335.80,334.8 336.10,335.2 336.40,334.0 336.70,334.6 337.00,333.9 337.30,335.8 337.60,334.8 337.90,335.5 338.20,334.4 338.50,334.6 338.80,336.1 339.10,334.2 339.40,333.5 339.70,335.3 340.00,334.0 340.30,334.6 340.60,335.8 340.90,334.3 341.20,335.7 341.50,334.4 341.80,336.3 342.10,336.1 342.40,334.6 342.70,334.8 343.00,334.3 343.30,335.2 343.60,336.0 343.90,333.8 344.20,335.8 344.50,333.9 344.80,334.3 345.10,333.5 345.40,336.8 345.70,335.0 346.00,335.2 346.30,334.4 346.60,335.9 346.90,333.2 347.20,335.0 347.50,336.9 347.80,334.7 348.10,335.0 348.40,335.6 348.70,334.3 349.00,335.0 349.30,335.8 349.60,335.2 349.90,335.3 350.20,334.7 350.50,335.3 350.80,335.0 351.10,336.2 351.40,335.6 351.70,334.8 352.00,332.9 352.30,335.6 352.60,335.6 352.90,334.2 353.20,333.3 353.50,334.0 353.80,335.8 354.10,334.1 354.40,334.6 354.70,335.2 355.00,336.0 355.30,335.0 355.60,334.9 355.90,334.5 356.20,336.4 356.50,335.9 356.80,334.9 357.10,333.8 357.40,334.3 357.70,335.5 358.00,334.4 358.30,335.8 358.60,335.3 358.90,335.2 359.20,335.6 359.50,335.4 359.80,334.3 360.10,334.7 360.40,337.0 360.70,334.0 361.00,334.6 361.30,335.9 361.60,334.9 361.90,334.3 362.20,333.9 362.50,335.5 362.80,335.9 363.10,336.2 363.40,335.0 363.70,335.9 364.00,334.1 364.30,335.1 364.60,334.4 364.90,335.1 365.20,335.6 365.50,335.9 365.80,334.2 366.10,336.1 366.40,334.6 366.70,334.1 367.00,334.9 367.30,333.8 367.60,335.0 367.90,335.2 368.20,334.8 368.50,335.5 368.80,334.7 369.10,335.0 369.40,333.8 369.70,335.0 370.00,334.3 370.30,334.6 370.60,334.9 370.90,335.2 371.20,333.6 371.50,333.7 371.80,334.7 372.10,335.4 372.40,335.3 372.70,335.8 373.00,336.1 373.30,335.4 373.60,335.0 373.90,334.1 374.20,334.2 374.50,334.6 374.80,335.2 375.10,335.2 375.40,335.0 375.70,334.9 376.00,335.5 376.30,335.2 376.60,335.3 376.90,335.3 377.20,334.5 377.50,334.1 377.80,335.4 378.10,335.4 378.40,334.8 378.70,334.6 379.00,336.9 379.30,334.4 379.60,334.8 379.90,335.2 380.20,334.0 380.50,335.1 380.80,336.5 381.10,335.8 381.40,335.5 381.70,335.5 382.00,335.1 382.30,335.8 382.60,334.9 382.90,334.6 383.20,335.1 383.50,335.8 383.80,335.3 384.10,335.6 384.40,333.3 384.70,336.0 385.00,337.0 385.30,336.1 385.60,334.7 385.90,334.3 386.20,335.2 386.50,334.2 386.80,335.6 387.10,334.6 387.40,335.8 387.70,336.2 388.00,333.3 388.30,335.2 388.60,334.4 388.90,333.8 389.20,334.5 389.50,334.8 389.80,335.9 390.10,333.7 390.40,335.9 390.70,336.7 391.00,335.5 391.30,335.5 391.60,335.0 391.90,334.0 392.20,335.5 392.50,335.3 392.80,335.6 393.10,337.2 393.40,335.6 393.70,335.4 394.00,336.3 394.30,333.9 394.60,334.0 394.90,334.7 395.20,334.4 395.50,335.6 395.80,334.7 396.10,336.5 396.40,336.3 396.70,335.7 397.00,334.7 397.30,335.5 397.60,335.7 397.90,334.1 398.20,335.3 398.50,335.6 398.80,335.2 399.10,336.3 399.40,336.0 399.70,334.3 400.00,335.1 400.30,334.3 400.60,335.5 400.90,334.3 401.20,335.8 401.50,335.3 401.80,335.8 402.10,334.9 402.40,333.8 402.70,336.5 403.00,334.9 403.30,336.2 403.60,335.4 403.90,335.6 404.20,336.6 404.50,335.3 404.80,336.2 405.10,333.7 405.40,335.7 405.70,334.8 406.00,334.9 406.30,335.0 406.60,335.3 406.90,336.4 407.20,333.4 407.50,335.0 407.80,334.4 408.10,336.0 408.40,334.6 408.70,335.4 409.00,334.7 409.30,335.6 409.60,335.9 409.90,334.7 410.20,335.0 410.50,333.8 410.80,335.3 411.10,335.7 411.40,334.5 411.70,336.0 412.00,333.2 412.30,333.4 412.60,333.8 412.90,334.6 413.20,335.0 413.50,334.9 413.80,334.9 414.10,335.6 414.40,334.6 414.70,333.9 415.00,333.9 415.30,336.8 415.60,333.0 415.90,334.9 416.20,336.2 416.50,335.4 416.80,334.3 417.10,335.0 417.40,335.7 417.70,336.0 418.00,334.2 418.30,335.6 418.60,335.2 418.90,335.9 419.20,336.2 419.50,334.7 419.80,333.8 420.10,335.3 420.40,336.5 420.70,335.6 421.00,335.2 421.30,337.0 421.60,334.1 421.90,335.8 422.20,334.5 422.50,335.0 422.80,335.1 423.10,336.3 423.40,334.2 423.70,334.5 424.00,333.6 424.30,335.4 424.60,334.6 424.90,335.4 425.20,334.1 425.50,334.7 425.80,335.9 426.10,334.9 426.40,335.5 426.70,335.4 427.00,334.7 427.30,333.7 427.60,335.8 427.90,335.1 428.20,335.8 428.50,333.3 428.80,333.6 429.10,333.2 429.40,334.3 429.70,335.9 430.00,335.5 430.30,335.0 430.60,335.1 430.90,335.6 431.20,334.7 431.50,335.3 431.80,335.1 432.10,333.1 432.40,334.7 432.70,336.2 433.00,334.7 433.30,334.9 433.60,334.5 433.90,334.6 434.20,336.0 434.50,334.8 434.80,334.1 435.10,332.4 435.40,334.5 435.70,333.3 436.00,333.4 436.30,335.7 436.60,335.6 436.90,333.4 437.20,335.7 437.50,335.4 437.80,334.3 438.10,335.6 438.40,333.6 438.70,334.0 439.00,333.8 439.30,334.1 439.60,335.7 439.90,333.9 440.20,334.0 440.50,334.2 440.80,335.2 441.10,334.7 441.40,335.7 441.70,334.4 442.00,333.9 442.30,334.6 442.60,335.0 442.90,334.2 443.20,335.2 443.50,336.5 443.80,334.5 444.10,335.0 444.40,336.1 444.70,334.4 445.00,334.3 445.30,334.1 445.60,335.3 445.90,335.4 446.20,334.9 446.50,335.0 446.80,336.1 447.10,335.7 447.40,333.8 447.70,335.0 448.00,335.1 448.30,335.6 448.60,334.8 448.90,334.4 449.20,334.6 449.50,333.5 449.80,335.0 450.10,334.5 450.40,335.4 450.70,334.1 451.00,334.6 451.30,334.1 451.60,334.1 451.90,335.6 452.20,334.6 452.50,335.3 452.80,334.0 453.10,335.1 453.40,333.5 453.70,334.6 454.00,334.5 454.30,335.5 454.60,335.1 454.90,334.8 455.20,335.7 455.50,335.1 455.80,335.4 456.10,335.6 456.40,334.9 456.70,334.7 457.00,335.2 457.30,334.6 457.60,335.3 457.90,335.9 458.20,335.7 458.50,334.6 458.80,333.9 459.10,334.9 459.40,334.9 459.70,335.9 460.00,334.6 460.30,334.8 460.60,335.6 460.90,334.6 461.20,334.8 461.50,336.4 461.80,336.2 462.10,335.5 462.40,335.2 462.70,334.1 463.00,335.4 463.30,335.0 463.60,335.1 463.90,334.5 464.20,334.9 464.50,334.8 464.80,335.2 465.10,336.2 465.40,335.3 465.70,333.6 466.00,334.1 466.30,333.6 466.60,334.3 466.90,335.4 467.20,335.3 467.50,334.5 467.80,335.2 468.10,334.3 468.40,333.8 468.70,333.8 469.00,334.2 469.30,336.2 469.60,333.8 469.90,336.0 470.20,336.1 470.50,334.8 470.80,334.9 471.10,334.4 471.40,334.9 471.70,335.5 472.00,335.0 472.30,335.8 472.60,336.0 472.90,335.2 473.20,335.2 473.50,334.9 473.80,335.3 474.10,334.0 474.40,335.3 474.70,335.1 475.00,334.2 475.30,336.8 475.60,334.1 475.90,334.2 476.20,335.2 476.50,333.3 476.80,334.3 477.10,333.7 477.40,334.1 477.70,334.8 478.00,335.2 478.30,335.9 478.60,335.6 478.90,336.0 479.20,335.5 479.50,334.6 479.80,335.9 480.10,334.5 480.40,334.4 480.70,336.3 481.00,335.6 481.30,335.1 481.60,335.6 481.90,335.7 482.20,333.8 482.50,334.9 482.80,334.0 483.10,335.1 483.40,334.4 483.70,336.1 484.00,335.4 484.30,334.3 484.60,334.9 484.90,333.9 485.20,335.0 485.50,335.4 485.80,335.2 486.10,333.3 486.40,334.7 486.70,335.4 487.00,335.2 487.30,335.9 487.60,333.9 487.90,335.4 488.20,334.4 488.50,335.1 488.80,335.3 489.10,335.5 489.40,334.5 489.70,335.1 490.00,334.0 490.30,333.8 490.60,335.4 490.90,334.9 491.20,333.6 491.50,334.2 491.80,335.0 492.10,336.3 492.40,335.8 492.70,335.6 493.00,333.4 493.30,334.9 493.60,335.4 493.90,335.3 494.20,335.3" fill="none" stroke="#111" stroke-width="1.7" stroke-linejoin="round"/>
<line x1="481.10" y1="353.10" x2="481.10" y2="382.30" stroke="#000" stroke-width="1.3"/>
<line x1="456.60" y1="382.30" x2="505.80" y2="382.30" stroke="#000" stroke-width="1.3"/>
<text x="484.70" y="373.10" font-size="14" fill="#000" stroke="#000">25 pA</text>
<text x="462.72" y="396.90" font-size="13.5" fill="#000" stroke="#000">20 ms</text>
<text x="200.31" y="373.00" font-size="23.6" font-weight="bold" fill="#000" stroke="#000">+100 mV</text>
<text x="51.56" y="400.60" font-size="24.3" fill="#000" stroke="#000">P</text>
<text x="67.86" y="406.00" font-size="14.8" stroke="#000">o</text>
<text x="84.90" y="400.60" font-size="24.3" stroke="#000">= 0.0222</text>
<text x="291.96" y="399.40" font-size="24.3" fill="#000" stroke="#000">P</text>
<text x="308.26" y="404.80" font-size="14.8" stroke="#000">o</text>
<text x="325.30" y="399.40" font-size="24.3" stroke="#000">= 0.00370</text>
<text x="8.85" y="413.70" font-size="14.5" fill="#000" stroke="#000">O</text>
<text x="20.03" y="418.90" font-size="8.5" stroke="#000">4</text>
<text x="9.45" y="451.50" font-size="14.5" fill="#000" stroke="#000">O</text>
<text x="20.63" y="456.70" font-size="8.5" stroke="#000">3</text>
<text x="8.75" y="485.90" font-size="14.5" fill="#000" stroke="#000">O</text>
<text x="19.93" y="491.10" font-size="8.5" stroke="#000">2</text>
<text x="9.05" y="519.50" font-size="14.5" fill="#000" stroke="#000">O</text>
<text x="20.23" y="524.70" font-size="8.5" stroke="#000">1</text>
<text x="11.38" y="553.80" font-size="14.5" fill="#000" stroke="#000">C</text>
<line x1="26.50" y1="409.60" x2="243.80" y2="409.60" stroke="#222" stroke-width="1.3" stroke-dasharray="2.3 3.7"/>
<line x1="26.50" y1="443.90" x2="243.80" y2="443.90" stroke="#222" stroke-width="1.3" stroke-dasharray="2.3 3.7"/>
<line x1="26.50" y1="479.90" x2="243.80" y2="479.90" stroke="#222" stroke-width="1.3" stroke-dasharray="2.3 3.7"/>
<line x1="26.50" y1="513.40" x2="243.80" y2="513.40" stroke="#222" stroke-width="1.3" stroke-dasharray="2.3 3.7"/>
<line x1="26.50" y1="548.50" x2="243.80" y2="548.50" stroke="#222" stroke-width="1.3" stroke-dasharray="2.3 3.7"/>
<polyline points="26.20,549.7 26.50,551.5 26.80,551.3 27.10,549.9 27.40,549.1 27.70,551.8 28.00,549.5 28.30,551.0 28.60,551.7 28.90,549.1 29.20,550.2 29.50,549.6 29.80,550.4 30.10,550.2 30.40,551.7 30.70,550.5 31.00,549.9 31.30,551.0 31.60,549.7 31.90,549.6 32.20,552.0 32.50,549.2 32.80,549.5 33.10,550.0 33.40,549.0 33.70,548.0 34.00,550.9 34.30,549.2 34.60,549.5 34.90,549.6 35.20,549.1 35.50,549.0 35.80,550.1 36.10,515.4 36.40,512.8 36.70,512.9 37.00,509.4 37.30,511.7 37.60,509.9 37.90,512.9 38.20,511.4 38.50,511.8 38.80,511.6 39.10,510.8 39.40,509.4 39.70,512.6 40.00,509.6 40.30,509.9 40.60,511.3 40.90,510.6 41.20,512.1 41.50,477.0 41.80,512.1 42.10,512.0 42.40,511.7 42.70,513.0 43.00,508.9 43.30,512.3 43.60,510.3 43.90,535.0 44.20,511.7 44.50,511.1 44.80,512.6 45.10,513.4 45.40,508.2 45.70,511.6 46.00,514.7 46.30,513.0 46.60,530.0 46.90,511.9 47.20,509.5 47.50,510.0 47.80,512.8 48.10,513.2 48.40,510.6 48.70,511.3 49.00,536.0 49.30,509.0 49.60,511.2 49.90,514.2 50.20,515.1 50.50,511.5 50.80,514.5 51.10,533.0 51.40,510.5 51.70,508.3 52.00,513.2 52.30,511.1 52.60,515.3 52.90,512.2 53.20,530.2 53.50,527.1 53.80,532.2 54.10,529.4 54.40,529.7 54.70,526.5 55.00,550.8 55.30,550.8 55.60,549.4 55.90,550.0 56.20,550.3 56.50,550.8 56.80,550.0 57.10,551.5 57.40,549.7 57.70,549.4 58.00,549.5 58.30,547.7 58.60,549.2 58.90,550.9 59.20,550.2 59.50,549.2 59.80,550.3 60.10,548.1 60.40,549.7 60.70,550.4 61.00,550.6 61.30,549.3 61.60,550.8 61.90,551.6 62.20,549.6 62.50,550.6 62.80,548.5 63.10,548.2 63.40,550.5 63.70,550.0 64.00,550.1 64.30,549.4 64.60,549.7 64.90,550.7 65.20,551.5 65.50,549.8 65.80,509.2 66.10,513.7 66.40,512.6 66.70,512.8 67.00,512.0 67.30,515.3 67.60,511.8 67.90,512.5 68.20,508.9 68.50,510.8 68.80,510.7 69.10,511.7 69.40,512.3 69.70,510.6 70.00,514.4 70.30,510.1 70.60,539.0 70.90,512.1 71.20,509.8 71.50,512.6 71.80,512.7 72.10,475.5 72.40,439.0 72.70,476.0 73.00,476.4 73.30,474.5 73.60,473.4 73.90,475.0 74.20,475.4 74.50,475.2 74.80,477.1 75.10,472.3 75.40,474.2 75.70,473.1 76.00,478.0 76.30,475.1 76.60,475.1 76.90,474.2 77.20,477.3 77.50,475.3 77.80,476.3 78.10,472.8 78.40,477.7 78.70,512.3 79.00,512.6 79.30,513.6 79.60,511.4 79.90,511.5 80.20,512.8 80.50,512.4 80.80,511.3 81.10,511.8 81.40,511.0 81.70,512.8 82.00,513.2 82.30,511.7 82.60,514.6 82.90,509.4 83.20,511.4 83.50,514.3 83.80,511.1 84.10,509.3 84.40,527.0 84.70,512.6 85.00,509.9 85.30,512.9 85.60,510.2 85.90,509.7 86.20,511.5 86.50,511.0 86.80,510.0 87.10,511.2 87.40,510.2 87.70,511.8 88.00,511.7 88.30,512.9 88.60,511.0 88.90,509.7 89.20,509.7 89.50,511.4 89.80,514.1 90.10,513.0 90.40,510.7 90.70,513.2 91.00,536.0 91.30,513.3 91.60,511.1 91.90,512.9 92.20,512.7 92.50,511.3 92.80,512.2 93.10,510.1 93.40,511.6 93.70,513.4 94.00,518.0 94.30,512.8 94.60,511.9 94.90,528.0 95.20,513.4 95.50,509.2 95.80,510.5 96.10,512.3 96.40,509.9 96.70,514.1 97.00,513.4 97.30,510.9 97.60,510.9 97.90,540.0 98.20,509.6 98.50,512.4 98.80,512.7 99.10,512.3 99.40,545.0 99.70,510.9 100.00,512.3 100.30,509.5 100.60,511.7 100.90,514.0 101.20,513.8 101.50,511.0 101.80,511.2 102.10,513.8 102.40,514.5 102.70,509.4 103.00,541.0 103.30,512.1 103.60,513.6 103.90,510.4 104.20,512.7 104.50,511.3 104.80,515.4 105.10,475.0 105.40,511.5 105.70,511.2 106.00,513.4 106.30,512.8 106.60,510.1 106.90,512.1 107.20,509.7 107.50,510.6 107.80,509.7 108.10,545.0 108.40,510.7 108.70,510.2 109.00,512.5 109.30,513.0 109.60,511.4 109.90,540.0 110.20,513.0 110.50,508.6 110.80,508.8 111.10,512.8 111.40,512.7 111.70,513.2 112.00,511.4 112.30,509.8 112.60,510.9 112.90,532.0 113.20,510.6 113.50,510.7 113.80,509.6 114.10,509.9 114.40,513.0 114.70,512.4 115.00,509.9 115.30,510.1 115.60,510.9 115.90,512.6 116.20,509.9 116.50,511.5 116.80,508.4 117.10,509.8 117.40,512.4 117.70,550.8 118.00,548.9 118.30,549.3 118.60,550.7 118.90,549.6 119.20,549.5 119.50,550.4 119.80,550.1 120.10,551.0 120.40,550.7 120.70,549.4 121.00,549.9 121.30,549.9 121.60,548.7 121.90,549.1 122.20,550.8 122.50,548.5 122.80,550.9 123.10,550.2 123.40,549.8 123.70,550.4 124.00,550.4 124.30,551.1 124.60,549.6 124.90,549.8 125.20,511.4 125.50,514.6 125.80,513.2 126.10,510.3 126.40,511.2 126.70,510.7 127.00,511.8 127.30,512.1 127.60,534.0 127.90,508.9 128.20,513.3 128.50,512.4 128.80,510.7 129.10,511.5 129.40,511.0 129.70,511.8 130.00,513.3 130.30,509.4 130.60,513.8 130.90,511.2 131.20,481.2 131.50,468.0 131.80,480.8 132.10,479.8 132.40,480.6 132.70,479.0 133.00,510.0 133.30,480.0 133.60,480.0 133.90,482.2 134.20,475.9 134.50,478.6 134.80,480.6 135.10,477.0 135.40,500.0 135.70,482.2 136.00,481.1 136.30,477.6 136.60,481.1 136.90,515.0 137.20,480.1 137.50,479.5 137.80,479.3 138.10,477.6 138.40,478.2 138.70,405.7 139.00,479.2 139.30,481.8 139.60,443.3 139.90,440.2 140.20,443.3 140.50,444.3 140.80,479.5 141.10,505.0 141.40,477.7 141.70,481.2 142.00,477.9 142.30,480.0 142.60,478.5 142.90,477.1 143.20,481.1 143.50,475.1 143.80,477.7 144.10,505.0 144.40,478.4 144.70,480.1 145.00,470.0 145.30,478.3 145.60,482.3 145.90,478.6 146.20,478.7 146.50,477.3 146.80,477.8 147.10,480.0 147.40,479.8 147.70,479.0 148.00,510.7 148.30,512.8 148.60,509.2 148.90,511.2 149.20,511.4 149.50,510.5 149.80,512.0 150.10,510.7 150.40,510.5 150.70,514.5 151.00,512.9 151.30,513.6 151.60,511.9 151.90,513.3 152.20,513.0 152.50,513.6 152.80,515.4 153.10,511.4 153.40,544.0 153.70,511.7 154.00,506.4 154.30,509.6 154.60,511.8 154.90,512.8 155.20,510.9 155.50,513.5 155.80,513.8 156.10,511.2 156.40,514.0 156.70,514.5 157.00,525.0 157.30,510.3 157.60,514.0 157.90,511.5 158.20,511.2 158.50,512.0 158.80,511.0 159.10,513.4 159.40,513.0 159.70,513.7 160.00,512.7 160.30,510.6 160.60,511.6 160.90,536.0 161.20,511.2 161.50,516.3 161.80,511.4 162.10,510.9 162.40,513.6 162.70,512.9 163.00,540.0 163.30,511.4 163.60,512.5 163.90,513.1 164.20,513.0 164.50,511.3 164.80,512.5 165.10,513.1 165.40,513.0 165.70,507.1 166.00,530.0 166.30,510.6 166.60,511.4 166.90,512.1 167.20,513.2 167.50,512.7 167.80,511.6 168.10,537.0 168.40,514.5 168.70,510.9 169.00,512.3 169.30,514.2 169.60,512.3 169.90,480.0 170.20,512.4 170.50,511.2 170.80,511.6 171.10,513.4 171.40,512.5 171.70,511.4 172.00,550.8 172.30,550.4 172.60,550.1 172.90,550.3 173.20,550.2 173.50,549.7 173.80,549.6 174.10,550.0 174.40,549.1 174.70,548.9 175.00,551.2 175.30,549.8 175.60,550.0 175.90,549.9 176.20,550.0 176.50,550.0 176.80,550.1 177.10,549.3 177.40,550.8 177.70,549.4 178.00,550.9 178.30,548.3 178.60,549.0 178.90,550.9 179.20,549.9 179.50,549.4 179.80,550.3 180.10,549.1 180.40,550.1 180.70,548.0 181.00,549.6 181.30,549.4 181.60,550.5 181.90,550.8 182.20,549.2 182.50,551.4 182.80,549.5 183.10,548.1 183.40,547.9 183.70,551.4 184.00,549.9 184.30,549.4 184.60,549.3 184.90,549.0 185.20,551.2 185.50,549.9 185.80,551.6 186.10,549.8 186.40,547.9 186.70,550.8 187.00,549.7 187.30,549.8 187.60,551.4 187.90,549.8 188.20,551.0 188.50,550.0 188.80,549.3 189.10,550.5 189.40,549.5 189.70,551.1 190.00,550.9 190.30,550.1 190.60,550.5 190.90,550.5 191.20,549.8 191.50,550.8 191.80,549.8 192.10,550.6 192.40,549.1 192.70,550.1 193.00,550.4 193.30,549.3 193.60,549.6 193.90,549.5 194.20,550.7 194.50,549.4 194.80,550.4 195.10,551.4 195.40,550.3 195.70,548.6 196.00,550.1 196.30,550.9 196.60,549.7 196.90,551.0 197.20,550.6 197.50,550.4 197.80,549.8 198.10,549.5 198.40,549.8 198.70,550.1 199.00,550.5 199.30,550.4 199.60,549.7 199.90,550.1 200.20,550.4 200.50,548.5 200.80,549.3 201.10,549.3 201.40,549.8 201.70,549.8 202.00,549.8 202.30,549.2 202.60,550.6 202.90,550.3 203.20,548.5 203.50,550.0 203.80,510.1 204.10,514.4 204.40,511.1 204.70,511.2 205.00,512.0 205.30,511.5 205.60,511.7 205.90,514.2 206.20,478.4 206.50,479.3 206.80,479.8 207.10,476.5 207.40,480.6 207.70,479.1 208.00,479.5 208.30,476.7 208.60,479.3 208.90,495.0 209.20,477.2 209.50,481.5 209.80,478.9 210.10,477.7 210.40,478.3 210.70,479.4 211.00,492.0 211.30,478.9 211.60,479.9 211.90,480.3 212.20,476.1 212.50,477.3 212.80,476.6 213.10,478.2 213.40,480.2 213.70,479.0 214.00,476.4 214.30,477.6 214.60,479.6 214.90,477.2 215.20,477.9 215.50,512.3 215.80,509.0 216.10,513.0 216.40,512.4 216.70,512.7 217.00,545.0 217.30,510.7 217.60,510.9 217.90,512.2 218.20,511.9 218.50,512.0 218.80,514.6 219.10,513.8 219.40,510.7 219.70,510.8 220.00,514.5 220.30,511.3 220.60,513.9 220.90,514.3 221.20,511.0 221.50,511.4 221.80,512.0 222.10,510.5 222.40,510.3 222.70,511.2 223.00,513.1 223.30,511.1 223.60,511.5 223.90,511.1 224.20,509.7 224.50,514.1 224.80,508.2 225.10,510.8 225.40,512.7 225.70,509.7 226.00,512.8 226.30,513.7 226.60,510.5 226.90,512.1 227.20,510.1 227.50,543.0 227.80,512.0 228.10,512.2 228.40,513.9 228.70,512.6 229.00,513.9 229.30,512.8 229.60,540.0 229.90,512.2 230.20,512.6 230.50,509.6 230.80,513.9 231.10,511.9 231.40,480.0 231.70,510.5 232.00,511.9 232.30,512.3 232.60,511.3 232.90,540.0 233.20,508.6 233.50,513.9 233.80,510.1 234.10,515.7 234.40,517.6 234.70,517.8 235.00,519.9 235.30,517.6 235.60,519.5 235.90,517.6 236.20,522.4 236.50,519.9 236.80,522.0 237.10,501.0 237.40,520.0 237.70,517.6 238.00,519.9 238.30,520.1 238.60,516.6 238.90,517.3 239.20,510.0 239.50,509.5 239.80,510.7 240.10,510.4 240.40,509.6 240.70,512.0 241.00,512.7 241.30,509.8 241.60,549.5 241.90,550.0 242.20,549.8 242.50,549.4 242.80,550.7 243.10,550.8 243.40,550.6 243.70,549.8 244.00,551.8 244.30,551.6" fill="none" stroke="#555" stroke-width="0.9" stroke-linejoin="round"/>
<polyline points="26.20,549.7 26.50,551.5 26.80,551.3 27.10,549.9 27.40,549.1 27.70,551.8 28.00,549.5 28.30,551.0 28.60,551.7 28.90,549.1 29.20,550.2 29.50,549.6 29.80,550.4 30.10,550.2 30.40,551.7 30.70,550.5 31.00,549.9 31.30,551.0 31.60,549.7 31.90,549.6 32.20,552.0 32.50,549.2 32.80,549.5 33.10,550.0 33.40,549.0 33.70,548.0 34.00,550.9 34.30,549.2 34.60,549.5 34.90,549.6 35.20,549.1 35.50,549.0 35.80,550.1" fill="none" stroke="#111" stroke-width="1.7" stroke-linejoin="round"/>
<polyline points="36.10,515.4 36.40,512.8 36.70,512.9 37.00,509.4 37.30,511.7 37.60,509.9 37.90,512.9 38.20,511.4 38.50,511.8 38.80,511.6 39.10,510.8 39.40,509.4 39.70,512.6 40.00,509.6 40.30,509.9 40.60,511.3 40.90,510.6 41.20,512.1 41.50,513.3 41.80,512.1 42.10,512.0 42.40,511.7 42.70,513.0 43.00,508.9 43.30,512.3 43.60,510.3 43.90,509.8 44.20,511.7 44.50,511.1 44.80,512.6 45.10,513.4 45.40,508.2 45.70,511.6 46.00,514.7 46.30,513.0 46.60,513.9 46.90,511.9 47.20,509.5 47.50,510.0 47.80,512.8 48.10,513.2 48.40,510.6 48.70,511.3 49.00,512.1 49.30,509.0 49.60,511.2 49.90,514.2 50.20,515.1 50.50,511.5 50.80,514.5 51.10,510.9 51.40,510.5 51.70,508.3 52.00,513.2 52.30,511.1 52.60,515.3 52.90,512.2" fill="none" stroke="#111" stroke-width="1.0" stroke-linejoin="round"/>
<polyline points="53.20,530.2 53.50,527.1 53.80,532.2 54.10,529.4 54.40,529.7 54.70,526.5" fill="none" stroke="#111" stroke-width="1.0" stroke-linejoin="round"/>
<polyline points="55.00,550.8 55.30,550.8 55.60,549.4 55.90,550.0 56.20,550.3 56.50,550.8 56.80,550.0 57.10,551.5 57.40,549.7 57.70,549.4 58.00,549.5 58.30,547.7 58.60,549.2 58.90,550.9 59.20,550.2 59.50,549.2 59.80,550.3 60.10,548.1 60.40,549.7 60.70,550.4 61.00,550.6 61.30,549.3 61.60,550.8 61.90,551.6 62.20,549.6 62.50,550.6 62.80,548.5 63.10,548.2 63.40,550.5 63.70,550.0 64.00,550.1 64.30,549.4 64.60,549.7 64.90,550.7 65.20,551.5 65.50,549.8" fill="none" stroke="#111" stroke-width="1.7" stroke-linejoin="round"/>
<polyline points="65.80,509.2 66.10,513.7 66.40,512.6 66.70,512.8 67.00,512.0 67.30,515.3 67.60,511.8 67.90,512.5 68.20,508.9 68.50,510.8 68.80,510.7 69.10,511.7 69.40,512.3 69.70,510.6 70.00,514.4 70.30,510.1 70.60,511.0 70.90,512.1 71.20,509.8 71.50,512.6 71.80,512.7" fill="none" stroke="#111" stroke-width="1.0" stroke-linejoin="round"/>
<polyline points="72.10,475.5 72.40,478.8 72.70,476.0 73.00,476.4 73.30,474.5 73.60,473.4 73.90,475.0 74.20,475.4 74.50,475.2 74.80,477.1 75.10,472.3 75.40,474.2 75.70,473.1 76.00,478.0 76.30,475.1 76.60,475.1 76.90,474.2 77.20,477.3 77.50,475.3 77.80,476.3 78.10,472.8 78.40,477.7" fill="none" stroke="#111" stroke-width="1.0" stroke-linejoin="round"/>
<polyline points="78.70,512.3 79.00,512.6 79.30,513.6 79.60,511.4 79.90,511.5 80.20,512.8 80.50,512.4 80.80,511.3 81.10,511.8 81.40,511.0 81.70,512.8 82.00,513.2 82.30,511.7 82.60,514.6 82.90,509.4 83.20,511.4 83.50,514.3 83.80,511.1 84.10,509.3 84.40,513.9 84.70,512.6 85.00,509.9 85.30,512.9 85.60,510.2 85.90,509.7 86.20,511.5 86.50,511.0 86.80,510.0 87.10,511.2 87.40,510.2 87.70,511.8 88.00,511.7 88.30,512.9 88.60,511.0 88.90,509.7 89.20,509.7 89.50,511.4 89.80,514.1 90.10,513.0 90.40,510.7 90.70,513.2 91.00,509.9 91.30,513.3 91.60,511.1 91.90,512.9 92.20,512.7 92.50,511.3 92.80,512.2 93.10,510.1 93.40,511.6 93.70,513.4 94.00,518.0 94.30,512.8 94.60,511.9 94.90,510.2 95.20,513.4 95.50,509.2 95.80,510.5 96.10,512.3 96.40,509.9 96.70,514.1 97.00,513.4 97.30,510.9 97.60,510.9 97.90,509.7 98.20,509.6 98.50,512.4 98.80,512.7 99.10,512.3 99.40,512.1 99.70,510.9 100.00,512.3 100.30,509.5 100.60,511.7 100.90,514.0 101.20,513.8 101.50,511.0 101.80,511.2 102.10,513.8 102.40,514.5 102.70,509.4 103.00,511.1 103.30,512.1 103.60,513.6 103.90,510.4 104.20,512.7 104.50,511.3 104.80,515.4 105.10,512.4 105.40,511.5 105.70,511.2 106.00,513.4 106.30,512.8 106.60,510.1 106.90,512.1 107.20,509.7 107.50,510.6 107.80,509.7 108.10,509.7 108.40,510.7 108.70,510.2 109.00,512.5 109.30,513.0 109.60,511.4 109.90,510.0 110.20,513.0 110.50,508.6 110.80,508.8 111.10,512.8 111.40,512.7 111.70,513.2 112.00,511.4 112.30,509.8 112.60,510.9 112.90,512.6 113.20,510.6 113.50,510.7 113.80,509.6 114.10,509.9 114.40,513.0 114.70,512.4 115.00,509.9 115.30,510.1 115.60,510.9 115.90,512.6 116.20,509.9 116.50,511.5 116.80,508.4 117.10,509.8 117.40,512.4" fill="none" stroke="#111" stroke-width="1.0" stroke-linejoin="round"/>
<polyline points="117.70,550.8 118.00,548.9 118.30,549.3 118.60,550.7 118.90,549.6 119.20,549.5 119.50,550.4 119.80,550.1 120.10,551.0 120.40,550.7 120.70,549.4 121.00,549.9 121.30,549.9 121.60,548.7 121.90,549.1 122.20,550.8 122.50,548.5 122.80,550.9 123.10,550.2 123.40,549.8 123.70,550.4 124.00,550.4 124.30,551.1 124.60,549.6 124.90,549.8" fill="none" stroke="#111" stroke-width="1.7" stroke-linejoin="round"/>
<polyline points="125.20,511.4 125.50,514.6 125.80,513.2 126.10,510.3 126.40,511.2 126.70,510.7 127.00,511.8 127.30,512.1 127.60,515.3 127.90,508.9 128.20,513.3 128.50,512.4 128.80,510.7 129.10,511.5 129.40,511.0 129.70,511.8 130.00,513.3 130.30,509.4 130.60,513.8 130.90,511.2" fill="none" stroke="#111" stroke-width="1.0" stroke-linejoin="round"/>
<polyline points="131.20,481.2 131.50,479.6 131.80,480.8 132.10,479.8 132.40,480.6 132.70,479.0 133.00,477.7 133.30,480.0 133.60,480.0 133.90,482.2 134.20,475.9 134.50,478.6 134.80,480.6 135.10,477.0 135.40,478.6 135.70,482.2 136.00,481.1 136.30,477.6 136.60,481.1 136.90,480.8 137.20,480.1 137.50,479.5 137.80,479.3 138.10,477.6 138.40,478.2 138.70,480.1 139.00,479.2 139.30,481.8" fill="none" stroke="#111" stroke-width="1.0" stroke-linejoin="round"/>
<polyline points="139.60,443.3 139.90,440.2 140.20,443.3 140.50,444.3" fill="none" stroke="#111" stroke-width="1.0" stroke-linejoin="round"/>
<polyline points="140.80,479.5 141.10,479.1 141.40,477.7 141.70,481.2 142.00,477.9 142.30,480.0 142.60,478.5 142.90,477.1 143.20,481.1 143.50,475.1 143.80,477.7 144.10,479.6 144.40,478.4 144.70,480.1 145.00,478.8 145.30,478.3 145.60,482.3 145.90,478.6 146.20,478.7 146.50,477.3 146.80,477.8 147.10,480.0 147.40,479.8 147.70,479.0" fill="none" stroke="#111" stroke-width="1.0" stroke-linejoin="round"/>
<polyline points="148.00,510.7 148.30,512.8 148.60,509.2 148.90,511.2 149.20,511.4 149.50,510.5 149.80,512.0 150.10,510.7 150.40,510.5 150.70,514.5 151.00,512.9 151.30,513.6 151.60,511.9 151.90,513.3 152.20,513.0 152.50,513.6 152.80,515.4 153.10,511.4 153.40,512.2 153.70,511.7 154.00,506.4 154.30,509.6 154.60,511.8 154.90,512.8 155.20,510.9 155.50,513.5 155.80,513.8 156.10,511.2 156.40,514.0 156.70,514.5 157.00,512.5 157.30,510.3 157.60,514.0 157.90,511.5 158.20,511.2 158.50,512.0 158.80,511.0 159.10,513.4 159.40,513.0 159.70,513.7 160.00,512.7 160.30,510.6 160.60,511.6 160.90,513.1 161.20,511.2 161.50,516.3 161.80,511.4 162.10,510.9 162.40,513.6 162.70,512.9 163.00,511.8 163.30,511.4 163.60,512.5 163.90,513.1 164.20,513.0 164.50,511.3 164.80,512.5 165.10,513.1 165.40,513.0 165.70,507.1 166.00,510.4 166.30,510.6 166.60,511.4 166.90,512.1 167.20,513.2 167.50,512.7 167.80,511.6 168.10,511.8 168.40,514.5 168.70,510.9 169.00,512.3 169.30,514.2 169.60,512.3 169.90,508.7 170.20,512.4 170.50,511.2 170.80,511.6 171.10,513.4 171.40,512.5 171.70,511.4" fill="none" stroke="#111" stroke-width="1.0" stroke-linejoin="round"/>
<polyline points="172.00,550.8 172.30,550.4 172.60,550.1 172.90,550.3 173.20,550.2 173.50,549.7 173.80,549.6 174.10,550.0 174.40,549.1 174.70,548.9 175.00,551.2 175.30,549.8 175.60,550.0 175.90,549.9 176.20,550.0 176.50,550.0 176.80,550.1 177.10,549.3 177.40,550.8 177.70,549.4 178.00,550.9 178.30,548.3 178.60,549.0 178.90,550.9 179.20,549.9 179.50,549.4 179.80,550.3 180.10,549.1 180.40,550.1 180.70,548.0 181.00,549.6 181.30,549.4 181.60,550.5 181.90,550.8 182.20,549.2 182.50,551.4 182.80,549.5 183.10,548.1 183.40,547.9 183.70,551.4 184.00,549.9 184.30,549.4 184.60,549.3 184.90,549.0 185.20,551.2 185.50,549.9 185.80,551.6 186.10,549.8 186.40,547.9 186.70,550.8 187.00,549.7 187.30,549.8 187.60,551.4 187.90,549.8 188.20,551.0 188.50,550.0 188.80,549.3 189.10,550.5 189.40,549.5 189.70,551.1 190.00,550.9 190.30,550.1 190.60,550.5 190.90,550.5 191.20,549.8 191.50,550.8 191.80,549.8 192.10,550.6 192.40,549.1 192.70,550.1 193.00,550.4 193.30,549.3 193.60,549.6 193.90,549.5 194.20,550.7 194.50,549.4 194.80,550.4 195.10,551.4 195.40,550.3 195.70,548.6 196.00,550.1 196.30,550.9 196.60,549.7 196.90,551.0 197.20,550.6 197.50,550.4 197.80,549.8 198.10,549.5 198.40,549.8 198.70,550.1 199.00,550.5 199.30,550.4 199.60,549.7 199.90,550.1 200.20,550.4 200.50,548.5 200.80,549.3 201.10,549.3 201.40,549.8 201.70,549.8 202.00,549.8 202.30,549.2 202.60,550.6 202.90,550.3 203.20,548.5 203.50,550.0" fill="none" stroke="#111" stroke-width="1.7" stroke-linejoin="round"/>
<polyline points="203.80,510.1 204.10,514.4 204.40,511.1 204.70,511.2 205.00,512.0 205.30,511.5 205.60,511.7 205.90,514.2" fill="none" stroke="#111" stroke-width="1.0" stroke-linejoin="round"/>
<polyline points="206.20,478.4 206.50,479.3 206.80,479.8 207.10,476.5 207.40,480.6 207.70,479.1 208.00,479.5 208.30,476.7 208.60,479.3 208.90,478.7 209.20,477.2 209.50,481.5 209.80,478.9 210.10,477.7 210.40,478.3 210.70,479.4 211.00,479.8 211.30,478.9 211.60,479.9 211.90,480.3 212.20,476.1 212.50,477.3 212.80,476.6 213.10,478.2 213.40,480.2 213.70,479.0 214.00,476.4 214.30,477.6 214.60,479.6 214.90,477.2 215.20,477.9" fill="none" stroke="#111" stroke-width="1.0" stroke-linejoin="round"/>
<polyline points="215.50,512.3 215.80,509.0 216.10,513.0 216.40,512.4 216.70,512.7 217.00,510.3 217.30,510.7 217.60,510.9 217.90,512.2 218.20,511.9 218.50,512.0 218.80,514.6 219.10,513.8 219.40,510.7 219.70,510.8 220.00,514.5 220.30,511.3 220.60,513.9 220.90,514.3 221.20,511.0 221.50,511.4 221.80,512.0 222.10,510.5 222.40,510.3 222.70,511.2 223.00,513.1 223.30,511.1 223.60,511.5 223.90,511.1 224.20,509.7 224.50,514.1 224.80,508.2 225.10,510.8 225.40,512.7 225.70,509.7 226.00,512.8 226.30,513.7 226.60,510.5 226.90,512.1 227.20,510.1 227.50,512.6 227.80,512.0 228.10,512.2 228.40,513.9 228.70,512.6 229.00,513.9 229.30,512.8 229.60,510.0 229.90,512.2 230.20,512.6 230.50,509.6 230.80,513.9 231.10,511.9 231.40,512.4 231.70,510.5 232.00,511.9 232.30,512.3 232.60,511.3 232.90,512.0 233.20,508.6 233.50,513.9 233.80,510.1" fill="none" stroke="#111" stroke-width="1.0" stroke-linejoin="round"/>
<polyline points="234.10,515.7 234.40,517.6 234.70,517.8 235.00,519.9 235.30,517.6 235.60,519.5 235.90,517.6 236.20,522.4 236.50,519.9 236.80,522.0 237.10,517.5 237.40,520.0 237.70,517.6 238.00,519.9 238.30,520.1 238.60,516.6 238.90,517.3" fill="none" stroke="#111" stroke-width="1.0" stroke-linejoin="round"/>
<polyline points="239.20,510.0 239.50,509.5 239.80,510.7 240.10,510.4 240.40,509.6 240.70,512.0 241.00,512.7 241.30,509.8" fill="none" stroke="#111" stroke-width="1.0" stroke-linejoin="round"/>
<polyline points="241.60,549.5 241.90,550.0 242.20,549.8 242.50,549.4 242.80,550.7 243.10,550.8 243.40,550.6 243.70,549.8 244.00,551.8 244.30,551.6" fill="none" stroke="#111" stroke-width="1.7" stroke-linejoin="round"/>
<text x="263.35" y="482.40" font-size="14.5" fill="#000" stroke="#000">O</text>
<text x="274.53" y="487.60" font-size="8.5" stroke="#000">2</text>
<text x="264.45" y="515.60" font-size="14.5" fill="#000" stroke="#000">O</text>
<text x="275.63" y="520.80" font-size="8.5" stroke="#000">1</text>
<text x="266.57" y="551.60" font-size="14.5" fill="#000" stroke="#000">C</text>
<line x1="280.30" y1="474.90" x2="497.70" y2="474.90" stroke="#222" stroke-width="1.3" stroke-dasharray="2.3 3.7"/>
<line x1="280.30" y1="509.00" x2="497.70" y2="509.00" stroke="#222" stroke-width="1.3" stroke-dasharray="2.3 3.7"/>
<polyline points="281.00,545.1 281.30,545.4 281.60,546.7 281.90,544.7 282.20,545.9 282.50,545.6 282.80,544.8 283.10,545.3 283.40,543.9 283.70,545.0 284.00,543.5 284.30,547.8 284.60,547.0 284.90,546.7 285.20,545.8 285.50,546.5 285.80,546.8 286.10,546.5 286.40,546.4 286.70,544.6 287.00,545.9 287.30,545.0 287.60,544.3 287.90,544.4 288.20,545.9 288.50,546.6 288.80,544.1 289.10,547.3 289.40,547.0 289.70,545.1 290.00,514.8 290.30,545.4 290.60,546.5 290.90,545.1 291.20,544.4 291.50,545.8 291.80,543.4 292.10,545.6 292.40,546.7 292.70,545.8 293.00,546.3 293.30,546.0 293.60,546.2 293.90,545.6 294.20,544.7 294.50,545.3 294.80,545.4 295.10,546.8 295.40,547.1 295.70,545.9 296.00,544.7 296.30,544.8 296.60,545.3 296.90,546.9 297.20,545.8 297.50,545.4 297.80,544.7 298.10,546.4 298.40,545.8 298.70,545.4 299.00,545.6 299.30,547.2 299.60,545.3 299.90,547.2 300.20,546.7 300.50,545.6 300.80,546.4 301.10,510.5 301.40,544.7 301.70,545.2 302.00,544.6 302.30,546.0 302.60,545.5 302.90,546.1 303.20,546.3 303.50,542.4 303.80,545.8 304.10,543.7 304.40,545.7 304.70,544.6 305.00,545.6 305.30,546.9 305.60,543.8 305.90,545.7 306.20,545.4 306.50,543.6 306.80,546.1 307.10,545.5 307.40,545.0 307.70,544.8 308.00,548.7 308.30,545.1 308.60,543.7 308.90,544.6 309.20,545.1 309.50,545.1 309.80,545.4 310.10,544.5 310.40,546.0 310.70,545.0 311.00,544.1 311.30,544.7 311.60,545.1 311.90,546.3 312.20,546.0 312.50,545.2 312.80,545.5 313.10,545.7 313.40,547.5 313.70,544.9 314.00,546.0 314.30,546.2 314.60,538.6 314.90,545.7 315.20,545.7 315.50,545.0 315.80,546.1 316.10,546.5 316.40,546.6 316.70,509.0 317.00,545.7 317.30,547.9 317.60,544.4 317.90,545.7 318.20,546.4 318.50,513.4 318.80,546.2 319.10,545.7 319.40,546.3 319.70,546.8 320.00,545.3 320.30,545.7 320.60,545.4 320.90,545.1 321.20,545.5 321.50,515.6 321.80,546.2 322.10,547.2 322.40,547.2 322.70,546.8 323.00,544.5 323.30,547.0 323.60,507.6 323.90,545.4 324.20,547.3 324.50,544.4 324.80,546.3 325.10,545.8 325.40,545.3 325.70,544.6 326.00,469.4 326.30,545.0 326.60,472.0 326.90,546.7 327.20,544.1 327.50,545.0 327.80,545.2 328.10,544.3 328.40,544.4 328.70,545.6 329.00,545.3 329.30,543.8 329.60,545.0 329.90,546.0 330.20,544.3 330.50,544.6 330.80,547.1 331.10,546.8 331.40,543.9 331.70,507.0 332.00,545.9 332.30,544.3 332.60,545.2 332.90,545.0 333.20,546.1 333.50,543.0 333.80,543.3 334.10,544.3 334.40,546.5 334.70,545.3 335.00,543.8 335.30,546.0 335.60,546.2 335.90,545.3 336.20,545.2 336.50,545.9 336.80,546.7 337.10,545.7 337.40,546.0 337.70,545.5 338.00,545.1 338.30,544.6 338.60,510.5 338.90,545.2 339.20,545.3 339.50,546.4 339.80,546.0 340.10,546.4 340.40,543.9 340.70,546.1 341.00,544.9 341.30,544.7 341.60,544.6 341.90,509.0 342.20,546.3 342.50,544.8 342.80,544.4 343.10,545.5 343.40,545.0 343.70,547.2 344.00,544.0 344.30,543.7 344.60,545.2 344.90,545.5 345.20,545.6 345.50,546.3 345.80,547.6 346.10,545.2 346.40,545.0 346.70,543.7 347.00,545.7 347.30,546.4 347.60,545.2 347.90,546.7 348.20,545.5 348.50,510.0 348.80,545.8 349.10,544.4 349.40,544.9 349.70,544.0 350.00,543.8 350.30,545.8 350.60,546.4 350.90,547.5 351.20,545.4 351.50,545.3 351.80,544.4 352.10,546.5 352.40,545.9 352.70,544.9 353.00,546.2 353.30,546.1 353.60,543.6 353.90,546.2 354.20,545.6 354.50,545.1 354.80,545.1 355.10,547.2 355.40,547.0 355.70,547.3 356.00,544.4 356.30,544.8 356.60,546.4 356.90,511.0 357.20,544.8 357.50,543.7 357.80,547.4 358.10,546.6 358.40,546.0 358.70,545.7 359.00,545.1 359.30,545.1 359.60,546.1 359.90,544.8 360.20,546.7 360.50,545.0 360.80,544.6 361.10,546.8 361.40,545.4 361.70,506.0 362.00,545.1 362.30,543.2 362.60,546.0 362.90,544.2 363.20,546.6 363.50,543.9 363.80,543.6 364.10,545.8 364.40,545.9 364.70,545.6 365.00,544.3 365.30,546.4 365.60,544.0 365.90,545.0 366.20,544.7 366.50,545.1 366.80,546.4 367.10,544.9 367.40,546.1 367.70,546.2 368.00,543.8 368.30,544.3 368.60,545.1 368.90,544.9 369.20,545.8 369.50,543.6 369.80,546.2 370.10,546.2 370.40,515.6 370.70,544.1 371.00,545.5 371.30,545.0 371.60,546.1 371.90,545.4 372.20,546.2 372.50,545.1 372.80,546.9 373.10,543.2 373.40,544.5 373.70,546.0 374.00,544.0 374.30,546.2 374.60,544.3 374.90,545.6 375.20,544.6 375.50,545.1 375.80,545.7 376.10,545.4 376.40,545.1 376.70,547.7 377.00,545.5 377.30,544.5 377.60,546.4 377.90,546.3 378.20,546.7 378.50,547.3 378.80,544.6 379.10,546.6 379.40,546.6 379.70,545.5 380.00,492.0 380.30,542.5 380.60,544.9 380.90,547.3 381.20,495.0 381.50,545.0 381.80,545.8 382.10,546.1 382.40,547.1 382.70,543.7 383.00,545.5 383.30,546.4 383.60,544.2 383.90,545.5 384.20,547.4 384.50,546.8 384.80,546.0 385.10,542.9 385.40,545.4 385.70,545.9 386.00,545.2 386.30,545.4 386.60,548.6 386.90,545.3 387.20,544.5 387.50,545.7 387.80,545.2 388.10,545.2 388.40,545.4 388.70,546.3 389.00,545.7 389.30,544.3 389.60,545.4 389.90,546.0 390.20,545.0 390.50,546.6 390.80,546.3 391.10,544.5 391.40,545.8 391.70,547.5 392.00,547.1 392.30,545.4 392.60,546.4 392.90,544.8 393.20,544.1 393.50,546.1 393.80,545.7 394.10,546.0 394.40,545.5 394.70,545.8 395.00,545.0 395.30,546.0 395.60,546.3 395.90,545.4 396.20,546.3 396.50,543.7 396.80,544.7 397.10,546.9 397.40,547.3 397.70,545.8 398.00,545.4 398.30,544.2 398.60,545.9 398.90,546.3 399.20,544.0 399.50,546.1 399.80,546.0 400.10,545.9 400.40,544.4 400.70,507.0 401.00,544.0 401.30,547.0 401.60,545.6 401.90,544.3 402.20,546.8 402.50,546.7 402.80,544.8 403.10,547.7 403.40,544.5 403.70,545.8 404.00,546.7 404.30,543.2 404.60,546.5 404.90,545.4 405.20,545.5 405.50,544.4 405.80,545.8 406.10,544.4 406.40,544.5 406.70,545.1 407.00,544.3 407.30,547.1 407.60,544.2 407.90,544.7 408.20,545.2 408.50,545.5 408.80,546.3 409.10,546.3 409.40,545.2 409.70,545.1 410.00,545.5 410.30,503.0 410.60,546.2 410.90,507.0 411.20,543.4 411.50,547.6 411.80,546.5 412.10,545.8 412.40,545.8 412.70,545.0 413.00,544.5 413.30,545.2 413.60,545.3 413.90,544.9 414.20,544.0 414.50,545.2 414.80,546.1 415.10,545.0 415.40,545.5 415.70,543.4 416.00,545.3 416.30,545.4 416.60,511.2 416.90,543.8 417.20,545.9 417.50,544.7 417.80,546.0 418.10,545.1 418.40,546.1 418.70,545.2 419.00,544.0 419.30,545.4 419.60,545.2 419.90,546.2 420.20,545.0 420.50,545.1 420.80,546.4 421.10,546.7 421.40,546.3 421.70,546.5 422.00,546.0 422.30,546.3 422.60,546.4 422.90,545.9 423.20,538.0 423.50,545.6 423.80,547.9 424.10,545.5 424.40,545.3 424.70,545.1 425.00,545.5 425.30,545.7 425.60,544.4 425.90,543.5 426.20,545.8 426.50,543.9 426.80,511.2 427.10,545.6 427.40,546.7 427.70,547.2 428.00,545.9 428.30,544.9 428.60,544.3 428.90,544.7 429.20,545.5 429.50,543.4 429.80,545.6 430.10,545.5 430.40,546.1 430.70,545.2 431.00,545.6 431.30,544.8 431.60,545.0 431.90,543.7 432.20,545.6 432.50,547.0 432.80,545.7 433.10,545.9 433.40,544.5 433.70,546.9 434.00,544.7 434.30,546.3 434.60,545.6 434.90,538.0 435.20,546.5 435.50,545.5 435.80,545.7 436.10,546.0 436.40,545.5 436.70,545.1 437.00,546.0 437.30,509.0 437.60,545.6 437.90,544.8 438.20,544.0 438.50,544.8 438.80,545.0 439.10,545.5 439.40,546.7 439.70,543.8 440.00,545.6 440.30,543.3 440.60,544.5 440.90,545.0 441.20,543.2 441.50,543.6 441.80,545.7 442.10,545.6 442.40,545.4 442.70,544.7 443.00,547.7 443.30,545.3 443.60,544.6 443.90,547.2 444.20,546.1 444.50,545.1 444.80,546.7 445.10,545.7 445.40,546.1 445.70,545.7 446.00,544.5 446.30,546.5 446.60,545.7 446.90,544.5 447.20,544.7 447.50,546.5 447.80,545.1 448.10,545.5 448.40,546.2 448.70,545.6 449.00,544.0 449.30,546.1 449.60,546.4 449.90,546.4 450.20,547.1 450.50,545.9 450.80,546.3 451.10,547.1 451.40,492.5 451.70,547.2 452.00,547.2 452.30,546.3 452.60,547.3 452.90,546.4 453.20,544.6 453.50,546.6 453.80,545.8 454.10,545.9 454.40,545.7 454.70,546.9 455.00,546.1 455.30,544.8 455.60,546.0 455.90,510.5 456.20,544.8 456.50,545.1 456.80,545.1 457.10,544.9 457.40,545.8 457.70,546.5 458.00,547.4 458.30,546.7 458.60,546.5 458.90,546.6 459.20,546.8 459.50,545.1 459.80,546.2 460.10,545.8 460.40,545.4 460.70,545.0 461.00,545.0 461.30,545.2 461.60,544.3 461.90,546.0 462.20,545.5 462.50,545.6 462.80,545.8 463.10,546.2 463.40,538.0 463.70,545.4 464.00,543.9 464.30,543.3 464.60,543.6 464.90,547.0 465.20,543.7 465.50,546.0 465.80,547.0 466.10,545.0 466.40,547.1 466.70,547.3 467.00,546.4 467.30,547.9 467.60,546.1 467.90,544.8 468.20,546.0 468.50,513.4 468.80,544.2 469.10,544.2 469.40,547.8 469.70,545.0 470.00,545.5 470.30,544.8 470.60,545.6 470.90,545.3 471.20,545.1 471.50,544.3 471.80,538.0 472.10,544.8 472.40,545.8 472.70,547.6 473.00,546.6 473.30,547.3 473.60,546.0 473.90,545.4 474.20,544.2 474.50,545.5 474.80,543.4 475.10,545.2 475.40,547.1 475.70,510.5 476.00,546.6 476.30,545.1 476.60,544.1 476.90,545.0 477.20,545.1 477.50,546.7 477.80,547.5 478.10,544.8 478.40,545.2 478.70,545.4 479.00,545.2 479.30,544.3 479.60,545.6 479.90,545.9 480.20,545.9 480.50,544.3 480.80,545.4 481.10,543.8 481.40,546.4 481.70,544.5 482.00,545.3 482.30,545.1 482.60,544.9 482.90,544.5 483.20,543.8 483.50,547.3 483.80,521.3 484.10,545.8 484.40,547.6 484.70,545.4 485.00,546.1 485.30,545.6 485.60,546.7 485.90,546.0 486.20,545.8 486.50,545.3 486.80,506.0 487.10,546.7 487.40,510.0 487.70,545.4 488.00,545.1 488.30,545.2 488.60,543.6 488.90,546.3 489.20,544.7 489.50,545.3 489.80,545.0 490.10,543.9 490.40,545.1 490.70,543.7 491.00,544.6 491.30,545.2 491.60,545.5 491.90,545.6 492.20,545.4 492.50,547.7 492.80,546.0 493.10,544.3 493.40,521.3 493.70,544.9 494.00,545.4 494.30,544.9 494.60,544.7 494.90,547.2 495.20,545.6 495.50,545.2 495.80,545.3 496.10,545.3 496.40,546.9 496.70,546.0 497.00,535.8 497.30,542.4 497.60,545.9" fill="none" stroke="#555" stroke-width="0.9" stroke-linejoin="round"/>
<polyline points="281.00,545.1 281.30,545.4 281.60,546.7 281.90,544.7 282.20,545.9 282.50,545.6 282.80,544.8 283.10,545.3 283.40,543.9 283.70,545.0 284.00,543.5 284.30,547.8 284.60,547.0 284.90,546.7 285.20,545.8 285.50,546.5 285.80,546.8 286.10,546.5 286.40,546.4 286.70,544.6 287.00,545.9 287.30,545.0 287.60,544.3 287.90,544.4 288.20,545.9 288.50,546.6 288.80,544.1 289.10,547.3 289.40,547.0 289.70,545.1 290.00,545.0 290.30,545.4 290.60,546.5 290.90,545.1 291.20,544.4 291.50,545.8 291.80,543.4 292.10,545.6 292.40,546.7 292.70,545.8 293.00,546.3 293.30,546.0 293.60,546.2 293.90,545.6 294.20,544.7 294.50,545.3 294.80,545.4 295.10,546.8 295.40,547.1 295.70,545.9 296.00,544.7 296.30,544.8 296.60,545.3 296.90,546.9 297.20,545.8 297.50,545.4 297.80,544.7 298.10,546.4 298.40,545.8 298.70,545.4 299.00,545.6 299.30,547.2 299.60,545.3 299.90,547.2 300.20,546.7 300.50,545.6 300.80,546.4 301.10,545.4 301.40,544.7 301.70,545.2 302.00,544.6 302.30,546.0 302.60,545.5 302.90,546.1 303.20,546.3 303.50,542.4 303.80,545.8 304.10,543.7 304.40,545.7 304.70,544.6 305.00,545.6 305.30,546.9 305.60,543.8 305.90,545.7 306.20,545.4 306.50,543.6 306.80,546.1 307.10,545.5 307.40,545.0 307.70,544.8 308.00,548.7 308.30,545.1 308.60,543.7 308.90,544.6 309.20,545.1 309.50,545.1 309.80,545.4 310.10,544.5 310.40,546.0 310.70,545.0 311.00,544.1 311.30,544.7 311.60,545.1 311.90,546.3 312.20,546.0 312.50,545.2 312.80,545.5 313.10,545.7 313.40,547.5 313.70,544.9 314.00,546.0 314.30,546.2 314.60,544.5 314.90,545.7 315.20,545.7 315.50,545.0 315.80,546.1 316.10,546.5 316.40,546.6 316.70,545.3 317.00,545.7 317.30,547.9 317.60,544.4 317.90,545.7 318.20,546.4 318.50,545.7 318.80,546.2 319.10,545.7 319.40,546.3 319.70,546.8 320.00,545.3 320.30,545.7 320.60,545.4 320.90,545.1 321.20,545.5 321.50,544.4 321.80,546.2 322.10,547.2 322.40,547.2 322.70,546.8 323.00,544.5 323.30,547.0 323.60,544.8 323.90,545.4 324.20,547.3 324.50,544.4 324.80,546.3 325.10,545.8 325.40,545.3 325.70,544.6 326.00,545.9 326.30,545.0 326.60,546.5 326.90,546.7 327.20,544.1 327.50,545.0 327.80,545.2 328.10,544.3 328.40,544.4 328.70,545.6 329.00,545.3 329.30,543.8 329.60,545.0 329.90,546.0 330.20,544.3 330.50,544.6 330.80,547.1 331.10,546.8 331.40,543.9 331.70,544.1 332.00,545.9 332.30,544.3 332.60,545.2 332.90,545.0 333.20,546.1 333.50,543.0 333.80,543.3 334.10,544.3 334.40,546.5 334.70,545.3 335.00,543.8 335.30,546.0 335.60,546.2 335.90,545.3 336.20,545.2 336.50,545.9 336.80,546.7 337.10,545.7 337.40,546.0 337.70,545.5 338.00,545.1 338.30,544.6 338.60,545.8 338.90,545.2 339.20,545.3 339.50,546.4 339.80,546.0 340.10,546.4 340.40,543.9 340.70,546.1 341.00,544.9 341.30,544.7 341.60,544.6 341.90,546.7 342.20,546.3 342.50,544.8 342.80,544.4 343.10,545.5 343.40,545.0 343.70,547.2 344.00,544.0 344.30,543.7 344.60,545.2 344.90,545.5 345.20,545.6 345.50,546.3 345.80,547.6 346.10,545.2 346.40,545.0 346.70,543.7 347.00,545.7 347.30,546.4 347.60,545.2 347.90,546.7 348.20,545.5 348.50,547.0 348.80,545.8 349.10,544.4 349.40,544.9 349.70,544.0 350.00,543.8 350.30,545.8 350.60,546.4 350.90,547.5 351.20,545.4 351.50,545.3 351.80,544.4 352.10,546.5 352.40,545.9 352.70,544.9 353.00,546.2 353.30,546.1 353.60,543.6 353.90,546.2 354.20,545.6 354.50,545.1 354.80,545.1 355.10,547.2 355.40,547.0 355.70,547.3 356.00,544.4 356.30,544.8 356.60,546.4 356.90,544.3 357.20,544.8 357.50,543.7 357.80,547.4 358.10,546.6 358.40,546.0 358.70,545.7 359.00,545.1 359.30,545.1 359.60,546.1 359.90,544.8 360.20,546.7 360.50,545.0 360.80,544.6 361.10,546.8 361.40,545.4 361.70,546.1 362.00,545.1 362.30,543.2 362.60,546.0 362.90,544.2 363.20,546.6 363.50,543.9 363.80,543.6 364.10,545.8 364.40,545.9 364.70,545.6 365.00,544.3 365.30,546.4 365.60,544.0 365.90,545.0 366.20,544.7 366.50,545.1 366.80,546.4 367.10,544.9 367.40,546.1 367.70,546.2 368.00,543.8 368.30,544.3 368.60,545.1 368.90,544.9 369.20,545.8 369.50,543.6 369.80,546.2 370.10,546.2 370.40,545.3 370.70,544.1 371.00,545.5 371.30,545.0 371.60,546.1 371.90,545.4 372.20,546.2 372.50,545.1 372.80,546.9 373.10,543.2 373.40,544.5 373.70,546.0 374.00,544.0 374.30,546.2 374.60,544.3 374.90,545.6 375.20,544.6 375.50,545.1 375.80,545.7 376.10,545.4 376.40,545.1 376.70,547.7 377.00,545.5 377.30,544.5 377.60,546.4 377.90,546.3 378.20,546.7 378.50,547.3 378.80,544.6 379.10,546.6 379.40,546.6 379.70,545.5 380.00,545.7 380.30,542.5 380.60,544.9 380.90,547.3 381.20,543.7 381.50,545.0 381.80,545.8 382.10,546.1 382.40,547.1 382.70,543.7 383.00,545.5 383.30,546.4 383.60,544.2 383.90,545.5 384.20,547.4 384.50,546.8 384.80,546.0 385.10,542.9 385.40,545.4 385.70,545.9 386.00,545.2 386.30,545.4 386.60,548.6 386.90,545.3 387.20,544.5 387.50,545.7 387.80,545.2 388.10,545.2 388.40,545.4 388.70,546.3 389.00,545.7 389.30,544.3 389.60,545.4 389.90,546.0 390.20,545.0 390.50,546.6 390.80,546.3 391.10,544.5 391.40,545.8 391.70,547.5 392.00,547.1 392.30,545.4 392.60,546.4 392.90,544.8 393.20,544.1 393.50,546.1 393.80,545.7 394.10,546.0 394.40,545.5 394.70,545.8 395.00,545.0 395.30,546.0 395.60,546.3 395.90,545.4 396.20,546.3 396.50,543.7 396.80,544.7 397.10,546.9 397.40,547.3 397.70,545.8 398.00,545.4 398.30,544.2 398.60,545.9 398.90,546.3 399.20,544.0 399.50,546.1 399.80,546.0 400.10,545.9 400.40,544.4 400.70,546.0 401.00,544.0 401.30,547.0 401.60,545.6 401.90,544.3 402.20,546.8 402.50,546.7 402.80,544.8 403.10,547.7 403.40,544.5 403.70,545.8 404.00,546.7 404.30,543.2 404.60,546.5 404.90,545.4 405.20,545.5 405.50,544.4 405.80,545.8 406.10,544.4 406.40,544.5 406.70,545.1 407.00,544.3 407.30,547.1 407.60,544.2 407.90,544.7 408.20,545.2 408.50,545.5 408.80,546.3 409.10,546.3 409.40,545.2 409.70,545.1 410.00,545.5 410.30,546.3 410.60,546.2 410.90,545.0 411.20,543.4 411.50,547.6 411.80,546.5 412.10,545.8 412.40,545.8 412.70,545.0 413.00,544.5 413.30,545.2 413.60,545.3 413.90,544.9 414.20,544.0 414.50,545.2 414.80,546.1 415.10,545.0 415.40,545.5 415.70,543.4 416.00,545.3 416.30,545.4 416.60,544.3 416.90,543.8 417.20,545.9 417.50,544.7 417.80,546.0 418.10,545.1 418.40,546.1 418.70,545.2 419.00,544.0 419.30,545.4 419.60,545.2 419.90,546.2 420.20,545.0 420.50,545.1 420.80,546.4 421.10,546.7 421.40,546.3 421.70,546.5 422.00,546.0 422.30,546.3 422.60,546.4 422.90,545.9 423.20,545.6 423.50,545.6 423.80,547.9 424.10,545.5 424.40,545.3 424.70,545.1 425.00,545.5 425.30,545.7 425.60,544.4 425.90,543.5 426.20,545.8 426.50,543.9 426.80,545.8 427.10,545.6 427.40,546.7 427.70,547.2 428.00,545.9 428.30,544.9 428.60,544.3 428.90,544.7 429.20,545.5 429.50,543.4 429.80,545.6 430.10,545.5 430.40,546.1 430.70,545.2 431.00,545.6 431.30,544.8 431.60,545.0 431.90,543.7 432.20,545.6 432.50,547.0 432.80,545.7 433.10,545.9 433.40,544.5 433.70,546.9 434.00,544.7 434.30,546.3 434.60,545.6 434.90,544.5 435.20,546.5 435.50,545.5 435.80,545.7 436.10,546.0 436.40,545.5 436.70,545.1 437.00,546.0 437.30,545.1 437.60,545.6 437.90,544.8 438.20,544.0 438.50,544.8 438.80,545.0 439.10,545.5 439.40,546.7 439.70,543.8 440.00,545.6 440.30,543.3 440.60,544.5 440.90,545.0 441.20,543.2 441.50,543.6 441.80,545.7 442.10,545.6 442.40,545.4 442.70,544.7 443.00,547.7 443.30,545.3 443.60,544.6 443.90,547.2 444.20,546.1 444.50,545.1 444.80,546.7 445.10,545.7 445.40,546.1 445.70,545.7 446.00,544.5 446.30,546.5 446.60,545.7 446.90,544.5 447.20,544.7 447.50,546.5 447.80,545.1 448.10,545.5 448.40,546.2 448.70,545.6 449.00,544.0 449.30,546.1 449.60,546.4 449.90,546.4 450.20,547.1 450.50,545.9 450.80,546.3 451.10,547.1 451.40,545.2 451.70,547.2 452.00,547.2 452.30,546.3 452.60,547.3 452.90,546.4 453.20,544.6 453.50,546.6 453.80,545.8 454.10,545.9 454.40,545.7 454.70,546.9 455.00,546.1 455.30,544.8 455.60,546.0 455.90,546.2 456.20,544.8 456.50,545.1 456.80,545.1 457.10,544.9 457.40,545.8 457.70,546.5 458.00,547.4 458.30,546.7 458.60,546.5 458.90,546.6 459.20,546.8 459.50,545.1 459.80,546.2 460.10,545.8 460.40,545.4 460.70,545.0 461.00,545.0 461.30,545.2 461.60,544.3 461.90,546.0 462.20,545.5 462.50,545.6 462.80,545.8 463.10,546.2 463.40,544.9 463.70,545.4 464.00,543.9 464.30,543.3 464.60,543.6 464.90,547.0 465.20,543.7 465.50,546.0 465.80,547.0 466.10,545.0 466.40,547.1 466.70,547.3 467.00,546.4 467.30,547.9 467.60,546.1 467.90,544.8 468.20,546.0 468.50,545.1 468.80,544.2 469.10,544.2 469.40,547.8 469.70,545.0 470.00,545.5 470.30,544.8 470.60,545.6 470.90,545.3 471.20,545.1 471.50,544.3 471.80,544.1 472.10,544.8 472.40,545.8 472.70,547.6 473.00,546.6 473.30,547.3 473.60,546.0 473.90,545.4 474.20,544.2 474.50,545.5 474.80,543.4 475.10,545.2 475.40,547.1 475.70,545.8 476.00,546.6 476.30,545.1 476.60,544.1 476.90,545.0 477.20,545.1 477.50,546.7 477.80,547.5 478.10,544.8 478.40,545.2 478.70,545.4 479.00,545.2 479.30,544.3 479.60,545.6 479.90,545.9 480.20,545.9 480.50,544.3 480.80,545.4 481.10,543.8 481.40,546.4 481.70,544.5 482.00,545.3 482.30,545.1 482.60,544.9 482.90,544.5 483.20,543.8 483.50,547.3 483.80,545.8 484.10,545.8 484.40,547.6 484.70,545.4 485.00,546.1 485.30,545.6 485.60,546.7 485.90,546.0 486.20,545.8 486.50,545.3 486.80,545.8 487.10,546.7 487.40,543.5 487.70,545.4 488.00,545.1 488.30,545.2 488.60,543.6 488.90,546.3 489.20,544.7 489.50,545.3 489.80,545.0 490.10,543.9 490.40,545.1 490.70,543.7 491.00,544.6 491.30,545.2 491.60,545.5 491.90,545.6 492.20,545.4 492.50,547.7 492.80,546.0 493.10,544.3 493.40,544.9 493.70,544.9 494.00,545.4 494.30,544.9 494.60,544.7 494.90,547.2 495.20,545.6 495.50,545.2 495.80,545.3 496.10,545.3 496.40,546.9 496.70,546.0 497.00,546.7 497.30,542.4 497.60,545.9" fill="none" stroke="#111" stroke-width="1.7" stroke-linejoin="round"/>
<text x="-2.68" y="617.60" font-size="33.5" fill="#000" stroke="#000">B</text>
<line x1="77.60" y1="626.70" x2="77.60" y2="902.10" stroke="#000" stroke-width="1.6"/>
<line x1="68.50" y1="667.90" x2="77.60" y2="667.90" stroke="#000" stroke-width="1.6"/>
<line x1="68.50" y1="901.30" x2="77.60" y2="901.30" stroke="#000" stroke-width="1.6"/>
<line x1="72.80" y1="831.04" x2="77.60" y2="831.04" stroke="#000" stroke-width="1.6"/>
<line x1="72.80" y1="789.94" x2="77.60" y2="789.94" stroke="#000" stroke-width="1.6"/>
<line x1="72.80" y1="760.78" x2="77.60" y2="760.78" stroke="#000" stroke-width="1.6"/>
<line x1="72.80" y1="738.16" x2="77.60" y2="738.16" stroke="#000" stroke-width="1.6"/>
<line x1="72.80" y1="719.68" x2="77.60" y2="719.68" stroke="#000" stroke-width="1.6"/>
<line x1="72.80" y1="704.05" x2="77.60" y2="704.05" stroke="#000" stroke-width="1.6"/>
<line x1="72.80" y1="690.52" x2="77.60" y2="690.52" stroke="#000" stroke-width="1.6"/>
<line x1="72.80" y1="678.58" x2="77.60" y2="678.58" stroke="#000" stroke-width="1.6"/>
<text x="50.75" y="675.40" font-size="20.5" fill="#000" stroke="#000">1</text>
<text x="63.06" y="725.28" font-size="16" fill="#000" stroke="#000">6</text>
<text x="63.06" y="743.76" font-size="16" fill="#000" stroke="#000">5</text>
<text x="62.90" y="766.38" font-size="16" fill="#000" stroke="#000">4</text>
<text x="63.06" y="795.54" font-size="16" fill="#000" stroke="#000">3</text>
<text x="63.22" y="836.64" font-size="16" fill="#000" stroke="#000">2</text>
<text x="32.26" y="909.10" font-size="21" fill="#000" stroke="#000">0.1</text>
<line x1="424.20" y1="625.80" x2="424.20" y2="906.40" stroke="#000" stroke-width="1.6"/>
<line x1="424.20" y1="626.60" x2="432.30" y2="626.60" stroke="#000" stroke-width="1.6"/>
<text x="441.12" y="637.50" font-size="21" fill="#000" stroke="#000">10</text>
<text x="465.20" y="625.00" font-size="15" fill="#000" stroke="#000">0</text>
<line x1="424.20" y1="663.87" x2="432.30" y2="663.87" stroke="#000" stroke-width="1.6"/>
<text x="441.12" y="674.77" font-size="21" fill="#000" stroke="#000">10</text>
<text x="465.12" y="662.27" font-size="15" fill="#000" stroke="#000">-1</text>
<line x1="424.20" y1="701.14" x2="432.30" y2="701.14" stroke="#000" stroke-width="1.6"/>
<text x="441.12" y="712.04" font-size="21" fill="#000" stroke="#000">10</text>
<text x="465.12" y="699.54" font-size="15" fill="#000" stroke="#000">-2</text>
<line x1="424.20" y1="738.41" x2="432.30" y2="738.41" stroke="#000" stroke-width="1.6"/>
<text x="441.12" y="749.31" font-size="21" fill="#000" stroke="#000">10</text>
<text x="465.12" y="736.81" font-size="15" fill="#000" stroke="#000">-3</text>
<line x1="424.20" y1="775.68" x2="432.30" y2="775.68" stroke="#000" stroke-width="1.6"/>
<text x="441.12" y="786.58" font-size="21" fill="#000" stroke="#000">10</text>
<text x="465.12" y="774.08" font-size="15" fill="#000" stroke="#000">-4</text>
<line x1="424.20" y1="812.95" x2="432.30" y2="812.95" stroke="#000" stroke-width="1.6"/>
<text x="441.12" y="823.85" font-size="21" fill="#000" stroke="#000">10</text>
<text x="465.12" y="811.35" font-size="15" fill="#000" stroke="#000">-5</text>
<line x1="424.20" y1="850.22" x2="432.30" y2="850.22" stroke="#000" stroke-width="1.6"/>
<text x="441.12" y="861.12" font-size="21" fill="#000" stroke="#000">10</text>
<text x="465.12" y="848.62" font-size="15" fill="#000" stroke="#000">-6</text>
<line x1="424.20" y1="887.49" x2="432.30" y2="887.49" stroke="#000" stroke-width="1.6"/>
<text x="441.12" y="898.39" font-size="21" fill="#000" stroke="#000">10</text>
<text x="465.12" y="885.89" font-size="15" fill="#000" stroke="#000">-7</text>
<line x1="84.20" y1="907.20" x2="415.40" y2="907.20" stroke="#000" stroke-width="1.6"/>
<line x1="89.13" y1="907.20" x2="89.13" y2="915.80" stroke="#000" stroke-width="1.6"/>
<line x1="115.87" y1="907.20" x2="115.87" y2="912.20" stroke="#000" stroke-width="1.6"/>
<line x1="142.61" y1="907.20" x2="142.61" y2="915.80" stroke="#000" stroke-width="1.6"/>
<line x1="169.36" y1="907.20" x2="169.36" y2="912.20" stroke="#000" stroke-width="1.6"/>
<line x1="196.10" y1="907.20" x2="196.10" y2="915.80" stroke="#000" stroke-width="1.6"/>
<line x1="222.84" y1="907.20" x2="222.84" y2="912.20" stroke="#000" stroke-width="1.6"/>
<line x1="249.59" y1="907.20" x2="249.59" y2="915.80" stroke="#000" stroke-width="1.6"/>
<line x1="276.33" y1="907.20" x2="276.33" y2="912.20" stroke="#000" stroke-width="1.6"/>
<line x1="303.07" y1="907.20" x2="303.07" y2="915.80" stroke="#000" stroke-width="1.6"/>
<line x1="329.81" y1="907.20" x2="329.81" y2="912.20" stroke="#000" stroke-width="1.6"/>
<line x1="356.56" y1="907.20" x2="356.56" y2="915.80" stroke="#000" stroke-width="1.6"/>
<line x1="383.30" y1="907.20" x2="383.30" y2="912.20" stroke="#000" stroke-width="1.6"/>
<line x1="410.04" y1="907.20" x2="410.04" y2="915.80" stroke="#000" stroke-width="1.6"/>
<text x="67.52" y="940.80" font-size="21.5" fill="#000" stroke="#000">-100</text>
<text x="126.97" y="940.80" font-size="21.5" fill="#000" stroke="#000">-50</text>
<text x="190.08" y="940.80" font-size="21.5" fill="#000" stroke="#000">0</text>
<text x="237.60" y="940.80" font-size="21.5" fill="#000" stroke="#000">50</text>
<text x="284.74" y="940.80" font-size="21.5" fill="#000" stroke="#000">100</text>
<text x="338.23" y="940.80" font-size="21.5" fill="#000" stroke="#000">150</text>
<text x="391.98" y="940.80" font-size="21.5" fill="#000" stroke="#000">200</text>
<text x="186.09" y="972.90" font-size="22.3" fill="#000" stroke="#000">Voltage (mV)</text>
<text x="99.18" y="647.00" font-size="20.5" fill="#000" stroke="#000">0 Ca</text>
<text x="142.97" y="640.60" font-size="12.6" fill="#000" stroke="#000">2+</text>
<line x1="99.50" y1="649.50" x2="158.75" y2="649.50" stroke="#000" stroke-width="1.5"/>
<text x="99.19" y="670.90" font-size="20.3" fill="#000" stroke="#000">0 μM LOP</text>
<text x="99.19" y="694.60" font-size="20.3" fill="#D944D6" stroke="#D944D6">30 μM LOP</text>
<text transform="translate(20.1,936.9) rotate(-90)" font-size="22.5" stroke="#000">mean open time (ms) (</text>
<text transform="translate(20.1,679.9) rotate(-90)" font-size="22.5" stroke="#000">,</text>
<text transform="translate(20.1,634.9) rotate(-90)" font-size="22.5" stroke="#000">)</text>
<polygon points="2.90,694.50 12.90,684.50 22.90,694.50 12.90,704.50" fill="#000"/>
<polygon points="3.15,649.70 12.85,640.00 22.55,649.70 12.85,659.40" fill="#D944D6"/>
<text transform="translate(499.5,646.3) rotate(90)" font-size="22.5" stroke="#000">G/Gmax or P</text>
<text transform="translate(494.5,777.6) rotate(90)" font-size="15" stroke="#000">o</text>
<text transform="translate(499.5,793.0) rotate(90)" font-size="22.5" stroke="#000">(</text>
<text transform="translate(499.5,832.4) rotate(90)" font-size="22.5" stroke="#000">,</text>
<text transform="translate(499.5,872.5) rotate(90)" font-size="22.5" stroke="#000">)</text>
<circle cx="504.50" cy="812.00" r="4.80" fill="none" stroke="#000" stroke-width="1.6"/>
<circle cx="504.50" cy="858.20" r="4.80" fill="none" stroke="#D944D6" stroke-width="1.6"/>
<line x1="281.68" y1="725.00" x2="281.68" y2="712.30" stroke="#000" stroke-width="2.0"/>
<line x1="278.18" y1="712.30" x2="285.18" y2="712.30" stroke="#000" stroke-width="2.6"/>
<line x1="281.68" y1="725.00" x2="281.68" y2="740.50" stroke="#000" stroke-width="2.0"/>
<line x1="278.18" y1="740.50" x2="285.18" y2="740.50" stroke="#000" stroke-width="2.6"/>
<line x1="260.28" y1="747.00" x2="260.28" y2="737.70" stroke="#000" stroke-width="2.0"/>
<line x1="256.78" y1="737.70" x2="263.78" y2="737.70" stroke="#000" stroke-width="2.6"/>
<line x1="303.07" y1="681.10" x2="303.07" y2="671.50" stroke="#000" stroke-width="2.0"/>
<line x1="299.57" y1="671.50" x2="306.57" y2="671.50" stroke="#000" stroke-width="2.6"/>
<line x1="99.83" y1="832.00" x2="99.83" y2="852.00" stroke="#000" stroke-width="2.0"/>
<line x1="96.33" y1="852.00" x2="103.33" y2="852.00" stroke="#000" stroke-width="2.6"/>
<polygon points="79.33,843.70 89.13,833.90 98.93,843.70 89.13,853.50" fill="#000"/>
<polygon points="90.03,832.00 99.83,822.20 109.63,832.00 99.83,841.80" fill="#000"/>
<polygon points="100.72,840.00 110.52,830.20 120.32,840.00 110.52,849.80" fill="#000"/>
<polygon points="111.42,850.80 121.22,841.00 131.02,850.80 121.22,860.60" fill="#000"/>
<polygon points="122.12,845.00 131.92,835.20 141.72,845.00 131.92,854.80" fill="#000"/>
<polygon points="143.51,838.00 153.31,828.20 163.11,838.00 153.31,847.80" fill="#000"/>
<polygon points="229.09,774.70 238.89,764.90 248.69,774.70 238.89,784.50" fill="#000"/>
<polygon points="250.48,747.00 260.28,737.20 270.08,747.00 260.28,756.80" fill="#000"/>
<polygon points="271.88,725.00 281.68,715.20 291.48,725.00 281.68,734.80" fill="#000"/>
<polygon points="293.27,681.10 303.07,671.30 312.87,681.10 303.07,690.90" fill="#000"/>
<line x1="89.13" y1="854.50" x2="89.13" y2="864.00" stroke="#D944D6" stroke-width="2.0"/>
<line x1="85.63" y1="864.00" x2="92.63" y2="864.00" stroke="#D944D6" stroke-width="2.6"/>
<line x1="99.83" y1="826.00" x2="99.83" y2="813.80" stroke="#D944D6" stroke-width="2.0"/>
<line x1="96.33" y1="813.80" x2="103.33" y2="813.80" stroke="#D944D6" stroke-width="2.6"/>
<line x1="110.52" y1="844.00" x2="110.52" y2="863.40" stroke="#D944D6" stroke-width="2.0"/>
<line x1="107.02" y1="863.40" x2="114.02" y2="863.40" stroke="#D944D6" stroke-width="2.6"/>
<polygon points="79.33,854.50 89.13,844.70 98.93,854.50 89.13,864.30" fill="#D944D6"/>
<polygon points="90.03,826.00 99.83,816.20 109.63,826.00 99.83,835.80" fill="#D944D6"/>
<polygon points="100.72,844.00 110.52,834.20 120.32,844.00 110.52,853.80" fill="#D944D6"/>
<polygon points="111.42,833.70 121.22,823.90 131.02,833.70 121.22,843.50" fill="#D944D6"/>
<polygon points="122.12,844.50 131.92,834.70 141.72,844.50 131.92,854.30" fill="#D944D6"/>
<polygon points="143.51,836.00 153.31,826.20 163.11,836.00 153.31,845.80" fill="#D944D6"/>
<polygon points="229.09,792.00 238.89,782.20 248.69,792.00 238.89,801.80" fill="#D944D6"/>
<polygon points="250.48,782.80 260.28,773.00 270.08,782.80 260.28,792.60" fill="#D944D6"/>
<polygon points="271.88,767.30 281.68,757.50 291.48,767.30 281.68,777.10" fill="#D944D6"/>
<polygon points="293.27,771.20 303.07,761.40 312.87,771.20 303.07,781.00" fill="#D944D6"/>
<polyline points="146.37,840.72 147.92,840.27 149.37,839.83 150.79,839.38 152.30,838.94 154.00,838.50 155.85,838.08 157.73,837.66 159.64,837.26 161.57,836.85 163.50,836.44 165.42,836.01 167.33,835.57 169.20,835.10 171.05,834.62 172.88,834.15 174.70,833.66 176.51,833.16 178.31,832.64 180.11,832.07 181.90,831.46 183.70,830.80 185.47,830.12 187.18,829.44 188.88,828.75 190.57,828.01 192.31,827.19 194.11,826.26 195.99,825.21 198.00,824.00 200.17,822.58 202.48,820.97 204.90,819.21 207.38,817.36 209.87,815.46 212.31,813.56 214.67,811.73 216.90,810.00 218.98,808.37 220.94,806.79 222.83,805.25 224.68,803.72 226.51,802.19 228.37,800.66 230.29,799.10 232.30,797.50 234.39,795.84 236.51,794.14 238.67,792.40 240.86,790.66 243.09,788.92 245.36,787.22 247.66,785.57 250.00,784.00 252.39,782.48 254.84,780.98 257.33,779.52 259.86,778.09 262.40,776.72 264.95,775.41 267.48,774.17 270.00,773.00 272.43,771.91 274.77,770.89 277.06,769.93 279.38,769.03 281.77,768.19 284.30,767.41 287.02,766.68 290.00,766.00 293.20,765.37 296.56,764.81 300.08,764.30 303.75,763.84 307.58,763.44 311.56,763.08 315.70,762.77 320.00,762.50 324.50,762.29 329.22,762.15 334.12,762.08 339.16,762.04 344.31,762.03 349.53,762.03 354.77,762.02 360.00,762.00 365.56,761.97 371.63,761.94 377.93,761.93 384.20,761.92 390.15,761.91 395.52,761.91 400.03,761.90 403.40,761.90" fill="none" stroke="#D944D6" stroke-width="3.2" stroke-linejoin="round" stroke-linecap="butt" stroke-dasharray="3 3.2"/>
<circle cx="89.13" cy="843.50" r="5.80" fill="none" stroke="#000" stroke-width="1.9"/>
<line x1="86.63" y1="841.30" x2="91.63" y2="841.30" stroke="#000" stroke-width="1.6"/>
<line x1="86.63" y1="845.70" x2="91.63" y2="845.70" stroke="#000" stroke-width="1.6"/>
<line x1="89.13" y1="841.30" x2="89.13" y2="845.70" stroke="#000" stroke-width="1.6"/>
<circle cx="110.52" cy="848.00" r="5.80" fill="none" stroke="#000" stroke-width="1.9"/>
<line x1="108.02" y1="845.80" x2="113.02" y2="845.80" stroke="#000" stroke-width="1.6"/>
<line x1="108.02" y1="850.20" x2="113.02" y2="850.20" stroke="#000" stroke-width="1.6"/>
<line x1="110.52" y1="845.80" x2="110.52" y2="850.20" stroke="#000" stroke-width="1.6"/>
<circle cx="121.22" cy="840.20" r="5.80" fill="none" stroke="#000" stroke-width="1.9"/>
<line x1="118.72" y1="838.00" x2="123.72" y2="838.00" stroke="#000" stroke-width="1.6"/>
<line x1="118.72" y1="842.40" x2="123.72" y2="842.40" stroke="#000" stroke-width="1.6"/>
<line x1="121.22" y1="838.00" x2="121.22" y2="842.40" stroke="#000" stroke-width="1.6"/>
<circle cx="131.92" cy="838.75" r="5.80" fill="none" stroke="#000" stroke-width="1.9"/>
<line x1="129.42" y1="836.55" x2="134.42" y2="836.55" stroke="#000" stroke-width="1.6"/>
<line x1="129.42" y1="840.95" x2="134.42" y2="840.95" stroke="#000" stroke-width="1.6"/>
<line x1="131.92" y1="836.55" x2="131.92" y2="840.95" stroke="#000" stroke-width="1.6"/>
<circle cx="153.31" cy="835.40" r="5.80" fill="none" stroke="#000" stroke-width="1.9"/>
<line x1="150.81" y1="833.20" x2="155.81" y2="833.20" stroke="#000" stroke-width="1.6"/>
<line x1="150.81" y1="837.60" x2="155.81" y2="837.60" stroke="#000" stroke-width="1.6"/>
<line x1="153.31" y1="833.20" x2="153.31" y2="837.60" stroke="#000" stroke-width="1.6"/>
<circle cx="303.07" cy="690.60" r="5.80" fill="none" stroke="#000" stroke-width="1.9"/>
<line x1="300.57" y1="688.40" x2="305.57" y2="688.40" stroke="#000" stroke-width="1.6"/>
<line x1="300.57" y1="692.80" x2="305.57" y2="692.80" stroke="#000" stroke-width="1.6"/>
<line x1="303.07" y1="688.40" x2="303.07" y2="692.80" stroke="#000" stroke-width="1.6"/>
<circle cx="324.46" cy="673.75" r="5.80" fill="none" stroke="#000" stroke-width="1.9"/>
<line x1="321.96" y1="671.55" x2="326.96" y2="671.55" stroke="#000" stroke-width="1.6"/>
<line x1="321.96" y1="675.95" x2="326.96" y2="675.95" stroke="#000" stroke-width="1.6"/>
<line x1="324.46" y1="671.55" x2="324.46" y2="675.95" stroke="#000" stroke-width="1.6"/>
<circle cx="345.86" cy="656.40" r="5.80" fill="none" stroke="#000" stroke-width="1.9"/>
<line x1="343.36" y1="654.20" x2="348.36" y2="654.20" stroke="#000" stroke-width="1.6"/>
<line x1="343.36" y1="658.60" x2="348.36" y2="658.60" stroke="#000" stroke-width="1.6"/>
<line x1="345.86" y1="654.20" x2="345.86" y2="658.60" stroke="#000" stroke-width="1.6"/>
<circle cx="367.25" cy="643.50" r="5.80" fill="none" stroke="#000" stroke-width="1.9"/>
<line x1="364.75" y1="641.30" x2="369.75" y2="641.30" stroke="#000" stroke-width="1.6"/>
<line x1="364.75" y1="645.70" x2="369.75" y2="645.70" stroke="#000" stroke-width="1.6"/>
<line x1="367.25" y1="641.30" x2="367.25" y2="645.70" stroke="#000" stroke-width="1.6"/>
<circle cx="388.65" cy="637.00" r="5.80" fill="none" stroke="#000" stroke-width="1.9"/>
<line x1="386.15" y1="634.80" x2="391.15" y2="634.80" stroke="#000" stroke-width="1.6"/>
<line x1="386.15" y1="639.20" x2="391.15" y2="639.20" stroke="#000" stroke-width="1.6"/>
<line x1="388.65" y1="634.80" x2="388.65" y2="639.20" stroke="#000" stroke-width="1.6"/>
<circle cx="410.04" cy="632.00" r="5.80" fill="none" stroke="#000" stroke-width="1.9"/>
<line x1="407.54" y1="629.80" x2="412.54" y2="629.80" stroke="#000" stroke-width="1.6"/>
<line x1="407.54" y1="634.20" x2="412.54" y2="634.20" stroke="#000" stroke-width="1.6"/>
<line x1="410.04" y1="629.80" x2="410.04" y2="634.20" stroke="#000" stroke-width="1.6"/>
<polyline points="85.00,842.50 86.89,842.48 89.38,842.48 92.32,842.48 95.62,842.46 99.16,842.42 102.81,842.34 106.46,842.20 110.00,842.00 113.58,841.74 117.39,841.46 121.34,841.13 125.34,840.76 129.29,840.32 133.11,839.83 136.71,839.26 140.00,838.60 142.95,837.86 145.64,837.06 148.13,836.18 150.47,835.24 152.74,834.23 154.97,833.15 157.24,832.01 159.60,830.80 162.02,829.52 164.43,828.18 166.83,826.76 169.23,825.28 171.62,823.73 174.01,822.13 176.40,820.47 178.80,818.75 181.20,816.96 183.61,815.08 186.01,813.13 188.42,811.13 190.82,809.09 193.22,807.03 195.61,804.96 198.00,802.90 200.37,800.85 202.74,798.78 205.09,796.70 207.44,794.60 209.80,792.49 212.15,790.35 214.52,788.19 216.90,786.00 219.26,783.81 221.59,781.63 223.91,779.43 226.24,777.21 228.62,774.95 231.05,772.62 233.57,770.21 236.20,767.70 238.92,765.11 241.69,762.45 244.52,759.72 247.43,756.93 250.42,754.06 253.51,751.12 256.70,748.10 260.00,745.00 263.49,741.76 267.18,738.35 271.02,734.82 274.93,731.24 278.84,727.66 282.71,724.14 286.45,720.73 290.00,717.50 293.36,714.47 296.60,711.61 299.74,708.86 302.81,706.17 305.84,703.49 308.87,700.77 311.91,697.96 315.00,695.00 318.12,691.86 321.25,688.58 324.38,685.21 327.50,681.80 330.62,678.39 333.75,675.05 336.88,671.82 340.00,668.75 343.12,665.78 346.25,662.83 349.38,659.94 352.50,657.14 355.62,654.46 358.75,651.94 361.88,649.61 365.00,647.50 368.16,645.64 371.37,643.99 374.59,642.53 377.81,641.23 380.99,640.06 384.10,638.99 387.11,637.98 390.00,637.00 392.88,636.08 395.82,635.25 398.75,634.50 401.56,633.84 404.18,633.27 406.52,632.77 408.49,632.35 410.00,632.00" fill="none" stroke="#000" stroke-width="3.2" stroke-linejoin="round" stroke-linecap="butt"/>
<circle cx="89.13" cy="842.30" r="5.90" fill="none" stroke="#D944D6" stroke-width="2.1"/>
<line x1="89.13" y1="839.30" x2="89.13" y2="845.30" stroke="#D944D6" stroke-width="2.0"/>
<circle cx="110.52" cy="846.50" r="5.90" fill="none" stroke="#D944D6" stroke-width="2.1"/>
<line x1="110.52" y1="840.00" x2="110.52" y2="863.40" stroke="#D944D6" stroke-width="2.0"/>
<line x1="106.92" y1="863.40" x2="114.12" y2="863.40" stroke="#D944D6" stroke-width="2.6"/>
<circle cx="121.22" cy="841.00" r="5.90" fill="none" stroke="#D944D6" stroke-width="2.1"/>
<line x1="121.22" y1="838.00" x2="121.22" y2="844.00" stroke="#D944D6" stroke-width="2.0"/>
<circle cx="153.31" cy="842.10" r="5.90" fill="none" stroke="#D944D6" stroke-width="2.1"/>
<line x1="153.31" y1="835.60" x2="153.31" y2="854.10" stroke="#D944D6" stroke-width="2.0"/>
<line x1="149.71" y1="854.10" x2="156.91" y2="854.10" stroke="#D944D6" stroke-width="2.6"/>
<circle cx="303.07" cy="707.60" r="5.90" fill="none" stroke="#D944D6" stroke-width="2.1"/>
<line x1="303.07" y1="704.60" x2="303.07" y2="710.60" stroke="#D944D6" stroke-width="2.0"/>
<circle cx="324.46" cy="693.75" r="5.90" fill="none" stroke="#D944D6" stroke-width="2.1"/>
<line x1="324.46" y1="687.25" x2="324.46" y2="703.75" stroke="#D944D6" stroke-width="2.0"/>
<line x1="320.86" y1="703.75" x2="328.06" y2="703.75" stroke="#D944D6" stroke-width="2.6"/>
<circle cx="345.86" cy="677.10" r="5.90" fill="none" stroke="#D944D6" stroke-width="2.1"/>
<line x1="345.86" y1="670.60" x2="345.86" y2="685.40" stroke="#D944D6" stroke-width="2.0"/>
<line x1="342.26" y1="685.40" x2="349.46" y2="685.40" stroke="#D944D6" stroke-width="2.6"/>
<circle cx="367.25" cy="672.40" r="5.90" fill="none" stroke="#D944D6" stroke-width="2.1"/>
<line x1="367.25" y1="665.90" x2="367.25" y2="682.80" stroke="#D944D6" stroke-width="2.0"/>
<line x1="363.65" y1="682.80" x2="370.85" y2="682.80" stroke="#D944D6" stroke-width="2.6"/>
<circle cx="388.65" cy="670.00" r="5.90" fill="none" stroke="#D944D6" stroke-width="2.1"/>
<line x1="388.65" y1="663.50" x2="388.65" y2="676.50" stroke="#D944D6" stroke-width="2.0"/>
<line x1="385.05" y1="676.50" x2="392.25" y2="676.50" stroke="#D944D6" stroke-width="2.6"/>
<circle cx="410.04" cy="666.25" r="5.90" fill="none" stroke="#D944D6" stroke-width="2.1"/>
<line x1="410.04" y1="659.75" x2="410.04" y2="675.00" stroke="#D944D6" stroke-width="2.0"/>
<line x1="406.44" y1="675.00" x2="413.64" y2="675.00" stroke="#D944D6" stroke-width="2.6"/>
<polyline points="85.00,843.00 86.89,843.00 89.38,843.01 92.32,843.03 95.62,843.04 99.16,843.04 102.81,843.00 106.46,842.93 110.00,842.80 113.58,842.64 117.39,842.47 121.34,842.27 125.34,842.04 129.29,841.76 133.11,841.41 136.71,841.00 140.00,840.50 142.95,839.92 145.64,839.27 148.13,838.56 150.47,837.79 152.74,836.95 154.97,836.06 157.24,835.11 159.60,834.10 162.02,833.05 164.43,831.95 166.83,830.79 169.23,829.58 171.62,828.30 174.01,826.95 176.40,825.52 178.80,824.00 181.20,822.38 183.61,820.65 186.01,818.84 188.42,816.96 190.82,815.02 193.22,813.06 195.61,811.08 198.00,809.10 200.37,807.12 202.74,805.10 205.09,803.07 207.44,801.00 209.80,798.91 212.15,796.80 214.52,794.66 216.90,792.50 219.26,790.34 221.59,788.18 223.91,786.01 226.24,783.81 228.62,781.57 231.05,779.26 233.57,776.88 236.20,774.40 238.92,771.85 241.69,769.24 244.52,766.57 247.43,763.83 250.42,761.02 253.51,758.11 256.70,755.11 260.00,752.00 263.49,748.74 267.18,745.30 271.02,741.75 274.93,738.12 278.84,734.45 282.71,730.81 286.45,727.23 290.00,723.75 293.36,720.32 296.60,716.87 299.74,713.43 302.81,710.03 305.84,706.71 308.87,703.49 311.91,700.41 315.00,697.50 318.12,694.75 321.25,692.11 324.38,689.59 327.50,687.19 330.62,684.90 333.75,682.73 336.88,680.68 340.00,678.75 343.12,676.93 346.25,675.23 349.38,673.65 352.50,672.19 355.62,670.84 358.75,669.61 361.88,668.50 365.00,667.50 368.16,666.66 371.37,666.01 374.59,665.49 377.81,665.08 380.99,664.74 384.10,664.42 387.11,664.11 390.00,663.75 392.88,663.36 395.82,662.98 398.75,662.61 401.56,662.27 404.18,661.95 406.52,661.67 408.49,661.43 410.00,661.25" fill="none" stroke="#D944D6" stroke-width="3.2" stroke-linejoin="round" stroke-linecap="butt"/>
</svg></body></html>
